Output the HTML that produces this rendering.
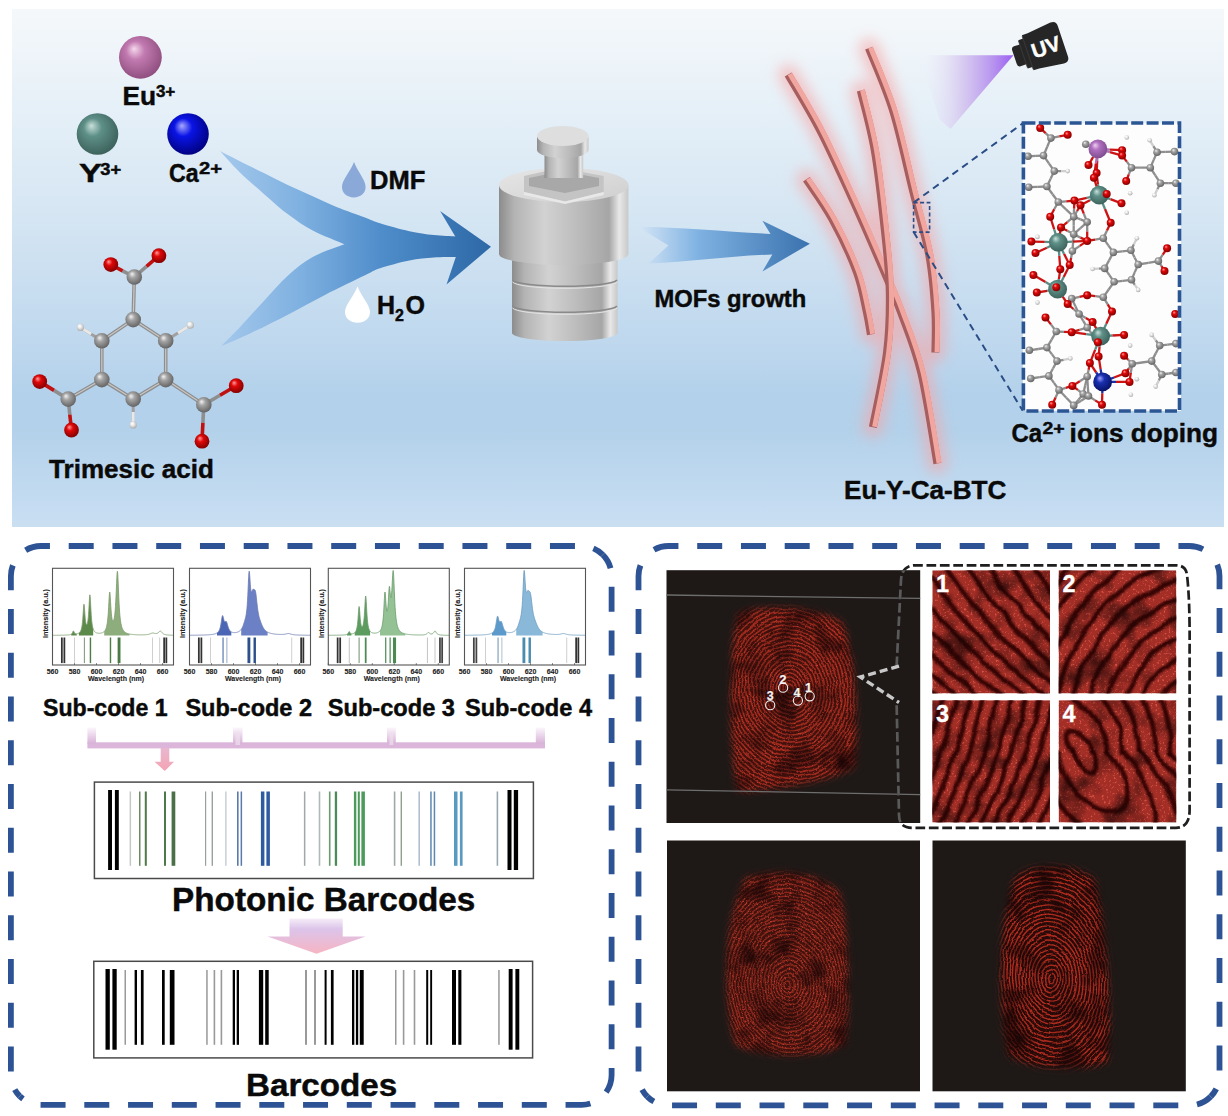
<!DOCTYPE html>
<html><head><meta charset="utf-8">
<style>
html,body{margin:0;padding:0;background:#fff;}
body{width:1228px;height:1116px;overflow:hidden;position:relative;}
svg{position:absolute;left:0;top:0;display:block;}
text{font-family:"Liberation Sans",sans-serif;font-weight:bold;fill:#0a0a0a;stroke:#0a0a0a;stroke-width:0.45px;}
</style></head>
<body>
<svg width="1228" height="1116" viewBox="0 0 1228 1116">
<defs>
<radialGradient id="gEu" cx="0.45" cy="0.42" r="0.62" fx="0.35" fy="0.3"><stop offset="0" stop-color="#f4d8ec"/><stop offset="0.35" stop-color="#c27ab0"/><stop offset="1" stop-color="#8c4c7c"/></radialGradient>
<radialGradient id="gY" cx="0.45" cy="0.42" r="0.62" fx="0.35" fy="0.3"><stop offset="0" stop-color="#c8e0da"/><stop offset="0.35" stop-color="#5e9088"/><stop offset="1" stop-color="#3a5e58"/></radialGradient>
<radialGradient id="gCa" cx="0.45" cy="0.42" r="0.62" fx="0.35" fy="0.3"><stop offset="0" stop-color="#a8a8ff"/><stop offset="0.35" stop-color="#0a14e6"/><stop offset="1" stop-color="#00007a"/></radialGradient>
<radialGradient id="gC" cx="0.45" cy="0.42" r="0.62" fx="0.35" fy="0.3"><stop offset="0" stop-color="#f2f2f2"/><stop offset="0.35" stop-color="#a4a4a4"/><stop offset="1" stop-color="#5e5e5e"/></radialGradient>
<radialGradient id="gO" cx="0.45" cy="0.42" r="0.62" fx="0.35" fy="0.3"><stop offset="0" stop-color="#ff9a9a"/><stop offset="0.35" stop-color="#e00808"/><stop offset="1" stop-color="#7a0000"/></radialGradient>
<radialGradient id="gH" cx="0.45" cy="0.42" r="0.62" fx="0.35" fy="0.3"><stop offset="0" stop-color="#ffffff"/><stop offset="0.35" stop-color="#eeeeee"/><stop offset="1" stop-color="#a8a8a8"/></radialGradient>
<radialGradient id="gEu2" cx="0.45" cy="0.42" r="0.62" fx="0.35" fy="0.3"><stop offset="0" stop-color="#f0d0f0"/><stop offset="0.35" stop-color="#b070c0"/><stop offset="1" stop-color="#7a4a8a"/></radialGradient>
<radialGradient id="gCa2" cx="0.45" cy="0.42" r="0.62" fx="0.35" fy="0.3"><stop offset="0" stop-color="#a0a0ff"/><stop offset="0.35" stop-color="#1830b0"/><stop offset="1" stop-color="#081060"/></radialGradient>
<linearGradient id="bgTop" x1="0" y1="0" x2="0" y2="1"><stop offset="0" stop-color="#f5f8fb"/><stop offset="0.03" stop-color="#f3f7fa"/><stop offset="0.235" stop-color="#e2eef7"/><stop offset="0.39" stop-color="#d6e6f3"/><stop offset="0.64" stop-color="#bfd8ee"/><stop offset="0.745" stop-color="#b3d1eb"/><stop offset="0.81" stop-color="#b3d1ea"/><stop offset="0.89" stop-color="#bcd7ee"/><stop offset="0.98" stop-color="#c7ddf2"/><stop offset="1" stop-color="#cadff0"/></linearGradient>
<linearGradient id="gArrow1" x1="221" y1="0" x2="491" y2="0" gradientUnits="userSpaceOnUse"><stop offset="0" stop-color="#a4c8ec"/><stop offset="0.3" stop-color="#7eb0e0"/><stop offset="0.6" stop-color="#4e8cca"/><stop offset="1" stop-color="#2e68a6"/></linearGradient>
<linearGradient id="gArrow2" x1="638" y1="0" x2="810" y2="0" gradientUnits="userSpaceOnUse"><stop offset="0" stop-color="#d6e6f6"/><stop offset="0.35" stop-color="#7fb2e2"/><stop offset="1" stop-color="#3a72ae"/></linearGradient>
<linearGradient id="gMetal" x1="0" y1="0" x2="1" y2="0"><stop offset="0" stop-color="#8c8c8c"/><stop offset="0.12" stop-color="#b4b4b4"/><stop offset="0.35" stop-color="#d2d2d2"/><stop offset="0.6" stop-color="#bdbdbd"/><stop offset="0.85" stop-color="#a6a6a6"/><stop offset="0.93" stop-color="#e8e8e8"/><stop offset="1" stop-color="#c8c8c8"/></linearGradient>
<linearGradient id="gMetalTop" x1="0" y1="0" x2="1" y2="1"><stop offset="0" stop-color="#e6e6e6"/><stop offset="1" stop-color="#cfcfcf"/></linearGradient>
<filter id="glow" x="-50%" y="-20%" width="200%" height="140%"><feGaussianBlur stdDeviation="7"/></filter>
<linearGradient id="gUV" x1="1013" y1="0" x2="922" y2="0" gradientUnits="userSpaceOnUse"><stop offset="0" stop-color="#9c60f2"/><stop offset="0.22" stop-color="#b48eee" stop-opacity="0.95"/><stop offset="0.55" stop-color="#d2c0ee" stop-opacity="0.8"/><stop offset="1" stop-color="#ece8f8" stop-opacity="0"/></linearGradient>
<linearGradient id="gStub" x1="0" y1="0" x2="0" y2="1"><stop offset="0" stop-color="#fbf6fb"/><stop offset="1" stop-color="#d8b2d8"/></linearGradient>
<linearGradient id="gStubMid" x1="0" y1="0" x2="1" y2="0"><stop offset="0" stop-color="#d8b8da"/><stop offset="0.5" stop-color="#f4eaf4"/><stop offset="1" stop-color="#d8b8da"/></linearGradient>
<linearGradient id="gDown" x1="0" y1="0" x2="0" y2="1"><stop offset="0" stop-color="#e8b8d0"/><stop offset="1" stop-color="#f5a3b3"/></linearGradient>
<linearGradient id="gDown2" x1="0" y1="0" x2="0" y2="1"><stop offset="0" stop-color="#f6eef8"/><stop offset="0.3" stop-color="#dcc4ea"/><stop offset="1" stop-color="#f7b4c2"/></linearGradient>
<filter id="dots" x="0" y="0" width="1" height="1" filterUnits="objectBoundingBox" color-interpolation-filters="sRGB"><feTurbulence type="fractalNoise" baseFrequency="0.75" numOctaves="2" seed="3"/><feColorMatrix type="matrix" values="0 0 0 0 0.92  0 0 0 0 0.3  0 0 0 0 0.25  0 0 0 6 -3.55"/></filter>
<filter id="dots2" x="0" y="0" width="1" height="1" filterUnits="objectBoundingBox" color-interpolation-filters="sRGB"><feTurbulence type="fractalNoise" baseFrequency="0.45" numOctaves="2" seed="5"/><feColorMatrix type="matrix" values="0 0 0 0 0.93  0 0 0 0 0.38  0 0 0 0 0.32  0 0 0 5 -2.9"/></filter>
<filter id="mottle" x="0" y="0" width="1" height="1" filterUnits="objectBoundingBox" color-interpolation-filters="sRGB"><feTurbulence type="fractalNoise" baseFrequency="0.035" numOctaves="3" seed="11"/><feColorMatrix type="matrix" values="0 0 0 0 0.1  0 0 0 0 0.02  0 0 0 0 0.02  0 0 0 2.2 -1.0"/></filter>
<filter id="blur4"><feGaussianBlur stdDeviation="3.5"/></filter>
<filter id="wavy2" x="-10%" y="-10%" width="120%" height="120%"><feTurbulence type="fractalNoise" baseFrequency="0.035" numOctaves="2" seed="21" result="t"/><feDisplacementMap in="SourceGraphic" in2="t" scale="8" xChannelSelector="R" yChannelSelector="G"/></filter>
<filter id="blur1"><feGaussianBlur stdDeviation="1.3"/></filter>
<filter id="blur06"><feGaussianBlur stdDeviation="0.5"/></filter>
<filter id="wavy" x="-10%" y="-10%" width="120%" height="120%"><feTurbulence type="fractalNoise" baseFrequency="0.05" numOctaves="2" seed="9" result="t"/><feDisplacementMap in="SourceGraphic" in2="t" scale="6" xChannelSelector="R" yChannelSelector="G"/></filter>
<clipPath id="clipA"><rect x="666.5" y="570.2" width="253.7" height="252.8"/></clipPath>
<mask id="maskA" maskUnits="userSpaceOnUse" x="666.5" y="570.2" width="253.7" height="252.8"><path d="M738 612 C 770 604, 815 606, 842 622 C 856 650, 858 720, 856 765 C 850 778, 760 793, 737 791 C 728 740, 728 650, 738 612 Z" fill="#fff" filter="url(#blur4)"/></mask>
<clipPath id="clipB"><rect x="667" y="840.5" width="253.0" height="250.8"/></clipPath>
<mask id="maskB" maskUnits="userSpaceOnUse" x="667" y="840.5" width="253.0" height="250.8"><path d="M745 878 C 775 866, 820 872, 840 892 C 850 930, 850 1010, 846 1045 C 820 1060, 760 1058, 735 1045 C 722 1000, 722 920, 745 878 Z" fill="#fff" filter="url(#blur4)"/></mask>
<clipPath id="clipC"><rect x="932.5" y="840.5" width="253.3" height="250.8"/></clipPath>
<mask id="maskC" maskUnits="userSpaceOnUse" x="932.5" y="840.5" width="253.3" height="250.8"><path d="M1015 878 C 1030 862, 1075 862, 1095 880 C 1108 930, 1112 1020, 1108 1062 C 1080 1072, 1030 1070, 1008 1055 C 997 1000, 998 920, 1015 878 Z" fill="#fff" filter="url(#blur4)"/></mask>
<clipPath id="tclip1"><rect x="932.3" y="570.3" width="117.7" height="123.1"/></clipPath>
<clipPath id="tclip2"><rect x="1058.6" y="570.3" width="117.7" height="123.1"/></clipPath>
<clipPath id="tclip3"><rect x="932.3" y="700.2" width="117.7" height="122.3"/></clipPath>
<clipPath id="tclip4"><rect x="1058.6" y="700.2" width="117.7" height="122.3"/></clipPath>
<clipPath id="brclip"><rect x="880" y="570.2" width="40.2" height="252.8"/></clipPath>
</defs>
<rect x="12" y="9" width="1212" height="518" fill="url(#bgTop)"/>
<circle cx="140.4" cy="57.3" r="21.4" fill="url(#gEu)"/>
<circle cx="97.5" cy="134" r="20.8" fill="url(#gY)"/>
<circle cx="188" cy="134" r="20.8" fill="url(#gCa)"/>
<text x="122.4" y="104.8" font-size="26.3">Eu</text><text x="155.9" y="97.1" font-size="17">3+</text>
<text x="79.05" y="182.4" font-size="25.5" textLength="22.9" lengthAdjust="spacingAndGlyphs">Y</text><text x="100.2" y="174.6" font-size="16.5" textLength="20.9" lengthAdjust="spacingAndGlyphs">3+</text>
<text x="169.1" y="181.7" font-size="25.5" textLength="29.6" lengthAdjust="spacingAndGlyphs">Ca</text><text x="199.1" y="174.4" font-size="16.5" textLength="23" lengthAdjust="spacingAndGlyphs">2+</text>
<line x1="133.2" y1="319.6" x2="101.8" y2="340.8" stroke="#8e8e8e" stroke-width="3.6"/>
<line x1="133.2" y1="319.6" x2="101.8" y2="340.8" stroke="#c8c8c8" stroke-width="1.2"/>
<line x1="101.8" y1="340.8" x2="101.8" y2="379.6" stroke="#8e8e8e" stroke-width="3.6"/>
<line x1="101.8" y1="340.8" x2="101.8" y2="379.6" stroke="#c8c8c8" stroke-width="1.2"/>
<line x1="101.8" y1="379.6" x2="133.2" y2="399.1" stroke="#8e8e8e" stroke-width="3.6"/>
<line x1="101.8" y1="379.6" x2="133.2" y2="399.1" stroke="#c8c8c8" stroke-width="1.2"/>
<line x1="133.2" y1="399.1" x2="165.7" y2="379.6" stroke="#8e8e8e" stroke-width="3.6"/>
<line x1="133.2" y1="399.1" x2="165.7" y2="379.6" stroke="#c8c8c8" stroke-width="1.2"/>
<line x1="165.7" y1="379.6" x2="165.7" y2="340.8" stroke="#8e8e8e" stroke-width="3.6"/>
<line x1="165.7" y1="379.6" x2="165.7" y2="340.8" stroke="#c8c8c8" stroke-width="1.2"/>
<line x1="165.7" y1="340.8" x2="133.2" y2="319.6" stroke="#8e8e8e" stroke-width="3.6"/>
<line x1="165.7" y1="340.8" x2="133.2" y2="319.6" stroke="#c8c8c8" stroke-width="1.2"/>
<line x1="133.2" y1="319.6" x2="134.3" y2="277" stroke="#8e8e8e" stroke-width="3.6"/>
<line x1="133.2" y1="319.6" x2="134.3" y2="277" stroke="#c8c8c8" stroke-width="1.2"/>
<line x1="101.8" y1="379.6" x2="68.2" y2="399.1" stroke="#8e8e8e" stroke-width="3.6"/>
<line x1="101.8" y1="379.6" x2="68.2" y2="399.1" stroke="#c8c8c8" stroke-width="1.2"/>
<line x1="165.7" y1="379.6" x2="203.8" y2="404.7" stroke="#8e8e8e" stroke-width="3.6"/>
<line x1="165.7" y1="379.6" x2="203.8" y2="404.7" stroke="#c8c8c8" stroke-width="1.2"/>
<line x1="134.3" y1="277" x2="122.6" y2="270.8" stroke="#8e8e8e" stroke-width="3.6"/>
<line x1="122.6" y1="270.8" x2="110.8" y2="264.6" stroke="#c01010" stroke-width="3.6"/>
<line x1="134.3" y1="277" x2="146.6" y2="266.4" stroke="#8e8e8e" stroke-width="3.6"/>
<line x1="146.6" y1="266.4" x2="158.9" y2="255.7" stroke="#c01010" stroke-width="3.6"/>
<line x1="68.2" y1="399.1" x2="54" y2="390.4" stroke="#8e8e8e" stroke-width="3.6"/>
<line x1="54" y1="390.4" x2="39.7" y2="381.6" stroke="#c01010" stroke-width="3.6"/>
<line x1="68.2" y1="399.1" x2="69.8" y2="414.6" stroke="#8e8e8e" stroke-width="3.6"/>
<line x1="69.8" y1="414.6" x2="71.5" y2="430" stroke="#c01010" stroke-width="3.6"/>
<line x1="203.8" y1="404.7" x2="220" y2="395.2" stroke="#8e8e8e" stroke-width="3.6"/>
<line x1="220" y1="395.2" x2="236.2" y2="385.7" stroke="#c01010" stroke-width="3.6"/>
<line x1="203.8" y1="404.7" x2="202.9" y2="422.9" stroke="#8e8e8e" stroke-width="3.6"/>
<line x1="202.9" y1="422.9" x2="202" y2="441.2" stroke="#c01010" stroke-width="3.6"/>
<line x1="101.8" y1="340.8" x2="80.5" y2="327.4" stroke="#a0a0a0" stroke-width="3"/>
<line x1="91.2" y1="334.1" x2="80.5" y2="327.4" stroke="#e8e8e8" stroke-width="3"/>
<line x1="165.7" y1="340.8" x2="190.3" y2="325.2" stroke="#a0a0a0" stroke-width="3"/>
<line x1="178" y1="333" x2="190.3" y2="325.2" stroke="#e8e8e8" stroke-width="3"/>
<line x1="133.2" y1="399.1" x2="133.2" y2="424.9" stroke="#a0a0a0" stroke-width="3"/>
<line x1="133.2" y1="412" x2="133.2" y2="424.9" stroke="#e8e8e8" stroke-width="3"/>
<circle cx="133.2" cy="319.6" r="7.8" fill="url(#gC)"/>
<circle cx="101.8" cy="340.8" r="7.8" fill="url(#gC)"/>
<circle cx="165.7" cy="340.8" r="7.8" fill="url(#gC)"/>
<circle cx="101.8" cy="379.6" r="7.8" fill="url(#gC)"/>
<circle cx="165.7" cy="379.6" r="7.8" fill="url(#gC)"/>
<circle cx="133.2" cy="399.1" r="7.8" fill="url(#gC)"/>
<circle cx="134.3" cy="277" r="7.8" fill="url(#gC)"/>
<circle cx="68.2" cy="399.1" r="7.8" fill="url(#gC)"/>
<circle cx="203.8" cy="404.7" r="7.8" fill="url(#gC)"/>
<circle cx="110.8" cy="264.6" r="7.4" fill="url(#gO)"/>
<circle cx="158.9" cy="255.7" r="7.4" fill="url(#gO)"/>
<circle cx="39.7" cy="381.6" r="7.4" fill="url(#gO)"/>
<circle cx="71.5" cy="430" r="7.4" fill="url(#gO)"/>
<circle cx="236.2" cy="385.7" r="7.4" fill="url(#gO)"/>
<circle cx="202" cy="441.2" r="7.4" fill="url(#gO)"/>
<circle cx="80.5" cy="327.4" r="3.6" fill="url(#gH)"/>
<circle cx="190.3" cy="325.2" r="3.6" fill="url(#gH)"/>
<circle cx="133.2" cy="424.9" r="3.6" fill="url(#gH)"/>
<text x="49.1" y="477.9" font-size="25.5" textLength="164.8" lengthAdjust="spacingAndGlyphs">Trimesic acid</text>
<path d="M220.0 151.0 C223.2 152.7 232.1 157.2 239.4 160.9 C246.7 164.6 255.7 169.0 263.9 173.1 C272.0 177.2 280.2 181.4 288.3 185.3 C296.4 189.2 304.6 192.6 312.7 196.3 C320.8 200.0 328.4 203.8 337.1 207.3 C345.8 210.8 357.9 214.8 365.0 217.5 C372.1 220.2 372.6 221.0 380.0 223.3 C387.4 225.6 400.3 229.2 409.3 231.2 C418.3 233.2 426.1 234.2 433.8 235.1 C441.5 236.0 451.7 236.3 455.3 236.5 L440.1 211.1 L491 246.8 L446.5 284.4 L455.8 257.1 C452.1 257.2 441.6 257.0 433.8 257.6 C426.1 258.2 418.3 258.7 409.3 260.5 C400.3 262.3 387.4 265.8 380.0 268.3 C372.6 270.8 374.2 270.9 365.0 275.3 C355.8 279.7 337.7 288.4 324.9 294.9 C312.1 301.4 300.5 308.1 288.3 314.4 C276.1 320.7 262.8 327.4 251.6 332.7 C240.4 338.0 226.2 343.9 221.1 346.2 C224.2 343.1 232.3 335.3 239.4 327.8 C246.5 320.3 255.7 309.8 263.9 301.0 C272.0 292.2 280.2 282.6 288.3 275.3 C296.4 268.0 303.3 262.2 312.7 257.0 C322.1 251.8 339.2 246.4 344.5 244.3 C339.2 242.0 322.1 235.4 312.7 230.5 C303.3 225.6 296.4 220.7 288.3 214.6 C280.2 208.5 272.0 201.0 263.9 193.9 C255.7 186.8 246.7 179.1 239.4 171.9 C232.1 164.8 223.2 154.5 220.0 151.0 Z" fill="url(#gArrow1)"/>
<path d="M354 162 C 358 172, 365.6 180, 365.6 187 C 365.6 193, 360.5 197.4, 353.8 197.4 C 347 197.4, 342 193, 342 187 C 342 180, 350 172, 354 162 Z" fill="#8aa8d8"/>
<text x="370" y="188.5" font-size="26" textLength="55.3" lengthAdjust="spacingAndGlyphs">DMF</text>
<path d="M357.5 286.6 C 361.5 297, 370 305, 370 312 C 370 318.5, 364.5 322.7, 357.5 322.7 C 350.5 322.7, 345 318.5, 345 312 C 345 305, 353.5 297, 357.5 286.6 Z" fill="#ffffff"/>
<text x="376.9" y="314.2" font-size="25">H</text><text x="394.9" y="320.7" font-size="16">2</text><text x="405.6" y="314.2" font-size="25">O</text>
<path d="M512 250 L512 333 A52.8 8 0 0 0 617.6 333 L617.6 250 Z" fill="url(#gMetal)"/>
<path d="M512.5 280 A52.5 7 0 0 0 617 280" fill="none" stroke="#8a8a8a" stroke-width="1.6"/>
<path d="M512.5 282 A52.5 7 0 0 0 617 282" fill="none" stroke="#e4e4e4" stroke-width="1"/>
<path d="M512.5 306 A52.5 7 0 0 0 617 306" fill="none" stroke="#8a8a8a" stroke-width="1.6"/>
<path d="M512.5 308 A52.5 7 0 0 0 617 308" fill="none" stroke="#e4e4e4" stroke-width="1"/>
<path d="M499 185 L499 254 A64.7 11 0 0 0 628.4 254 L628.4 185 Z" fill="url(#gMetal)"/>
<ellipse cx="563.7" cy="185" rx="64.7" ry="17" fill="url(#gMetalTop)"/>
<path d="M524 176 L560 168 L603.7 176 L603.7 192 L565 201.4 L524 192 Z" fill="#c4c4c4"/>
<path d="M529 178 L562 171 L599 178 L599 186 L565 193 L529 186 Z" fill="#a8a8a8"/>
<path d="M524 192 L565 201.4 L603.7 192 L603.7 195 L565 204 L524 195 Z" fill="#e8e8e8"/>
<rect x="544.5" y="145" width="38.7" height="33" fill="url(#gMetal)"/>
<path d="M537 137 L537 150 A25.8 8 0 0 0 588.6 150 L588.6 137 Z" fill="url(#gMetal)"/>
<ellipse cx="562.8" cy="136" rx="25.8" ry="10" fill="#dedede"/>
<path d="M637.9 226.7 C 680 227, 730 232, 770.5 233.9 L 762.4 220.8 L 809.9 243.7 L 762.4 271.5 L 772.3 254.5 C 730 256, 690 262, 648.7 263.4 L 668.4 245.5 Z" fill="url(#gArrow2)"/>
<text x="654.5" y="306.9" font-size="23.3" textLength="151.8" lengthAdjust="spacingAndGlyphs">MOFs growth</text>
<g filter="url(#glow)" opacity="0.6">
<path d="M788.2 74.4 C793.6 83.8 809.8 110.0 820.5 130.8 C831.2 151.6 842.6 177.2 852.7 199.4 C862.8 221.6 872.9 245.1 881.0 263.9 C889.1 282.7 894.4 294.2 901.1 312.3 C907.8 330.4 915.2 347.5 921.3 372.7 C927.3 397.9 934.7 448.4 937.4 463.5" fill="none" stroke="#f7a4a4" stroke-width="20" stroke-linecap="round"/>
<path d="M868.9 48.1 C872.9 58.5 885.7 86.7 893.1 110.6 C900.5 134.5 907.2 167.1 913.2 191.3 C919.2 215.5 925.7 235.6 929.4 255.8 C933.1 276.0 934.4 296.2 935.4 312.3 C936.4 328.4 935.4 345.9 935.4 352.6" fill="none" stroke="#f7a4a4" stroke-width="20" stroke-linecap="round"/>
<path d="M860.8 90.5 C863.1 100.6 870.9 127.5 874.9 151.0 C878.9 174.5 882.5 208.1 885.0 231.6 C887.5 255.1 889.5 271.9 889.8 292.1 C890.1 312.3 889.8 330.1 887.0 352.6 C884.2 375.1 875.2 414.8 872.9 427.2" fill="none" stroke="#f7a4a4" stroke-width="20" stroke-linecap="round"/>
<path d="M806.4 179.2 C810.8 185.9 824.2 204.1 832.6 219.5 C841.0 234.9 851.1 256.4 856.8 271.9 C862.5 287.4 864.5 301.9 866.9 312.3 C869.2 322.7 870.2 330.7 870.9 334.4" fill="none" stroke="#f7a4a4" stroke-width="20" stroke-linecap="round"/>
</g>
<path d="M788.2 74.4 C793.6 83.8 809.8 110.0 820.5 130.8 C831.2 151.6 842.6 177.2 852.7 199.4 C862.8 221.6 872.9 245.1 881.0 263.9 C889.1 282.7 894.4 294.2 901.1 312.3 C907.8 330.4 915.2 347.5 921.3 372.7 C927.3 397.9 934.7 448.4 937.4 463.5" fill="none" stroke="#a65e5e" stroke-width="8"/>
<path d="M788.2 74.4 C793.6 83.8 809.8 110.0 820.5 130.8 C831.2 151.6 842.6 177.2 852.7 199.4 C862.8 221.6 872.9 245.1 881.0 263.9 C889.1 282.7 894.4 294.2 901.1 312.3 C907.8 330.4 915.2 347.5 921.3 372.7 C927.3 397.9 934.7 448.4 937.4 463.5" fill="none" stroke="#f2a6a0" stroke-width="5" transform="translate(1.7,-0.5)"/>
<path d="M868.9 48.1 C872.9 58.5 885.7 86.7 893.1 110.6 C900.5 134.5 907.2 167.1 913.2 191.3 C919.2 215.5 925.7 235.6 929.4 255.8 C933.1 276.0 934.4 296.2 935.4 312.3 C936.4 328.4 935.4 345.9 935.4 352.6" fill="none" stroke="#a65e5e" stroke-width="8"/>
<path d="M868.9 48.1 C872.9 58.5 885.7 86.7 893.1 110.6 C900.5 134.5 907.2 167.1 913.2 191.3 C919.2 215.5 925.7 235.6 929.4 255.8 C933.1 276.0 934.4 296.2 935.4 312.3 C936.4 328.4 935.4 345.9 935.4 352.6" fill="none" stroke="#f2a6a0" stroke-width="5" transform="translate(1.7,-0.5)"/>
<path d="M860.8 90.5 C863.1 100.6 870.9 127.5 874.9 151.0 C878.9 174.5 882.5 208.1 885.0 231.6 C887.5 255.1 889.5 271.9 889.8 292.1 C890.1 312.3 889.8 330.1 887.0 352.6 C884.2 375.1 875.2 414.8 872.9 427.2" fill="none" stroke="#a65e5e" stroke-width="8"/>
<path d="M860.8 90.5 C863.1 100.6 870.9 127.5 874.9 151.0 C878.9 174.5 882.5 208.1 885.0 231.6 C887.5 255.1 889.5 271.9 889.8 292.1 C890.1 312.3 889.8 330.1 887.0 352.6 C884.2 375.1 875.2 414.8 872.9 427.2" fill="none" stroke="#f2a6a0" stroke-width="5" transform="translate(1.7,-0.5)"/>
<path d="M806.4 179.2 C810.8 185.9 824.2 204.1 832.6 219.5 C841.0 234.9 851.1 256.4 856.8 271.9 C862.5 287.4 864.5 301.9 866.9 312.3 C869.2 322.7 870.2 330.7 870.9 334.4" fill="none" stroke="#a65e5e" stroke-width="8"/>
<path d="M806.4 179.2 C810.8 185.9 824.2 204.1 832.6 219.5 C841.0 234.9 851.1 256.4 856.8 271.9 C862.5 287.4 864.5 301.9 866.9 312.3 C869.2 322.7 870.2 330.7 870.9 334.4" fill="none" stroke="#f2a6a0" stroke-width="5" transform="translate(1.7,-0.5)"/>
<rect x="913.6" y="202.6" width="16" height="29.5" fill="none" stroke="#2a4d86" stroke-width="1.6" stroke-dasharray="4 2.5"/>
<line x1="913.6" y1="202.6" x2="1022.8" y2="123.3" stroke="#2a4d86" stroke-width="2" stroke-dasharray="7 5"/>
<line x1="913.6" y1="232.1" x2="1022.8" y2="410.8" stroke="#2a4d86" stroke-width="2" stroke-dasharray="7 5"/>
<path d="M1013.5 55.3 L918 55.3 L940 120 L950.5 128.9 Z" fill="url(#gUV)"/>
<g transform="translate(1015.4,56.9) rotate(-18.4)"><path d="M2 -10.5 L8 -10.5 L8 -15 L13 -15 L13 -18.5 L19 -18.5 L44 -21.5 Q50 -22 50 -16 L50 16 Q50 22 44 21.5 L19 18.5 L13 18.5 L13 15 L8 15 L8 10.5 L2 10.5 Q-1 10.5 -1 7 L-1 -7 Q-1 -10.5 2 -10.5 Z" fill="#262626"/><path d="M8 -14 L8 14 M13 -17.5 L13 17.5" stroke="#3c3c3c" stroke-width="0.8"/><text x="32" y="7.6" font-size="21" style="fill:#fff;stroke:#fff" text-anchor="middle">UV</text></g>
<rect x="1022.8" y="123.3" width="158.2" height="287.5" fill="#fdfdfd"/>
<svg x="1022.8" y="123.3" width="158.2" height="287.5" viewBox="1022.8 123.3 158.2 287.5" overflow="hidden">
<line x1="1050.9" y1="138.1" x2="1047.2" y2="146.8" stroke="#8e8e8e" stroke-width="2.3"/>
<line x1="1047.2" y1="146.8" x2="1043.5" y2="155.6" stroke="#8e8e8e" stroke-width="2.3"/>
<line x1="1050.9" y1="138.1" x2="1059.3" y2="136.4" stroke="#8e8e8e" stroke-width="2.3"/>
<line x1="1059.3" y1="136.4" x2="1067.7" y2="134.8" stroke="#cc1414" stroke-width="2.3"/>
<line x1="1050.9" y1="138.1" x2="1045.6" y2="133.1" stroke="#8e8e8e" stroke-width="2.3"/>
<line x1="1045.6" y1="133.1" x2="1040.2" y2="128" stroke="#cc1414" stroke-width="2.3"/>
<line x1="1043.5" y1="155.6" x2="1048.9" y2="163.3" stroke="#8e8e8e" stroke-width="2.3"/>
<line x1="1048.9" y1="163.3" x2="1054.3" y2="171.1" stroke="#8e8e8e" stroke-width="2.3"/>
<line x1="1043.5" y1="155.6" x2="1035.8" y2="155.9" stroke="#8e8e8e" stroke-width="2.3"/>
<line x1="1035.8" y1="155.9" x2="1028" y2="156.3" stroke="#8e8e8e" stroke-width="2.3"/>
<line x1="1054.3" y1="171.1" x2="1050.6" y2="178.8" stroke="#8e8e8e" stroke-width="2.3"/>
<line x1="1050.6" y1="178.8" x2="1046.9" y2="186.5" stroke="#8e8e8e" stroke-width="2.3"/>
<line x1="1054.3" y1="171.1" x2="1061.0" y2="171.1" stroke="#8e8e8e" stroke-width="2.3"/>
<line x1="1061.0" y1="171.1" x2="1067.7" y2="171.1" stroke="#cfcfcf" stroke-width="2.3"/>
<line x1="1046.9" y1="186.5" x2="1052.6" y2="194.2" stroke="#8e8e8e" stroke-width="2.3"/>
<line x1="1052.6" y1="194.2" x2="1058.3" y2="202" stroke="#8e8e8e" stroke-width="2.3"/>
<line x1="1046.9" y1="186.5" x2="1037.8" y2="186.8" stroke="#8e8e8e" stroke-width="2.3"/>
<line x1="1037.8" y1="186.8" x2="1028.7" y2="187.2" stroke="#8e8e8e" stroke-width="2.3"/>
<line x1="1058.3" y1="202" x2="1066.0" y2="209.3" stroke="#8e8e8e" stroke-width="2.3"/>
<line x1="1066.0" y1="209.3" x2="1073.7" y2="216.7" stroke="#8e8e8e" stroke-width="2.3"/>
<line x1="1058.3" y1="202" x2="1066.3" y2="201.3" stroke="#8e8e8e" stroke-width="2.3"/>
<line x1="1066.3" y1="201.3" x2="1074.4" y2="200.6" stroke="#cc1414" stroke-width="2.3"/>
<line x1="1058.3" y1="202" x2="1054.2" y2="209.3" stroke="#8e8e8e" stroke-width="2.3"/>
<line x1="1054.2" y1="209.3" x2="1050.2" y2="216.7" stroke="#cc1414" stroke-width="2.3"/>
<line x1="1131.5" y1="167.7" x2="1140.9" y2="167.7" stroke="#8e8e8e" stroke-width="2.3"/>
<line x1="1140.9" y1="167.7" x2="1150.3" y2="167.7" stroke="#8e8e8e" stroke-width="2.3"/>
<line x1="1131.5" y1="167.7" x2="1126.8" y2="161.6" stroke="#8e8e8e" stroke-width="2.3"/>
<line x1="1126.8" y1="161.6" x2="1122.1" y2="155.6" stroke="#cc1414" stroke-width="2.3"/>
<line x1="1131.5" y1="167.7" x2="1128.8" y2="174.4" stroke="#8e8e8e" stroke-width="2.3"/>
<line x1="1128.8" y1="174.4" x2="1126.2" y2="181.1" stroke="#cc1414" stroke-width="2.3"/>
<line x1="1150.3" y1="167.7" x2="1153.7" y2="159.9" stroke="#8e8e8e" stroke-width="2.3"/>
<line x1="1153.7" y1="159.9" x2="1157.1" y2="152.2" stroke="#8e8e8e" stroke-width="2.3"/>
<line x1="1150.3" y1="167.7" x2="1155.3" y2="175.4" stroke="#8e8e8e" stroke-width="2.3"/>
<line x1="1155.3" y1="175.4" x2="1160.4" y2="183.2" stroke="#8e8e8e" stroke-width="2.3"/>
<line x1="1157.1" y1="152.2" x2="1165.8" y2="151.9" stroke="#8e8e8e" stroke-width="2.3"/>
<line x1="1165.8" y1="151.9" x2="1174.5" y2="151.6" stroke="#8e8e8e" stroke-width="2.3"/>
<line x1="1157.1" y1="152.2" x2="1153.4" y2="146.2" stroke="#8e8e8e" stroke-width="2.3"/>
<line x1="1153.4" y1="146.2" x2="1149.7" y2="140.2" stroke="#cfcfcf" stroke-width="2.3"/>
<line x1="1160.4" y1="183.2" x2="1168.2" y2="183.2" stroke="#8e8e8e" stroke-width="2.3"/>
<line x1="1168.2" y1="183.2" x2="1175.9" y2="183.2" stroke="#8e8e8e" stroke-width="2.3"/>
<line x1="1160.4" y1="183.2" x2="1157.4" y2="189.2" stroke="#8e8e8e" stroke-width="2.3"/>
<line x1="1157.4" y1="189.2" x2="1154.4" y2="195.2" stroke="#cfcfcf" stroke-width="2.3"/>
<line x1="1073.7" y1="216.7" x2="1080.5" y2="219.4" stroke="#8e8e8e" stroke-width="2.3"/>
<line x1="1080.5" y1="219.4" x2="1087.2" y2="222.1" stroke="#8e8e8e" stroke-width="2.3"/>
<line x1="1073.7" y1="216.7" x2="1073.7" y2="225.4" stroke="#8e8e8e" stroke-width="2.3"/>
<line x1="1073.7" y1="225.4" x2="1073.7" y2="234.2" stroke="#8e8e8e" stroke-width="2.3"/>
<line x1="1073.7" y1="216.7" x2="1074.1" y2="208.6" stroke="#8e8e8e" stroke-width="2.3"/>
<line x1="1074.1" y1="208.6" x2="1074.4" y2="200.6" stroke="#cc1414" stroke-width="2.3"/>
<line x1="1073.7" y1="216.7" x2="1077.1" y2="211.0" stroke="#8e8e8e" stroke-width="2.3"/>
<line x1="1077.1" y1="211.0" x2="1080.5" y2="205.3" stroke="#cc1414" stroke-width="2.3"/>
<line x1="1073.7" y1="216.7" x2="1067.3" y2="222.1" stroke="#8e8e8e" stroke-width="2.3"/>
<line x1="1067.3" y1="222.1" x2="1061" y2="227.5" stroke="#cc1414" stroke-width="2.3"/>
<line x1="1087.2" y1="222.1" x2="1080.5" y2="228.1" stroke="#8e8e8e" stroke-width="2.3"/>
<line x1="1080.5" y1="228.1" x2="1073.7" y2="234.2" stroke="#8e8e8e" stroke-width="2.3"/>
<line x1="1087.2" y1="222.1" x2="1083.8" y2="213.7" stroke="#8e8e8e" stroke-width="2.3"/>
<line x1="1083.8" y1="213.7" x2="1080.5" y2="205.3" stroke="#cc1414" stroke-width="2.3"/>
<line x1="1087.2" y1="222.1" x2="1087.2" y2="231.5" stroke="#8e8e8e" stroke-width="2.3"/>
<line x1="1087.2" y1="231.5" x2="1087.2" y2="240.9" stroke="#cc1414" stroke-width="2.3"/>
<line x1="1073.7" y1="234.2" x2="1073.1" y2="242.6" stroke="#8e8e8e" stroke-width="2.3"/>
<line x1="1073.1" y1="242.6" x2="1072.4" y2="251" stroke="#8e8e8e" stroke-width="2.3"/>
<line x1="1073.7" y1="234.2" x2="1067.3" y2="230.8" stroke="#8e8e8e" stroke-width="2.3"/>
<line x1="1067.3" y1="230.8" x2="1061" y2="227.5" stroke="#cc1414" stroke-width="2.3"/>
<line x1="1073.7" y1="234.2" x2="1080.5" y2="237.6" stroke="#8e8e8e" stroke-width="2.3"/>
<line x1="1080.5" y1="237.6" x2="1087.2" y2="240.9" stroke="#cc1414" stroke-width="2.3"/>
<line x1="1072.4" y1="251" x2="1079.8" y2="245.9" stroke="#8e8e8e" stroke-width="2.3"/>
<line x1="1079.8" y1="245.9" x2="1087.2" y2="240.9" stroke="#cc1414" stroke-width="2.3"/>
<line x1="1072.4" y1="251" x2="1071.1" y2="258.1" stroke="#8e8e8e" stroke-width="2.3"/>
<line x1="1071.1" y1="258.1" x2="1069.7" y2="265.1" stroke="#cc1414" stroke-width="2.3"/>
<line x1="1103.3" y1="238.2" x2="1108.3" y2="245.3" stroke="#8e8e8e" stroke-width="2.3"/>
<line x1="1108.3" y1="245.3" x2="1113.4" y2="252.4" stroke="#8e8e8e" stroke-width="2.3"/>
<line x1="1103.3" y1="238.2" x2="1107.0" y2="230.5" stroke="#8e8e8e" stroke-width="2.3"/>
<line x1="1107.0" y1="230.5" x2="1110.7" y2="222.8" stroke="#cc1414" stroke-width="2.3"/>
<line x1="1103.3" y1="238.2" x2="1095.2" y2="239.6" stroke="#8e8e8e" stroke-width="2.3"/>
<line x1="1095.2" y1="239.6" x2="1087.2" y2="240.9" stroke="#cc1414" stroke-width="2.3"/>
<line x1="1113.4" y1="252.4" x2="1122.2" y2="251.4" stroke="#8e8e8e" stroke-width="2.3"/>
<line x1="1122.2" y1="251.4" x2="1130.9" y2="250.3" stroke="#8e8e8e" stroke-width="2.3"/>
<line x1="1113.4" y1="252.4" x2="1109.1" y2="260.4" stroke="#8e8e8e" stroke-width="2.3"/>
<line x1="1109.1" y1="260.4" x2="1104.7" y2="268.4" stroke="#8e8e8e" stroke-width="2.3"/>
<line x1="1130.9" y1="250.3" x2="1134.6" y2="257.4" stroke="#8e8e8e" stroke-width="2.3"/>
<line x1="1134.6" y1="257.4" x2="1138.2" y2="264.5" stroke="#8e8e8e" stroke-width="2.3"/>
<line x1="1130.9" y1="250.3" x2="1133.9" y2="244.2" stroke="#8e8e8e" stroke-width="2.3"/>
<line x1="1133.9" y1="244.2" x2="1136.9" y2="238.2" stroke="#cfcfcf" stroke-width="2.3"/>
<line x1="1138.2" y1="264.5" x2="1148.3" y2="262.8" stroke="#8e8e8e" stroke-width="2.3"/>
<line x1="1148.3" y1="262.8" x2="1158.4" y2="261.1" stroke="#8e8e8e" stroke-width="2.3"/>
<line x1="1138.2" y1="264.5" x2="1134.8" y2="272.1" stroke="#8e8e8e" stroke-width="2.3"/>
<line x1="1134.8" y1="272.1" x2="1131.5" y2="279.8" stroke="#8e8e8e" stroke-width="2.3"/>
<line x1="1158.4" y1="261.1" x2="1162.8" y2="254.7" stroke="#8e8e8e" stroke-width="2.3"/>
<line x1="1162.8" y1="254.7" x2="1167.1" y2="248.3" stroke="#cc1414" stroke-width="2.3"/>
<line x1="1158.4" y1="261.1" x2="1161.5" y2="266.1" stroke="#8e8e8e" stroke-width="2.3"/>
<line x1="1161.5" y1="266.1" x2="1164.5" y2="271" stroke="#cc1414" stroke-width="2.3"/>
<line x1="1104.7" y1="268.4" x2="1109.4" y2="275.1" stroke="#8e8e8e" stroke-width="2.3"/>
<line x1="1109.4" y1="275.1" x2="1114.1" y2="281.8" stroke="#8e8e8e" stroke-width="2.3"/>
<line x1="1104.7" y1="268.4" x2="1098.7" y2="268.7" stroke="#8e8e8e" stroke-width="2.3"/>
<line x1="1098.7" y1="268.7" x2="1092.6" y2="269" stroke="#cfcfcf" stroke-width="2.3"/>
<line x1="1114.1" y1="281.8" x2="1122.8" y2="280.8" stroke="#8e8e8e" stroke-width="2.3"/>
<line x1="1122.8" y1="280.8" x2="1131.5" y2="279.8" stroke="#8e8e8e" stroke-width="2.3"/>
<line x1="1114.1" y1="281.8" x2="1108.7" y2="289.5" stroke="#8e8e8e" stroke-width="2.3"/>
<line x1="1108.7" y1="289.5" x2="1103.3" y2="297.2" stroke="#8e8e8e" stroke-width="2.3"/>
<line x1="1131.5" y1="279.8" x2="1134.8" y2="284.9" stroke="#8e8e8e" stroke-width="2.3"/>
<line x1="1134.8" y1="284.9" x2="1138.2" y2="289.9" stroke="#cfcfcf" stroke-width="2.3"/>
<line x1="1103.3" y1="297.2" x2="1095.2" y2="296.2" stroke="#8e8e8e" stroke-width="2.3"/>
<line x1="1095.2" y1="296.2" x2="1087.2" y2="295.2" stroke="#cc1414" stroke-width="2.3"/>
<line x1="1103.3" y1="297.2" x2="1107.7" y2="304.3" stroke="#8e8e8e" stroke-width="2.3"/>
<line x1="1107.7" y1="304.3" x2="1112" y2="311.4" stroke="#cc1414" stroke-width="2.3"/>
<line x1="1056.3" y1="331.5" x2="1051.6" y2="339.6" stroke="#8e8e8e" stroke-width="2.3"/>
<line x1="1051.6" y1="339.6" x2="1046.9" y2="347.6" stroke="#8e8e8e" stroke-width="2.3"/>
<line x1="1056.3" y1="331.5" x2="1050.9" y2="324.4" stroke="#8e8e8e" stroke-width="2.3"/>
<line x1="1050.9" y1="324.4" x2="1045.5" y2="317.4" stroke="#cc1414" stroke-width="2.3"/>
<line x1="1056.3" y1="331.5" x2="1064.0" y2="331.9" stroke="#8e8e8e" stroke-width="2.3"/>
<line x1="1064.0" y1="331.9" x2="1071.7" y2="332.2" stroke="#cc1414" stroke-width="2.3"/>
<line x1="1046.9" y1="347.6" x2="1038.2" y2="349.0" stroke="#8e8e8e" stroke-width="2.3"/>
<line x1="1038.2" y1="349.0" x2="1029.4" y2="350.3" stroke="#8e8e8e" stroke-width="2.3"/>
<line x1="1046.9" y1="347.6" x2="1052.0" y2="354.4" stroke="#8e8e8e" stroke-width="2.3"/>
<line x1="1052.0" y1="354.4" x2="1057" y2="361.1" stroke="#8e8e8e" stroke-width="2.3"/>
<line x1="1057" y1="361.1" x2="1053.0" y2="368.5" stroke="#8e8e8e" stroke-width="2.3"/>
<line x1="1053.0" y1="368.5" x2="1048.9" y2="375.9" stroke="#8e8e8e" stroke-width="2.3"/>
<line x1="1057" y1="361.1" x2="1063.7" y2="359.8" stroke="#8e8e8e" stroke-width="2.3"/>
<line x1="1063.7" y1="359.8" x2="1070.4" y2="358.4" stroke="#cfcfcf" stroke-width="2.3"/>
<line x1="1048.9" y1="375.9" x2="1039.8" y2="377.2" stroke="#8e8e8e" stroke-width="2.3"/>
<line x1="1039.8" y1="377.2" x2="1030.7" y2="378.5" stroke="#8e8e8e" stroke-width="2.3"/>
<line x1="1048.9" y1="375.9" x2="1054.0" y2="382.9" stroke="#8e8e8e" stroke-width="2.3"/>
<line x1="1054.0" y1="382.9" x2="1059" y2="390" stroke="#8e8e8e" stroke-width="2.3"/>
<line x1="1059" y1="390" x2="1066.3" y2="397.7" stroke="#8e8e8e" stroke-width="2.3"/>
<line x1="1066.3" y1="397.7" x2="1073.7" y2="405.4" stroke="#8e8e8e" stroke-width="2.3"/>
<line x1="1059" y1="390" x2="1065.7" y2="387.9" stroke="#8e8e8e" stroke-width="2.3"/>
<line x1="1065.7" y1="387.9" x2="1072.4" y2="385.9" stroke="#cc1414" stroke-width="2.3"/>
<line x1="1059" y1="390" x2="1055.6" y2="397.4" stroke="#8e8e8e" stroke-width="2.3"/>
<line x1="1055.6" y1="397.4" x2="1052.2" y2="404.7" stroke="#cc1414" stroke-width="2.3"/>
<line x1="1132.2" y1="363.8" x2="1142.0" y2="362.5" stroke="#8e8e8e" stroke-width="2.3"/>
<line x1="1142.0" y1="362.5" x2="1151.7" y2="361.1" stroke="#8e8e8e" stroke-width="2.3"/>
<line x1="1132.2" y1="363.8" x2="1128.2" y2="359.8" stroke="#8e8e8e" stroke-width="2.3"/>
<line x1="1128.2" y1="359.8" x2="1124.1" y2="355.7" stroke="#cc1414" stroke-width="2.3"/>
<line x1="1132.2" y1="363.8" x2="1128.8" y2="368.5" stroke="#8e8e8e" stroke-width="2.3"/>
<line x1="1128.8" y1="368.5" x2="1125.5" y2="373.2" stroke="#cc1414" stroke-width="2.3"/>
<line x1="1132.2" y1="363.8" x2="1130.8" y2="372.9" stroke="#8e8e8e" stroke-width="2.3"/>
<line x1="1130.8" y1="372.9" x2="1129.5" y2="381.9" stroke="#cc1414" stroke-width="2.3"/>
<line x1="1151.7" y1="361.1" x2="1155.7" y2="353.4" stroke="#8e8e8e" stroke-width="2.3"/>
<line x1="1155.7" y1="353.4" x2="1159.7" y2="345.6" stroke="#8e8e8e" stroke-width="2.3"/>
<line x1="1151.7" y1="361.1" x2="1156.8" y2="367.8" stroke="#8e8e8e" stroke-width="2.3"/>
<line x1="1156.8" y1="367.8" x2="1161.8" y2="374.5" stroke="#8e8e8e" stroke-width="2.3"/>
<line x1="1159.7" y1="345.6" x2="1167.8" y2="344.6" stroke="#8e8e8e" stroke-width="2.3"/>
<line x1="1167.8" y1="344.6" x2="1175.9" y2="343.6" stroke="#8e8e8e" stroke-width="2.3"/>
<line x1="1159.7" y1="345.6" x2="1155.7" y2="340.2" stroke="#8e8e8e" stroke-width="2.3"/>
<line x1="1155.7" y1="340.2" x2="1151.7" y2="334.9" stroke="#cfcfcf" stroke-width="2.3"/>
<line x1="1161.8" y1="374.5" x2="1168.8" y2="373.5" stroke="#8e8e8e" stroke-width="2.3"/>
<line x1="1168.8" y1="373.5" x2="1175.9" y2="372.5" stroke="#8e8e8e" stroke-width="2.3"/>
<line x1="1161.8" y1="374.5" x2="1158.8" y2="380.6" stroke="#8e8e8e" stroke-width="2.3"/>
<line x1="1158.8" y1="380.6" x2="1155.7" y2="386.6" stroke="#cfcfcf" stroke-width="2.3"/>
<line x1="1079.1" y1="314" x2="1083.2" y2="320.8" stroke="#8e8e8e" stroke-width="2.3"/>
<line x1="1083.2" y1="320.8" x2="1087.2" y2="327.5" stroke="#8e8e8e" stroke-width="2.3"/>
<line x1="1079.1" y1="314" x2="1075.4" y2="306.3" stroke="#8e8e8e" stroke-width="2.3"/>
<line x1="1075.4" y1="306.3" x2="1071.7" y2="298.6" stroke="#8e8e8e" stroke-width="2.3"/>
<line x1="1079.1" y1="314" x2="1073.4" y2="309.0" stroke="#8e8e8e" stroke-width="2.3"/>
<line x1="1073.4" y1="309.0" x2="1067.7" y2="304" stroke="#cc1414" stroke-width="2.3"/>
<line x1="1079.1" y1="314" x2="1085.8" y2="318.1" stroke="#8e8e8e" stroke-width="2.3"/>
<line x1="1085.8" y1="318.1" x2="1092.6" y2="322.1" stroke="#cc1414" stroke-width="2.3"/>
<line x1="1087.2" y1="327.5" x2="1089.9" y2="324.8" stroke="#8e8e8e" stroke-width="2.3"/>
<line x1="1089.9" y1="324.8" x2="1092.6" y2="322.1" stroke="#cc1414" stroke-width="2.3"/>
<line x1="1087.2" y1="327.5" x2="1079.5" y2="329.9" stroke="#8e8e8e" stroke-width="2.3"/>
<line x1="1079.5" y1="329.9" x2="1071.7" y2="332.2" stroke="#cc1414" stroke-width="2.3"/>
<line x1="1087.2" y1="327.5" x2="1092.6" y2="334.9" stroke="#8e8e8e" stroke-width="2.3"/>
<line x1="1092.6" y1="334.9" x2="1097.9" y2="342.3" stroke="#cc1414" stroke-width="2.3"/>
<line x1="1071.7" y1="298.6" x2="1079.5" y2="296.9" stroke="#8e8e8e" stroke-width="2.3"/>
<line x1="1079.5" y1="296.9" x2="1087.2" y2="295.2" stroke="#cc1414" stroke-width="2.3"/>
<line x1="1071.7" y1="298.6" x2="1069.7" y2="301.3" stroke="#8e8e8e" stroke-width="2.3"/>
<line x1="1069.7" y1="301.3" x2="1067.7" y2="304" stroke="#cc1414" stroke-width="2.3"/>
<line x1="1087.2" y1="376.5" x2="1085.2" y2="385.2" stroke="#8e8e8e" stroke-width="2.3"/>
<line x1="1085.2" y1="385.2" x2="1083.2" y2="394" stroke="#8e8e8e" stroke-width="2.3"/>
<line x1="1087.2" y1="376.5" x2="1087.8" y2="386.2" stroke="#8e8e8e" stroke-width="2.3"/>
<line x1="1087.8" y1="386.2" x2="1088.5" y2="396" stroke="#8e8e8e" stroke-width="2.3"/>
<line x1="1087.2" y1="376.5" x2="1088.6" y2="369.8" stroke="#8e8e8e" stroke-width="2.3"/>
<line x1="1088.6" y1="369.8" x2="1089.9" y2="363.1" stroke="#cc1414" stroke-width="2.3"/>
<line x1="1087.2" y1="376.5" x2="1079.8" y2="381.2" stroke="#8e8e8e" stroke-width="2.3"/>
<line x1="1079.8" y1="381.2" x2="1072.4" y2="385.9" stroke="#cc1414" stroke-width="2.3"/>
<line x1="1083.2" y1="394" x2="1085.8" y2="395.0" stroke="#8e8e8e" stroke-width="2.3"/>
<line x1="1085.8" y1="395.0" x2="1088.5" y2="396" stroke="#8e8e8e" stroke-width="2.3"/>
<line x1="1083.2" y1="394" x2="1078.5" y2="399.7" stroke="#8e8e8e" stroke-width="2.3"/>
<line x1="1078.5" y1="399.7" x2="1073.7" y2="405.4" stroke="#8e8e8e" stroke-width="2.3"/>
<line x1="1083.2" y1="394" x2="1077.8" y2="389.9" stroke="#8e8e8e" stroke-width="2.3"/>
<line x1="1077.8" y1="389.9" x2="1072.4" y2="385.9" stroke="#cc1414" stroke-width="2.3"/>
<line x1="1088.5" y1="396" x2="1081.1" y2="400.7" stroke="#8e8e8e" stroke-width="2.3"/>
<line x1="1081.1" y1="400.7" x2="1073.7" y2="405.4" stroke="#8e8e8e" stroke-width="2.3"/>
<line x1="1088.5" y1="396" x2="1095.2" y2="400.4" stroke="#8e8e8e" stroke-width="2.3"/>
<line x1="1095.2" y1="400.4" x2="1102" y2="404.7" stroke="#cc1414" stroke-width="2.3"/>
<line x1="1088.5" y1="165" x2="1093.2" y2="156.9" stroke="#cc1414" stroke-width="2.3"/>
<line x1="1093.2" y1="156.9" x2="1097.9" y2="148.9" stroke="#b070b4" stroke-width="2.3"/>
<line x1="1096.6" y1="173.1" x2="1095.2" y2="175.4" stroke="#cc1414" stroke-width="2.3"/>
<line x1="1095.2" y1="175.4" x2="1093.9" y2="177.8" stroke="#cc1414" stroke-width="2.3"/>
<line x1="1096.6" y1="173.1" x2="1097.2" y2="161.0" stroke="#cc1414" stroke-width="2.3"/>
<line x1="1097.2" y1="161.0" x2="1097.9" y2="148.9" stroke="#b070b4" stroke-width="2.3"/>
<line x1="1096.6" y1="173.1" x2="1097.9" y2="184.1" stroke="#cc1414" stroke-width="2.3"/>
<line x1="1097.9" y1="184.1" x2="1099.3" y2="195.2" stroke="#5c8c86" stroke-width="2.3"/>
<line x1="1093.9" y1="177.8" x2="1095.9" y2="163.4" stroke="#cc1414" stroke-width="2.3"/>
<line x1="1095.9" y1="163.4" x2="1097.9" y2="148.9" stroke="#b070b4" stroke-width="2.3"/>
<line x1="1093.9" y1="177.8" x2="1096.6" y2="186.5" stroke="#cc1414" stroke-width="2.3"/>
<line x1="1096.6" y1="186.5" x2="1099.3" y2="195.2" stroke="#5c8c86" stroke-width="2.3"/>
<line x1="1122.1" y1="150.2" x2="1122.1" y2="152.9" stroke="#cc1414" stroke-width="2.3"/>
<line x1="1122.1" y1="152.9" x2="1122.1" y2="155.6" stroke="#cc1414" stroke-width="2.3"/>
<line x1="1122.1" y1="150.2" x2="1110.0" y2="149.6" stroke="#cc1414" stroke-width="2.3"/>
<line x1="1110.0" y1="149.6" x2="1097.9" y2="148.9" stroke="#b070b4" stroke-width="2.3"/>
<line x1="1122.1" y1="155.6" x2="1110.0" y2="152.2" stroke="#cc1414" stroke-width="2.3"/>
<line x1="1110.0" y1="152.2" x2="1097.9" y2="148.9" stroke="#b070b4" stroke-width="2.3"/>
<line x1="1106.7" y1="193.9" x2="1103.0" y2="194.6" stroke="#cc1414" stroke-width="2.3"/>
<line x1="1103.0" y1="194.6" x2="1099.3" y2="195.2" stroke="#5c8c86" stroke-width="2.3"/>
<line x1="1074.4" y1="200.6" x2="1086.8" y2="197.9" stroke="#cc1414" stroke-width="2.3"/>
<line x1="1086.8" y1="197.9" x2="1099.3" y2="195.2" stroke="#5c8c86" stroke-width="2.3"/>
<line x1="1080.5" y1="205.3" x2="1089.9" y2="200.2" stroke="#cc1414" stroke-width="2.3"/>
<line x1="1089.9" y1="200.2" x2="1099.3" y2="195.2" stroke="#5c8c86" stroke-width="2.3"/>
<line x1="1121.5" y1="203.3" x2="1110.4" y2="199.2" stroke="#cc1414" stroke-width="2.3"/>
<line x1="1110.4" y1="199.2" x2="1099.3" y2="195.2" stroke="#5c8c86" stroke-width="2.3"/>
<line x1="1050.2" y1="216.7" x2="1054.2" y2="229.5" stroke="#cc1414" stroke-width="2.3"/>
<line x1="1054.2" y1="229.5" x2="1058.3" y2="242.3" stroke="#5c8c86" stroke-width="2.3"/>
<line x1="1110.7" y1="222.8" x2="1105.0" y2="209.0" stroke="#cc1414" stroke-width="2.3"/>
<line x1="1105.0" y1="209.0" x2="1099.3" y2="195.2" stroke="#5c8c86" stroke-width="2.3"/>
<line x1="1061" y1="227.5" x2="1059.7" y2="234.9" stroke="#cc1414" stroke-width="2.3"/>
<line x1="1059.7" y1="234.9" x2="1058.3" y2="242.3" stroke="#5c8c86" stroke-width="2.3"/>
<line x1="1087.2" y1="240.9" x2="1072.8" y2="241.6" stroke="#cc1414" stroke-width="2.3"/>
<line x1="1072.8" y1="241.6" x2="1058.3" y2="242.3" stroke="#5c8c86" stroke-width="2.3"/>
<line x1="1031.4" y1="241.6" x2="1044.8" y2="241.9" stroke="#cc1414" stroke-width="2.3"/>
<line x1="1044.8" y1="241.9" x2="1058.3" y2="242.3" stroke="#5c8c86" stroke-width="2.3"/>
<line x1="1035.5" y1="253" x2="1046.9" y2="247.7" stroke="#cc1414" stroke-width="2.3"/>
<line x1="1046.9" y1="247.7" x2="1058.3" y2="242.3" stroke="#5c8c86" stroke-width="2.3"/>
<line x1="1069.7" y1="265.1" x2="1064.0" y2="253.7" stroke="#cc1414" stroke-width="2.3"/>
<line x1="1064.0" y1="253.7" x2="1058.3" y2="242.3" stroke="#5c8c86" stroke-width="2.3"/>
<line x1="1069.7" y1="265.1" x2="1063.7" y2="277.1" stroke="#cc1414" stroke-width="2.3"/>
<line x1="1063.7" y1="277.1" x2="1057.6" y2="289.2" stroke="#5c8c86" stroke-width="2.3"/>
<line x1="1060.3" y1="269.2" x2="1059.3" y2="255.8" stroke="#cc1414" stroke-width="2.3"/>
<line x1="1059.3" y1="255.8" x2="1058.3" y2="242.3" stroke="#5c8c86" stroke-width="2.3"/>
<line x1="1060.3" y1="269.2" x2="1058.9" y2="279.2" stroke="#cc1414" stroke-width="2.3"/>
<line x1="1058.9" y1="279.2" x2="1057.6" y2="289.2" stroke="#5c8c86" stroke-width="2.3"/>
<line x1="1033.4" y1="275.1" x2="1045.5" y2="282.1" stroke="#cc1414" stroke-width="2.3"/>
<line x1="1045.5" y1="282.1" x2="1057.6" y2="289.2" stroke="#5c8c86" stroke-width="2.3"/>
<line x1="1036.8" y1="292.5" x2="1047.2" y2="290.9" stroke="#cc1414" stroke-width="2.3"/>
<line x1="1047.2" y1="290.9" x2="1057.6" y2="289.2" stroke="#5c8c86" stroke-width="2.3"/>
<line x1="1056.3" y1="287.2" x2="1056.9" y2="288.2" stroke="#cc1414" stroke-width="2.3"/>
<line x1="1056.9" y1="288.2" x2="1057.6" y2="289.2" stroke="#5c8c86" stroke-width="2.3"/>
<line x1="1067.7" y1="304" x2="1062.7" y2="296.6" stroke="#cc1414" stroke-width="2.3"/>
<line x1="1062.7" y1="296.6" x2="1057.6" y2="289.2" stroke="#5c8c86" stroke-width="2.3"/>
<line x1="1112" y1="311.4" x2="1106.3" y2="323.8" stroke="#cc1414" stroke-width="2.3"/>
<line x1="1106.3" y1="323.8" x2="1100.6" y2="336.2" stroke="#5c8c86" stroke-width="2.3"/>
<line x1="1092.6" y1="322.1" x2="1096.6" y2="329.1" stroke="#cc1414" stroke-width="2.3"/>
<line x1="1096.6" y1="329.1" x2="1100.6" y2="336.2" stroke="#5c8c86" stroke-width="2.3"/>
<line x1="1071.7" y1="332.2" x2="1086.2" y2="334.2" stroke="#cc1414" stroke-width="2.3"/>
<line x1="1086.2" y1="334.2" x2="1100.6" y2="336.2" stroke="#5c8c86" stroke-width="2.3"/>
<line x1="1124.1" y1="334.9" x2="1112.3" y2="335.5" stroke="#cc1414" stroke-width="2.3"/>
<line x1="1112.3" y1="335.5" x2="1100.6" y2="336.2" stroke="#5c8c86" stroke-width="2.3"/>
<line x1="1097.9" y1="342.3" x2="1099.2" y2="339.2" stroke="#cc1414" stroke-width="2.3"/>
<line x1="1099.2" y1="339.2" x2="1100.6" y2="336.2" stroke="#5c8c86" stroke-width="2.3"/>
<line x1="1098.6" y1="356.4" x2="1099.6" y2="346.3" stroke="#cc1414" stroke-width="2.3"/>
<line x1="1099.6" y1="346.3" x2="1100.6" y2="336.2" stroke="#5c8c86" stroke-width="2.3"/>
<line x1="1098.6" y1="356.4" x2="1100.6" y2="369.1" stroke="#cc1414" stroke-width="2.3"/>
<line x1="1100.6" y1="369.1" x2="1102.6" y2="381.9" stroke="#1e2ea0" stroke-width="2.3"/>
<line x1="1089.9" y1="363.1" x2="1095.2" y2="349.6" stroke="#cc1414" stroke-width="2.3"/>
<line x1="1095.2" y1="349.6" x2="1100.6" y2="336.2" stroke="#5c8c86" stroke-width="2.3"/>
<line x1="1089.9" y1="363.1" x2="1096.2" y2="372.5" stroke="#cc1414" stroke-width="2.3"/>
<line x1="1096.2" y1="372.5" x2="1102.6" y2="381.9" stroke="#1e2ea0" stroke-width="2.3"/>
<line x1="1125.5" y1="373.2" x2="1114.0" y2="377.5" stroke="#cc1414" stroke-width="2.3"/>
<line x1="1114.0" y1="377.5" x2="1102.6" y2="381.9" stroke="#1e2ea0" stroke-width="2.3"/>
<line x1="1129.5" y1="381.9" x2="1116.0" y2="381.9" stroke="#cc1414" stroke-width="2.3"/>
<line x1="1116.0" y1="381.9" x2="1102.6" y2="381.9" stroke="#1e2ea0" stroke-width="2.3"/>
<line x1="1102" y1="404.7" x2="1102.3" y2="393.3" stroke="#cc1414" stroke-width="2.3"/>
<line x1="1102.3" y1="393.3" x2="1102.6" y2="381.9" stroke="#1e2ea0" stroke-width="2.3"/>
<circle cx="1050.9" cy="138.1" r="3.8" fill="url(#gC)"/>
<circle cx="1043.5" cy="155.6" r="3.8" fill="url(#gC)"/>
<circle cx="1054.3" cy="171.1" r="3.8" fill="url(#gC)"/>
<circle cx="1046.9" cy="186.5" r="3.8" fill="url(#gC)"/>
<circle cx="1058.3" cy="202" r="3.8" fill="url(#gC)"/>
<circle cx="1028" cy="156.3" r="3.8" fill="url(#gC)"/>
<circle cx="1028.7" cy="187.2" r="3.8" fill="url(#gC)"/>
<circle cx="1131.5" cy="167.7" r="3.8" fill="url(#gC)"/>
<circle cx="1150.3" cy="167.7" r="3.8" fill="url(#gC)"/>
<circle cx="1157.1" cy="152.2" r="3.8" fill="url(#gC)"/>
<circle cx="1174.5" cy="151.6" r="3.8" fill="url(#gC)"/>
<circle cx="1160.4" cy="183.2" r="3.8" fill="url(#gC)"/>
<circle cx="1175.9" cy="183.2" r="3.8" fill="url(#gC)"/>
<circle cx="1073.7" cy="216.7" r="3.8" fill="url(#gC)"/>
<circle cx="1087.2" cy="222.1" r="3.8" fill="url(#gC)"/>
<circle cx="1073.7" cy="234.2" r="3.8" fill="url(#gC)"/>
<circle cx="1072.4" cy="251" r="3.8" fill="url(#gC)"/>
<circle cx="1103.3" cy="238.2" r="3.8" fill="url(#gC)"/>
<circle cx="1113.4" cy="252.4" r="3.8" fill="url(#gC)"/>
<circle cx="1130.9" cy="250.3" r="3.8" fill="url(#gC)"/>
<circle cx="1138.2" cy="264.5" r="3.8" fill="url(#gC)"/>
<circle cx="1158.4" cy="261.1" r="3.8" fill="url(#gC)"/>
<circle cx="1085.8" cy="144.2" r="3.8" fill="url(#gC)"/>
<circle cx="1104.7" cy="268.4" r="3.8" fill="url(#gC)"/>
<circle cx="1114.1" cy="281.8" r="3.8" fill="url(#gC)"/>
<circle cx="1131.5" cy="279.8" r="3.8" fill="url(#gC)"/>
<circle cx="1103.3" cy="297.2" r="3.8" fill="url(#gC)"/>
<circle cx="1056.3" cy="331.5" r="3.8" fill="url(#gC)"/>
<circle cx="1046.9" cy="347.6" r="3.8" fill="url(#gC)"/>
<circle cx="1029.4" cy="350.3" r="3.8" fill="url(#gC)"/>
<circle cx="1057" cy="361.1" r="3.8" fill="url(#gC)"/>
<circle cx="1048.9" cy="375.9" r="3.8" fill="url(#gC)"/>
<circle cx="1030.7" cy="378.5" r="3.8" fill="url(#gC)"/>
<circle cx="1059" cy="390" r="3.8" fill="url(#gC)"/>
<circle cx="1132.2" cy="363.8" r="3.8" fill="url(#gC)"/>
<circle cx="1151.7" cy="361.1" r="3.8" fill="url(#gC)"/>
<circle cx="1159.7" cy="345.6" r="3.8" fill="url(#gC)"/>
<circle cx="1175.9" cy="343.6" r="3.8" fill="url(#gC)"/>
<circle cx="1161.8" cy="374.5" r="3.8" fill="url(#gC)"/>
<circle cx="1175.9" cy="372.5" r="3.8" fill="url(#gC)"/>
<circle cx="1079.1" cy="314" r="3.8" fill="url(#gC)"/>
<circle cx="1087.2" cy="327.5" r="3.8" fill="url(#gC)"/>
<circle cx="1071.7" cy="298.6" r="3.8" fill="url(#gC)"/>
<circle cx="1087.2" cy="376.5" r="3.8" fill="url(#gC)"/>
<circle cx="1083.2" cy="394" r="3.8" fill="url(#gC)"/>
<circle cx="1088.5" cy="396" r="3.8" fill="url(#gC)"/>
<circle cx="1073.7" cy="405.4" r="3.8" fill="url(#gC)"/>
<circle cx="1067.7" cy="171.1" r="2.3" fill="url(#gH)"/>
<circle cx="1149.7" cy="140.2" r="2.3" fill="url(#gH)"/>
<circle cx="1126.8" cy="137.5" r="2.3" fill="url(#gH)"/>
<circle cx="1154.4" cy="195.2" r="2.3" fill="url(#gH)"/>
<circle cx="1136.9" cy="238.2" r="2.3" fill="url(#gH)"/>
<circle cx="1130.2" cy="193.2" r="2.3" fill="url(#gH)"/>
<circle cx="1126.8" cy="212.7" r="2.3" fill="url(#gH)"/>
<circle cx="1037.5" cy="236.9" r="2.3" fill="url(#gH)"/>
<circle cx="1037.5" cy="302.6" r="2.3" fill="url(#gH)"/>
<circle cx="1070.4" cy="358.4" r="2.3" fill="url(#gH)"/>
<circle cx="1130.2" cy="345.6" r="2.3" fill="url(#gH)"/>
<circle cx="1151.7" cy="334.9" r="2.3" fill="url(#gH)"/>
<circle cx="1155.7" cy="386.6" r="2.3" fill="url(#gH)"/>
<circle cx="1130.9" cy="394.7" r="2.3" fill="url(#gH)"/>
<circle cx="1136.9" cy="379.2" r="2.3" fill="url(#gH)"/>
<circle cx="1138.2" cy="289.9" r="2.3" fill="url(#gH)"/>
<circle cx="1092.6" cy="269" r="2.3" fill="url(#gH)"/>
<circle cx="1097.9" cy="148.9" r="9.4" fill="url(#gEu2)"/>
<circle cx="1099.3" cy="195.2" r="9.4" fill="url(#gY)"/>
<circle cx="1058.3" cy="242.3" r="9.4" fill="url(#gY)"/>
<circle cx="1057.6" cy="289.2" r="9.4" fill="url(#gY)"/>
<circle cx="1100.6" cy="336.2" r="9.4" fill="url(#gY)"/>
<circle cx="1102.6" cy="381.9" r="9.4" fill="url(#gCa2)"/>
<circle cx="1067.7" cy="134.8" r="4" fill="url(#gO)"/>
<circle cx="1088.5" cy="165" r="4" fill="url(#gO)"/>
<circle cx="1096.6" cy="173.1" r="4" fill="url(#gO)"/>
<circle cx="1093.9" cy="177.8" r="4" fill="url(#gO)"/>
<circle cx="1122.1" cy="150.2" r="4" fill="url(#gO)"/>
<circle cx="1122.1" cy="155.6" r="4" fill="url(#gO)"/>
<circle cx="1126.2" cy="181.1" r="4" fill="url(#gO)"/>
<circle cx="1106.7" cy="193.9" r="4" fill="url(#gO)"/>
<circle cx="1074.4" cy="200.6" r="4" fill="url(#gO)"/>
<circle cx="1080.5" cy="205.3" r="4" fill="url(#gO)"/>
<circle cx="1121.5" cy="203.3" r="4" fill="url(#gO)"/>
<circle cx="1050.2" cy="216.7" r="4" fill="url(#gO)"/>
<circle cx="1110.7" cy="222.8" r="4" fill="url(#gO)"/>
<circle cx="1061" cy="227.5" r="4" fill="url(#gO)"/>
<circle cx="1087.2" cy="240.9" r="4" fill="url(#gO)"/>
<circle cx="1031.4" cy="241.6" r="4" fill="url(#gO)"/>
<circle cx="1035.5" cy="253" r="4" fill="url(#gO)"/>
<circle cx="1069.7" cy="265.1" r="4" fill="url(#gO)"/>
<circle cx="1060.3" cy="269.2" r="4" fill="url(#gO)"/>
<circle cx="1167.1" cy="248.3" r="4" fill="url(#gO)"/>
<circle cx="1040.2" cy="128" r="4" fill="url(#gO)"/>
<circle cx="1033.4" cy="275.1" r="4" fill="url(#gO)"/>
<circle cx="1036.8" cy="292.5" r="4" fill="url(#gO)"/>
<circle cx="1056.3" cy="287.2" r="4" fill="url(#gO)"/>
<circle cx="1087.2" cy="295.2" r="4" fill="url(#gO)"/>
<circle cx="1067.7" cy="304" r="4" fill="url(#gO)"/>
<circle cx="1045.5" cy="317.4" r="4" fill="url(#gO)"/>
<circle cx="1112" cy="311.4" r="4" fill="url(#gO)"/>
<circle cx="1092.6" cy="322.1" r="4" fill="url(#gO)"/>
<circle cx="1071.7" cy="332.2" r="4" fill="url(#gO)"/>
<circle cx="1124.1" cy="334.9" r="4" fill="url(#gO)"/>
<circle cx="1097.9" cy="342.3" r="4" fill="url(#gO)"/>
<circle cx="1098.6" cy="356.4" r="4" fill="url(#gO)"/>
<circle cx="1089.9" cy="363.1" r="4" fill="url(#gO)"/>
<circle cx="1124.1" cy="355.7" r="4" fill="url(#gO)"/>
<circle cx="1125.5" cy="373.2" r="4" fill="url(#gO)"/>
<circle cx="1129.5" cy="381.9" r="4" fill="url(#gO)"/>
<circle cx="1072.4" cy="385.9" r="4" fill="url(#gO)"/>
<circle cx="1052.2" cy="404.7" r="4" fill="url(#gO)"/>
<circle cx="1102" cy="404.7" r="4" fill="url(#gO)"/>
<circle cx="1164.5" cy="271" r="4" fill="url(#gO)"/>
<circle cx="1175.2" cy="314" r="4" fill="url(#gO)"/>
</svg>
<rect x="1023.4" y="123" width="156.1" height="288" fill="none" stroke="#2c5594" stroke-width="3.6" stroke-dasharray="12 3.4"/>
<text x="1011.6" y="442.2" font-size="26" textLength="30.6" lengthAdjust="spacingAndGlyphs">Ca</text><text x="1042.4" y="434.3" font-size="17" textLength="22.2" lengthAdjust="spacingAndGlyphs">2+</text>
<text x="1069.6" y="442.2" font-size="26" textLength="148.5" lengthAdjust="spacingAndGlyphs">ions doping</text>
<text x="844" y="498.6" font-size="25.6" textLength="162.3" lengthAdjust="spacingAndGlyphs">Eu-Y-Ca-BTC</text>
<path d="M19.7 554.8 A30 30 0 0 1 40.9 546 L581.6 546 A30 30 0 0 1 602.8 554.8" fill="none" stroke="#2e5395" stroke-width="5.8" stroke-dasharray="25 18.75" stroke-dashoffset="36.24"/>
<path d="M602.8 554.8 A30 30 0 0 1 611.6 576 L611.6 1074.9 A30 30 0 0 1 602.8 1096.1" fill="none" stroke="#2e5395" stroke-width="5.8" stroke-dasharray="25 18.75" stroke-dashoffset="9.44"/>
<path d="M19.7 1096.1 A30 30 0 0 0 40.9 1104.9 L581.6 1104.9 A30 30 0 0 0 602.8 1096.1" fill="none" stroke="#2e5395" stroke-width="5.8" stroke-dasharray="25 18.75" stroke-dashoffset="20.64"/>
<path d="M19.7 554.8 A30 30 0 0 0 10.9 576 L10.9 1074.9 A30 30 0 0 0 19.7 1096.1" fill="none" stroke="#2e5395" stroke-width="5.8" stroke-dasharray="25 18.75" stroke-dashoffset="31.14"/>
<path d="M647.3 554.8 A30 30 0 0 1 668.5 546 L1189.5 546 A30 30 0 0 1 1210.7 554.8" fill="none" stroke="#2e5395" stroke-width="5.8" stroke-dasharray="25 18.75" stroke-dashoffset="35.34"/>
<path d="M1210.7 554.8 A30 30 0 0 1 1219.5 576 L1219.5 1075.4 A30 30 0 0 1 1210.7 1096.6" fill="none" stroke="#2e5395" stroke-width="5.8" stroke-dasharray="25 18.75" stroke-dashoffset="31.94"/>
<path d="M647.3 1096.6 A30 30 0 0 0 668.5 1105.4 L1189.5 1105.4 A30 30 0 0 0 1210.7 1096.6" fill="none" stroke="#2e5395" stroke-width="5.8" stroke-dasharray="25 18.75" stroke-dashoffset="16.74"/>
<path d="M647.3 554.8 A30 30 0 0 0 638.5 576 L638.5 1075.4 A30 30 0 0 0 647.3 1096.6" fill="none" stroke="#2e5395" stroke-width="5.8" stroke-dasharray="25 18.75" stroke-dashoffset="31.14"/>
<rect x="52.5" y="568.3" width="121" height="96.7" fill="#fff"/>
<polygon points="71.20,635.50 71.20,634.26 71.47,634.09 71.75,633.85 72.03,633.54 72.30,633.11 72.58,632.54 72.85,631.86 73.12,631.20 73.40,630.90 73.67,631.14 73.95,631.74 74.22,632.36 74.50,632.87 74.78,633.23 75.05,633.48 75.33,633.65 75.60,633.75 75.88,633.81 76.15,633.84 76.42,633.84 76.70,633.82 76.70,635.50" fill="#5d8a4c"/>
<polygon points="78.90,635.50 78.90,633.03 79.17,632.83 79.45,632.60 79.72,632.33 80.00,632.01 80.28,631.62 80.55,631.15 80.83,630.59 81.10,629.89 81.38,629.01 81.65,627.91 81.92,626.49 82.20,624.66 82.47,622.29 82.75,619.24 83.03,615.43 83.30,611.07 83.58,606.91 83.85,604.31 84.12,604.43 84.40,607.13 84.68,611.08 84.95,615.00 85.22,618.26 85.50,620.73 85.78,622.49 86.05,623.67 86.33,624.37 86.60,624.65 86.88,624.57 87.15,624.12 87.43,623.27 87.70,621.99 87.97,620.16 88.25,617.68 88.53,614.42 88.80,610.29 89.08,605.42 89.35,600.36 89.62,596.32 89.90,594.80 90.18,596.51 90.45,600.74 90.72,606.00 91.00,611.10 91.28,615.47 91.55,619.00 91.83,621.79 92.10,623.97 92.38,625.69 92.65,627.04 92.93,628.13 93.20,629.00 93.20,635.50" fill="#5b8a4a"/>
<polygon points="104.20,635.50 104.20,631.52 104.47,631.23 104.75,630.91 105.03,630.53 105.30,630.09 105.58,629.57 105.85,628.96 106.12,628.24 106.40,627.37 106.68,626.31 106.95,625.02 107.22,623.44 107.50,621.46 107.78,619.00 108.05,615.94 108.33,612.16 108.60,607.65 108.88,602.58 109.15,597.55 109.43,593.62 109.70,592.00 109.97,593.25 110.25,596.81 110.53,601.47 110.80,606.14 111.08,610.24 111.35,613.57 111.62,616.15 111.90,618.08 112.18,619.47 112.45,620.40 112.72,620.95 113.00,621.17 113.28,621.07 113.55,620.67 113.83,619.95 114.10,618.90 114.38,617.47 114.65,615.60 114.93,613.21 115.20,610.19 115.48,606.43 115.75,601.84 116.03,596.36 116.30,590.12 116.58,583.50 116.85,577.36 117.12,572.89 117.40,571.30 117.68,573.09 117.95,577.74 118.23,584.09 118.50,590.91 118.78,597.37 119.05,603.08 119.33,607.93 119.60,611.96 119.88,615.28 120.15,618.02 120.43,620.28 120.70,622.15 120.98,623.71 121.25,625.02 121.53,626.13 121.80,627.08 122.08,627.89 122.35,628.59 122.62,629.19 122.90,629.72 123.18,630.19 123.45,630.60 123.73,630.96 124.00,631.28 124.28,631.57 124.55,631.83 124.83,632.07 125.10,632.28 125.38,632.47 125.65,632.64 125.93,632.80 126.20,632.94 126.48,633.08 126.75,633.20 127.03,633.31 127.30,633.42 127.58,633.51 127.85,633.60 128.12,633.68 128.40,633.76 128.68,633.83 128.95,633.90 129.23,633.96 129.50,634.02 129.50,635.50" fill="#8ead7c"/>
<polyline points="52.50,635.33 52.77,635.33 53.05,635.33 53.33,635.32 53.60,635.32 53.88,635.32 54.15,635.32 54.42,635.31 54.70,635.31 54.98,635.31 55.25,635.30 55.52,635.30 55.80,635.30 56.08,635.29 56.35,635.29 56.62,635.29 56.90,635.28 57.17,635.28 57.45,635.28 57.73,635.27 58.00,635.27 58.27,635.27 58.55,635.26 58.83,635.26 59.10,635.25 59.38,635.25 59.65,635.24 59.92,635.24 60.20,635.24 60.48,635.23 60.75,635.23 61.02,635.22 61.30,635.21 61.58,635.21 61.85,635.20 62.12,635.20 62.40,635.19 62.67,635.18 62.95,635.18 63.23,635.17 63.50,635.16 63.77,635.15 64.05,635.14 64.33,635.13 64.60,635.13 64.88,635.12 65.15,635.10 65.42,635.09 65.70,635.08 65.97,635.07 66.25,635.06 66.53,635.04 66.80,635.03 67.08,635.01 67.35,634.99 67.62,634.97 67.90,634.95 68.17,634.93 68.45,634.90 68.72,634.87 69.00,634.84 69.28,634.81 69.55,634.76 69.83,634.71 70.10,634.66 70.38,634.59 70.65,634.50 70.92,634.40 71.20,634.26 71.47,634.09 71.75,633.85 72.03,633.54 72.30,633.11 72.58,632.54 72.85,631.86 73.12,631.20 73.40,630.90 73.67,631.14 73.95,631.74 74.22,632.36 74.50,632.87 74.78,633.23 75.05,633.48 75.33,633.65 75.60,633.75 75.88,633.81 76.15,633.84 76.42,633.84 76.70,633.82 76.97,633.78 77.25,633.73 77.53,633.66 77.80,633.57 78.08,633.47 78.35,633.34 78.62,633.20 78.90,633.03 79.17,632.83 79.45,632.60 79.72,632.33 80.00,632.01 80.28,631.62 80.55,631.15 80.83,630.59 81.10,629.89 81.38,629.01 81.65,627.91 81.92,626.49 82.20,624.66 82.47,622.29 82.75,619.24 83.03,615.43 83.30,611.07 83.58,606.91 83.85,604.31 84.12,604.43 84.40,607.13 84.68,611.08 84.95,615.00 85.22,618.26 85.50,620.73 85.78,622.49 86.05,623.67 86.33,624.37 86.60,624.65 86.88,624.57 87.15,624.12 87.43,623.27 87.70,621.99 87.97,620.16 88.25,617.68 88.53,614.42 88.80,610.29 89.08,605.42 89.35,600.36 89.62,596.32 89.90,594.80 90.18,596.51 90.45,600.74 90.72,606.00 91.00,611.10 91.28,615.47 91.55,619.00 91.83,621.79 92.10,623.97 92.38,625.69 92.65,627.04 92.93,628.13 93.20,629.00 93.47,629.72 93.75,630.30 94.03,630.79 94.30,631.19 94.58,631.53 94.85,631.82 95.12,632.07 95.40,632.28 95.68,632.46 95.95,632.61 96.22,632.74 96.50,632.85 96.78,632.94 97.05,633.02 97.33,633.09 97.60,633.15 97.88,633.19 98.15,633.23 98.43,633.25 98.70,633.27 98.97,633.28 99.25,633.28 99.53,633.27 99.80,633.26 100.08,633.23 100.35,633.20 100.62,633.16 100.90,633.12 101.18,633.06 101.45,632.99 101.72,632.92 102.00,632.83 102.28,632.73 102.55,632.61 102.83,632.49 103.10,632.34 103.38,632.17 103.65,631.98 103.93,631.77 104.20,631.52 104.47,631.23 104.75,630.91 105.03,630.53 105.30,630.09 105.58,629.57 105.85,628.96 106.12,628.24 106.40,627.37 106.68,626.31 106.95,625.02 107.22,623.44 107.50,621.46 107.78,619.00 108.05,615.94 108.33,612.16 108.60,607.65 108.88,602.58 109.15,597.55 109.43,593.62 109.70,592.00 109.97,593.25 110.25,596.81 110.53,601.47 110.80,606.14 111.08,610.24 111.35,613.57 111.62,616.15 111.90,618.08 112.18,619.47 112.45,620.40 112.72,620.95 113.00,621.17 113.28,621.07 113.55,620.67 113.83,619.95 114.10,618.90 114.38,617.47 114.65,615.60 114.93,613.21 115.20,610.19 115.48,606.43 115.75,601.84 116.03,596.36 116.30,590.12 116.58,583.50 116.85,577.36 117.12,572.89 117.40,571.30 117.68,573.09 117.95,577.74 118.23,584.09 118.50,590.91 118.78,597.37 119.05,603.08 119.33,607.93 119.60,611.96 119.88,615.28 120.15,618.02 120.43,620.28 120.70,622.15 120.98,623.71 121.25,625.02 121.53,626.13 121.80,627.08 122.08,627.89 122.35,628.59 122.62,629.19 122.90,629.72 123.18,630.19 123.45,630.60 123.73,630.96 124.00,631.28 124.28,631.57 124.55,631.83 124.83,632.07 125.10,632.28 125.38,632.47 125.65,632.64 125.93,632.80 126.20,632.94 126.48,633.08 126.75,633.20 127.03,633.31 127.30,633.42 127.58,633.51 127.85,633.60 128.12,633.68 128.40,633.76 128.68,633.83 128.95,633.90 129.23,633.96 129.50,634.02 129.78,634.07 130.05,634.13 130.32,634.17 130.60,634.22 130.88,634.26 131.15,634.30 131.43,634.34 131.70,634.38 131.98,634.41 132.25,634.44 132.53,634.47 132.80,634.50 133.07,634.53 133.35,634.55 133.62,634.57 133.90,634.60 134.18,634.62 134.45,634.64 134.73,634.66 135.00,634.68 135.28,634.69 135.55,634.71 135.82,634.72 136.10,634.74 136.38,634.75 136.65,634.77 136.93,634.78 137.20,634.79 137.48,634.80 137.75,634.81 138.03,634.82 138.30,634.83 138.57,634.83 138.85,634.84 139.12,634.85 139.40,634.85 139.68,634.86 139.95,634.86 140.23,634.86 140.50,634.87 140.78,634.87 141.05,634.87 141.32,634.87 141.60,634.87 141.88,634.87 142.15,634.87 142.43,634.86 142.70,634.86 142.98,634.86 143.25,634.85 143.53,634.84 143.80,634.83 144.07,634.82 144.35,634.81 144.62,634.80 144.90,634.78 145.18,634.77 145.45,634.75 145.73,634.73 146.00,634.71 146.28,634.68 146.55,634.65 146.82,634.62 147.10,634.58 147.38,634.54 147.65,634.50 147.93,634.45 148.20,634.39 148.48,634.33 148.75,634.26 149.03,634.18 149.30,634.10 149.57,634.01 149.85,633.91 150.12,633.81 150.40,633.70 150.68,633.59 150.95,633.47 151.23,633.36 151.50,633.25 151.78,633.16 152.05,633.08 152.32,633.03 152.60,633.00 152.88,633.00 153.15,633.01 153.43,633.05 153.70,633.11 153.98,633.18 154.25,633.25 154.53,633.32 154.80,633.38 155.07,633.43 155.35,633.48 155.62,633.51 155.90,633.52 156.18,633.51 156.45,633.49 156.73,633.44 157.00,633.37 157.28,633.27 157.55,633.15 157.82,632.99 158.10,632.79 158.38,632.56 158.65,632.30 158.93,632.01 159.20,631.71 159.48,631.43 159.75,631.19 160.03,631.04 160.30,631.00 160.57,631.08 160.85,631.28 161.12,631.55 161.40,631.88 161.68,632.22 161.95,632.55 162.23,632.86 162.50,633.14 162.78,633.39 163.05,633.61 163.32,633.80 163.60,633.96 163.88,634.11 164.15,634.23 164.43,634.34 164.70,634.43 164.98,634.51 165.25,634.59 165.53,634.65 165.80,634.71 166.07,634.76 166.35,634.80 166.62,634.85 166.90,634.88 167.18,634.92 167.45,634.95 167.73,634.97 168.00,635.00 168.28,635.02 168.55,635.04 168.82,635.06 169.10,635.08 169.38,635.10 169.65,635.11 169.93,635.13 170.20,635.14 170.48,635.15 170.75,635.17 171.03,635.18 171.30,635.19 171.57,635.20 171.85,635.21 172.12,635.22 172.40,635.22 172.68,635.23 172.95,635.24 173.23,635.25 173.50,635.25" fill="none" stroke="#7a9a6a" stroke-width="0.8"/>
<rect x="60.97" y="637.5" width="1.76" height="25.6" fill="#333"/>
<rect x="63.50" y="637.5" width="1.76" height="25.6" fill="#333"/>
<rect x="74.15" y="637.5" width="0.70" height="25.6" fill="#bbb"/>
<rect x="83.85" y="637.5" width="1.10" height="25.6" fill="#889c80"/>
<rect x="89.73" y="637.5" width="1.43" height="25.6" fill="#4e7c44"/>
<rect x="109.76" y="637.5" width="1.43" height="25.6" fill="#4e7c44"/>
<rect x="117.62" y="637.5" width="2.86" height="25.6" fill="#4a7a46"/>
<rect x="152.25" y="637.5" width="0.70" height="25.6" fill="#bbb"/>
<rect x="159.40" y="637.5" width="0.70" height="25.6" fill="#bbb"/>
<rect x="163.27" y="637.5" width="1.76" height="25.6" fill="#333"/>
<rect x="165.47" y="637.5" width="1.76" height="25.6" fill="#333"/>
<rect x="52.5" y="568.3" width="121" height="96.7" fill="none" stroke="#555" stroke-width="1.1"/>
<line x1="52.50" y1="665" x2="52.50" y2="663.2" stroke="#555" stroke-width="0.8"/>
<text x="52.50" y="674.3" font-size="7" text-anchor="middle" fill="#222" style="fill:#222;stroke:#222;stroke-width:0.1px">560</text>
<line x1="74.50" y1="665" x2="74.50" y2="663.2" stroke="#555" stroke-width="0.8"/>
<text x="74.50" y="674.3" font-size="7" text-anchor="middle" fill="#222" style="fill:#222;stroke:#222;stroke-width:0.1px">580</text>
<line x1="96.50" y1="665" x2="96.50" y2="663.2" stroke="#555" stroke-width="0.8"/>
<text x="96.50" y="674.3" font-size="7" text-anchor="middle" fill="#222" style="fill:#222;stroke:#222;stroke-width:0.1px">600</text>
<line x1="118.50" y1="665" x2="118.50" y2="663.2" stroke="#555" stroke-width="0.8"/>
<text x="118.50" y="674.3" font-size="7" text-anchor="middle" fill="#222" style="fill:#222;stroke:#222;stroke-width:0.1px">620</text>
<line x1="140.50" y1="665" x2="140.50" y2="663.2" stroke="#555" stroke-width="0.8"/>
<text x="140.50" y="674.3" font-size="7" text-anchor="middle" fill="#222" style="fill:#222;stroke:#222;stroke-width:0.1px">640</text>
<line x1="162.50" y1="665" x2="162.50" y2="663.2" stroke="#555" stroke-width="0.8"/>
<text x="162.50" y="674.3" font-size="7" text-anchor="middle" fill="#222" style="fill:#222;stroke:#222;stroke-width:0.1px">660</text>
<text x="116.00" y="681.2" font-size="7" text-anchor="middle" style="fill:#222;stroke:#222;stroke-width:0.1px">Wavelength (nm)</text>
<text transform="translate(47.90,613.5) rotate(-90)" x="0" y="0" font-size="7.2" text-anchor="middle" textLength="49" lengthAdjust="spacingAndGlyphs" style="fill:#222;stroke:#222;stroke-width:0.1px">Intensity (a.u.)</text>
<rect x="189.5" y="568.3" width="121" height="96.7" fill="#fff"/>
<polygon points="217.00,635.50 217.00,632.97 217.28,632.78 217.55,632.56 217.82,632.32 218.10,632.04 218.38,631.72 218.65,631.35 218.93,630.91 219.20,630.40 219.47,629.80 219.75,629.09 220.03,628.24 220.30,627.23 220.57,626.03 220.85,624.61 221.12,622.99 221.40,621.18 221.68,619.32 221.95,617.59 222.22,616.26 222.50,615.60 222.78,615.69 223.05,616.43 223.32,617.56 223.60,618.77 223.88,619.88 224.15,620.75 224.43,621.34 224.70,621.66 224.97,621.74 225.25,621.65 225.53,621.48 225.80,621.33 226.07,621.30 226.35,621.50 226.62,621.96 226.90,622.65 227.18,623.53 227.45,624.50 227.72,625.48 228.00,626.42 228.28,627.29 228.55,628.07 228.82,628.75 229.10,629.34 229.38,629.85 229.65,630.29 229.93,630.67 230.20,630.99 230.47,631.27 230.75,631.51 231.03,631.71 231.30,631.89 231.30,635.50" fill="#4a66b4"/>
<polygon points="241.20,635.50 241.20,629.41 241.47,629.03 241.75,628.60 242.03,628.12 242.30,627.59 242.57,627.00 242.85,626.36 243.12,625.65 243.40,624.89 243.68,624.07 243.95,623.21 244.22,622.31 244.50,621.39 244.78,620.45 245.05,619.50 245.32,618.51 245.60,617.44 245.88,616.23 246.15,614.80 246.43,613.07 246.70,610.92 246.97,608.23 247.25,604.86 247.53,600.69 247.80,595.64 248.07,589.78 248.35,583.45 248.62,577.45 248.90,572.99 249.18,571.18 249.45,572.32 249.72,575.69 250.00,580.01 250.28,584.19 250.55,587.61 250.82,590.03 251.10,591.46 251.38,592.04 251.65,591.96 251.93,591.45 252.20,590.73 252.48,590.03 252.75,589.50 253.03,589.23 253.30,589.19 253.57,589.30 253.85,589.46 254.12,589.57 254.40,589.64 254.68,589.72 254.95,589.95 255.23,590.50 255.50,591.50 255.78,593.01 256.05,595.01 256.32,597.36 256.60,599.91 256.88,602.49 257.15,604.98 257.43,607.29 257.70,609.38 257.98,611.24 258.25,612.87 258.52,614.30 258.80,615.57 259.07,616.69 259.35,617.70 259.62,618.63 259.90,619.50 260.18,620.33 260.45,621.12 260.73,621.90 261.00,622.65 261.27,623.38 261.55,624.08 261.82,624.76 262.10,625.40 262.38,626.01 262.65,626.58 262.93,627.12 263.20,627.63 263.48,628.10 263.75,628.53 264.02,628.94 264.30,629.31 264.57,629.65 264.85,629.97 265.12,630.27 265.40,630.54 265.68,630.80 265.95,631.03 266.23,631.25 266.50,631.45 266.77,631.64 267.05,631.82 267.32,631.98 267.60,632.13 267.60,635.50" fill="#6c80c6"/>
<polyline points="189.50,635.28 189.78,635.27 190.05,635.27 190.32,635.27 190.60,635.27 190.88,635.26 191.15,635.26 191.43,635.26 191.70,635.26 191.97,635.25 192.25,635.25 192.53,635.25 192.80,635.24 193.07,635.24 193.35,635.24 193.62,635.23 193.90,635.23 194.18,635.23 194.45,635.22 194.72,635.22 195.00,635.22 195.28,635.21 195.55,635.21 195.82,635.20 196.10,635.20 196.38,635.19 196.65,635.19 196.93,635.19 197.20,635.18 197.47,635.18 197.75,635.17 198.03,635.17 198.30,635.16 198.57,635.16 198.85,635.15 199.12,635.15 199.40,635.14 199.68,635.13 199.95,635.13 200.22,635.12 200.50,635.12 200.78,635.11 201.05,635.10 201.32,635.10 201.60,635.09 201.88,635.08 202.15,635.07 202.43,635.07 202.70,635.06 202.97,635.05 203.25,635.04 203.53,635.03 203.80,635.02 204.07,635.02 204.35,635.01 204.62,635.00 204.90,634.98 205.18,634.97 205.45,634.96 205.72,634.95 206.00,634.94 206.28,634.93 206.55,634.91 206.82,634.90 207.10,634.89 207.38,634.87 207.65,634.85 207.93,634.84 208.20,634.82 208.47,634.80 208.75,634.78 209.03,634.77 209.30,634.74 209.57,634.72 209.85,634.70 210.12,634.68 210.40,634.65 210.68,634.62 210.95,634.60 211.22,634.57 211.50,634.53 211.78,634.50 212.05,634.46 212.32,634.43 212.60,634.38 212.88,634.34 213.15,634.29 213.43,634.24 213.70,634.19 213.97,634.13 214.25,634.07 214.53,634.00 214.80,633.92 215.07,633.84 215.35,633.75 215.62,633.65 215.90,633.54 216.18,633.42 216.45,633.29 216.72,633.14 217.00,632.97 217.28,632.78 217.55,632.56 217.82,632.32 218.10,632.04 218.38,631.72 218.65,631.35 218.93,630.91 219.20,630.40 219.47,629.80 219.75,629.09 220.03,628.24 220.30,627.23 220.57,626.03 220.85,624.61 221.12,622.99 221.40,621.18 221.68,619.32 221.95,617.59 222.22,616.26 222.50,615.60 222.78,615.69 223.05,616.43 223.32,617.56 223.60,618.77 223.88,619.88 224.15,620.75 224.43,621.34 224.70,621.66 224.97,621.74 225.25,621.65 225.53,621.48 225.80,621.33 226.07,621.30 226.35,621.50 226.62,621.96 226.90,622.65 227.18,623.53 227.45,624.50 227.72,625.48 228.00,626.42 228.28,627.29 228.55,628.07 228.82,628.75 229.10,629.34 229.38,629.85 229.65,630.29 229.93,630.67 230.20,630.99 230.47,631.27 230.75,631.51 231.03,631.71 231.30,631.89 231.57,632.04 231.85,632.16 232.12,632.27 232.40,632.36 232.68,632.43 232.95,632.49 233.22,632.54 233.50,632.58 233.78,632.61 234.05,632.62 234.32,632.63 234.60,632.63 234.88,632.62 235.15,632.60 235.43,632.57 235.70,632.54 235.97,632.50 236.25,632.45 236.53,632.39 236.80,632.33 237.07,632.25 237.35,632.17 237.62,632.07 237.90,631.97 238.18,631.85 238.45,631.72 238.72,631.58 239.00,631.42 239.28,631.25 239.55,631.06 239.82,630.85 240.10,630.62 240.38,630.36 240.65,630.08 240.93,629.76 241.20,629.41 241.47,629.03 241.75,628.60 242.03,628.12 242.30,627.59 242.57,627.00 242.85,626.36 243.12,625.65 243.40,624.89 243.68,624.07 243.95,623.21 244.22,622.31 244.50,621.39 244.78,620.45 245.05,619.50 245.32,618.51 245.60,617.44 245.88,616.23 246.15,614.80 246.43,613.07 246.70,610.92 246.97,608.23 247.25,604.86 247.53,600.69 247.80,595.64 248.07,589.78 248.35,583.45 248.62,577.45 248.90,572.99 249.18,571.18 249.45,572.32 249.72,575.69 250.00,580.01 250.28,584.19 250.55,587.61 250.82,590.03 251.10,591.46 251.38,592.04 251.65,591.96 251.93,591.45 252.20,590.73 252.48,590.03 252.75,589.50 253.03,589.23 253.30,589.19 253.57,589.30 253.85,589.46 254.12,589.57 254.40,589.64 254.68,589.72 254.95,589.95 255.23,590.50 255.50,591.50 255.78,593.01 256.05,595.01 256.32,597.36 256.60,599.91 256.88,602.49 257.15,604.98 257.43,607.29 257.70,609.38 257.98,611.24 258.25,612.87 258.52,614.30 258.80,615.57 259.07,616.69 259.35,617.70 259.62,618.63 259.90,619.50 260.18,620.33 260.45,621.12 260.73,621.90 261.00,622.65 261.27,623.38 261.55,624.08 261.82,624.76 262.10,625.40 262.38,626.01 262.65,626.58 262.93,627.12 263.20,627.63 263.48,628.10 263.75,628.53 264.02,628.94 264.30,629.31 264.57,629.65 264.85,629.97 265.12,630.27 265.40,630.54 265.68,630.80 265.95,631.03 266.23,631.25 266.50,631.45 266.77,631.64 267.05,631.82 267.32,631.98 267.60,632.13 267.88,632.27 268.15,632.41 268.43,632.53 268.70,632.65 268.98,632.76 269.25,632.86 269.52,632.96 269.80,633.05 270.07,633.14 270.35,633.22 270.62,633.29 270.90,633.37 271.18,633.44 271.45,633.50 271.73,633.56 272.00,633.62 272.27,633.68 272.55,633.73 272.82,633.78 273.10,633.83 273.38,633.87 273.65,633.91 273.93,633.95 274.20,633.99 274.48,634.03 274.75,634.06 275.02,634.10 275.30,634.13 275.57,634.16 275.85,634.19 276.12,634.21 276.40,634.24 276.68,634.26 276.95,634.29 277.23,634.31 277.50,634.33 277.77,634.35 278.05,634.36 278.32,634.38 278.60,634.39 278.88,634.41 279.15,634.42 279.43,634.43 279.70,634.44 279.98,634.45 280.25,634.45 280.52,634.46 280.80,634.46 281.07,634.46 281.35,634.46 281.62,634.46 281.90,634.46 282.18,634.45 282.45,634.44 282.73,634.43 283.00,634.41 283.27,634.40 283.55,634.37 283.82,634.35 284.10,634.32 284.38,634.28 284.65,634.24 284.93,634.20 285.20,634.15 285.48,634.09 285.75,634.03 286.02,633.97 286.30,633.90 286.57,633.83 286.85,633.75 287.12,633.68 287.40,633.62 287.68,633.57 287.95,633.53 288.23,633.50 288.50,633.50 288.77,633.52 289.05,633.56 289.32,633.61 289.60,633.68 289.88,633.76 290.15,633.85 290.43,633.93 290.70,634.02 290.98,634.11 291.25,634.19 291.52,634.27 291.80,634.34 292.07,634.40 292.35,634.46 292.62,634.52 292.90,634.57 293.18,634.62 293.45,634.66 293.73,634.70 294.00,634.74 294.27,634.77 294.55,634.80 294.82,634.83 295.10,634.85 295.38,634.88 295.65,634.90 295.93,634.92 296.20,634.94 296.48,634.96 296.75,634.97 297.02,634.99 297.30,635.00 297.57,635.02 297.85,635.03 298.12,635.04 298.40,635.05 298.68,635.06 298.95,635.07 299.23,635.08 299.50,635.09 299.77,635.10 300.05,635.11 300.32,635.12 300.60,635.13 300.88,635.13 301.15,635.14 301.43,635.15 301.70,635.15 301.98,635.16 302.25,635.17 302.52,635.17 302.80,635.18 303.07,635.18 303.35,635.19 303.62,635.19 303.90,635.20 304.18,635.20 304.45,635.21 304.73,635.21 305.00,635.22 305.27,635.22 305.55,635.22 305.82,635.23 306.10,635.23 306.38,635.24 306.65,635.24 306.93,635.24 307.20,635.25 307.48,635.25 307.75,635.25 308.02,635.26 308.30,635.26 308.57,635.26 308.85,635.27 309.12,635.27 309.40,635.27 309.68,635.27 309.95,635.28 310.23,635.28 310.50,635.28" fill="none" stroke="#6a78b0" stroke-width="0.8"/>
<rect x="197.97" y="637.5" width="1.76" height="25.6" fill="#333"/>
<rect x="200.50" y="637.5" width="1.76" height="25.6" fill="#333"/>
<rect x="210.05" y="637.5" width="0.70" height="25.6" fill="#bbb"/>
<rect x="222.39" y="637.5" width="1.32" height="25.6" fill="#6a86b8"/>
<rect x="226.46" y="637.5" width="0.88" height="25.6" fill="#8aa0c0"/>
<rect x="247.47" y="637.5" width="2.86" height="25.6" fill="#2d4f8c"/>
<rect x="253.52" y="637.5" width="2.42" height="25.6" fill="#2d4f8c"/>
<rect x="291.45" y="637.5" width="0.70" height="25.6" fill="#bbb"/>
<rect x="300.27" y="637.5" width="1.76" height="25.6" fill="#333"/>
<rect x="302.47" y="637.5" width="1.76" height="25.6" fill="#333"/>
<rect x="189.5" y="568.3" width="121" height="96.7" fill="none" stroke="#555" stroke-width="1.1"/>
<line x1="189.50" y1="665" x2="189.50" y2="663.2" stroke="#555" stroke-width="0.8"/>
<text x="189.50" y="674.3" font-size="7" text-anchor="middle" fill="#222" style="fill:#222;stroke:#222;stroke-width:0.1px">560</text>
<line x1="211.50" y1="665" x2="211.50" y2="663.2" stroke="#555" stroke-width="0.8"/>
<text x="211.50" y="674.3" font-size="7" text-anchor="middle" fill="#222" style="fill:#222;stroke:#222;stroke-width:0.1px">580</text>
<line x1="233.50" y1="665" x2="233.50" y2="663.2" stroke="#555" stroke-width="0.8"/>
<text x="233.50" y="674.3" font-size="7" text-anchor="middle" fill="#222" style="fill:#222;stroke:#222;stroke-width:0.1px">600</text>
<line x1="255.50" y1="665" x2="255.50" y2="663.2" stroke="#555" stroke-width="0.8"/>
<text x="255.50" y="674.3" font-size="7" text-anchor="middle" fill="#222" style="fill:#222;stroke:#222;stroke-width:0.1px">620</text>
<line x1="277.50" y1="665" x2="277.50" y2="663.2" stroke="#555" stroke-width="0.8"/>
<text x="277.50" y="674.3" font-size="7" text-anchor="middle" fill="#222" style="fill:#222;stroke:#222;stroke-width:0.1px">640</text>
<line x1="299.50" y1="665" x2="299.50" y2="663.2" stroke="#555" stroke-width="0.8"/>
<text x="299.50" y="674.3" font-size="7" text-anchor="middle" fill="#222" style="fill:#222;stroke:#222;stroke-width:0.1px">660</text>
<text x="253.00" y="681.2" font-size="7" text-anchor="middle" style="fill:#222;stroke:#222;stroke-width:0.1px">Wavelength (nm)</text>
<text transform="translate(184.90,613.5) rotate(-90)" x="0" y="0" font-size="7.2" text-anchor="middle" textLength="49" lengthAdjust="spacingAndGlyphs" style="fill:#222;stroke:#222;stroke-width:0.1px">Intensity (a.u.)</text>
<rect x="328.3" y="568.3" width="121" height="96.7" fill="#fff"/>
<polygon points="347.00,635.50 347.00,634.35 347.28,634.20 347.55,634.00 347.82,633.73 348.10,633.37 348.38,632.89 348.65,632.31 348.93,631.76 349.20,631.50 349.48,631.69 349.75,632.18 350.03,632.69 350.30,633.11 350.57,633.40 350.85,633.59 351.12,633.72 351.40,633.79 351.40,635.50" fill="#5a9a5c"/>
<polygon points="354.70,635.50 354.70,632.71 354.98,632.44 355.25,632.13 355.53,631.75 355.80,631.29 356.07,630.72 356.35,630.02 356.62,629.14 356.90,628.02 357.18,626.58 357.45,624.71 357.73,622.29 358.00,619.19 358.28,615.44 358.55,611.37 358.82,607.95 359.10,606.50 359.38,607.71 359.65,610.88 359.93,614.69 360.20,618.18 360.48,620.98 360.75,623.09 361.03,624.61 361.30,625.66 361.58,626.33 361.85,626.69 362.12,626.78 362.40,626.61 362.68,626.19 362.95,625.50 363.23,624.48 363.50,623.06 363.78,621.16 364.05,618.64 364.33,615.38 364.60,611.28 364.88,606.47 365.15,601.50 365.43,597.52 365.70,596.00 365.98,597.64 366.25,601.74 366.53,606.84 366.80,611.79 367.08,616.03 367.35,619.46 367.62,622.16 367.90,624.28 368.18,625.94 368.45,627.25 368.73,628.30 369.00,629.14 369.28,629.83 369.55,630.39 369.83,630.86 370.10,631.24 370.10,635.50" fill="#5c9c5e"/>
<polygon points="380.00,635.50 380.00,630.92 380.28,630.57 380.55,630.16 380.83,629.69 381.10,629.13 381.38,628.47 381.65,627.68 381.93,626.72 382.20,625.54 382.48,624.10 382.75,622.29 383.03,620.01 383.30,617.12 383.58,613.50 383.85,609.04 384.12,603.85 384.40,598.46 384.68,594.03 384.95,592.00 385.23,593.05 385.50,596.47 385.78,600.79 386.05,604.81 386.33,607.97 386.60,610.10 386.88,611.23 387.15,611.42 387.43,610.67 387.70,608.97 387.98,606.25 388.25,602.49 388.53,597.81 388.80,592.76 389.08,588.46 389.35,586.30 389.62,586.93 389.90,589.64 390.18,592.99 390.45,595.79 390.73,597.44 391.00,597.72 391.28,596.63 391.55,594.18 391.83,590.45 392.10,585.67 392.38,580.29 392.65,575.17 392.93,571.52 393.20,570.50 393.48,572.63 393.75,577.45 394.03,583.83 394.30,590.62 394.58,597.03 394.85,602.69 395.12,607.49 395.40,611.50 395.68,614.81 395.95,617.54 396.23,619.80 396.50,621.68 396.78,623.25 397.05,624.58 397.33,625.70 397.60,626.66 397.88,627.49 398.15,628.21 398.43,628.83 398.70,629.38 398.98,629.86 399.25,630.28 399.53,630.66 399.80,630.99 400.08,631.30 400.35,631.57 400.62,631.81 400.90,632.04 401.18,632.24 401.45,632.42 401.73,632.59 402.00,632.75 402.28,632.89 402.55,633.02 402.83,633.14 403.10,633.25 403.38,633.36 403.65,633.45 403.93,633.54 404.20,633.63 404.48,633.70 404.75,633.78 405.03,633.84 405.30,633.91 405.30,635.50" fill="#94c294"/>
<polyline points="328.30,635.33 328.57,635.32 328.85,635.32 329.12,635.32 329.40,635.32 329.68,635.31 329.95,635.31 330.23,635.31 330.50,635.31 330.78,635.30 331.05,635.30 331.32,635.30 331.60,635.29 331.88,635.29 332.15,635.29 332.43,635.28 332.70,635.28 332.98,635.28 333.25,635.27 333.53,635.27 333.80,635.27 334.07,635.26 334.35,635.26 334.62,635.25 334.90,635.25 335.18,635.24 335.45,635.24 335.73,635.24 336.00,635.23 336.28,635.23 336.55,635.22 336.82,635.22 337.10,635.21 337.38,635.20 337.65,635.20 337.93,635.19 338.20,635.19 338.48,635.18 338.75,635.17 339.03,635.16 339.30,635.16 339.57,635.15 339.85,635.14 340.12,635.13 340.40,635.12 340.68,635.11 340.95,635.10 341.23,635.09 341.50,635.08 341.78,635.07 342.05,635.06 342.32,635.04 342.60,635.03 342.88,635.01 343.15,635.00 343.43,634.98 343.70,634.96 343.98,634.94 344.25,634.91 344.53,634.89 344.80,634.86 345.07,634.82 345.35,634.79 345.62,634.74 345.90,634.69 346.18,634.63 346.45,634.55 346.73,634.46 347.00,634.35 347.28,634.20 347.55,634.00 347.82,633.73 348.10,633.37 348.38,632.89 348.65,632.31 348.93,631.76 349.20,631.50 349.48,631.69 349.75,632.18 350.03,632.69 350.30,633.11 350.57,633.40 350.85,633.59 351.12,633.72 351.40,633.79 351.68,633.82 351.95,633.83 352.23,633.81 352.50,633.77 352.78,633.71 353.05,633.63 353.32,633.53 353.60,633.42 353.88,633.28 354.15,633.12 354.43,632.93 354.70,632.71 354.98,632.44 355.25,632.13 355.53,631.75 355.80,631.29 356.07,630.72 356.35,630.02 356.62,629.14 356.90,628.02 357.18,626.58 357.45,624.71 357.73,622.29 358.00,619.19 358.28,615.44 358.55,611.37 358.82,607.95 359.10,606.50 359.38,607.71 359.65,610.88 359.93,614.69 360.20,618.18 360.48,620.98 360.75,623.09 361.03,624.61 361.30,625.66 361.58,626.33 361.85,626.69 362.12,626.78 362.40,626.61 362.68,626.19 362.95,625.50 363.23,624.48 363.50,623.06 363.78,621.16 364.05,618.64 364.33,615.38 364.60,611.28 364.88,606.47 365.15,601.50 365.43,597.52 365.70,596.00 365.98,597.64 366.25,601.74 366.53,606.84 366.80,611.79 367.08,616.03 367.35,619.46 367.62,622.16 367.90,624.28 368.18,625.94 368.45,627.25 368.73,628.30 369.00,629.14 369.28,629.83 369.55,630.39 369.83,630.86 370.10,631.24 370.38,631.57 370.65,631.84 370.93,632.07 371.20,632.27 371.48,632.44 371.75,632.58 372.03,632.70 372.30,632.80 372.58,632.88 372.85,632.95 373.12,633.01 373.40,633.06 373.68,633.09 373.95,633.12 374.23,633.13 374.50,633.14 374.78,633.14 375.05,633.13 375.33,633.11 375.60,633.08 375.88,633.05 376.15,633.00 376.43,632.95 376.70,632.89 376.98,632.81 377.25,632.73 377.53,632.63 377.80,632.53 378.08,632.40 378.35,632.26 378.62,632.10 378.90,631.92 379.18,631.72 379.45,631.49 379.73,631.22 380.00,630.92 380.28,630.57 380.55,630.16 380.83,629.69 381.10,629.13 381.38,628.47 381.65,627.68 381.93,626.72 382.20,625.54 382.48,624.10 382.75,622.29 383.03,620.01 383.30,617.12 383.58,613.50 383.85,609.04 384.12,603.85 384.40,598.46 384.68,594.03 384.95,592.00 385.23,593.05 385.50,596.47 385.78,600.79 386.05,604.81 386.33,607.97 386.60,610.10 386.88,611.23 387.15,611.42 387.43,610.67 387.70,608.97 387.98,606.25 388.25,602.49 388.53,597.81 388.80,592.76 389.08,588.46 389.35,586.30 389.62,586.93 389.90,589.64 390.18,592.99 390.45,595.79 390.73,597.44 391.00,597.72 391.28,596.63 391.55,594.18 391.83,590.45 392.10,585.67 392.38,580.29 392.65,575.17 392.93,571.52 393.20,570.50 393.48,572.63 393.75,577.45 394.03,583.83 394.30,590.62 394.58,597.03 394.85,602.69 395.12,607.49 395.40,611.50 395.68,614.81 395.95,617.54 396.23,619.80 396.50,621.68 396.78,623.25 397.05,624.58 397.33,625.70 397.60,626.66 397.88,627.49 398.15,628.21 398.43,628.83 398.70,629.38 398.98,629.86 399.25,630.28 399.53,630.66 399.80,630.99 400.08,631.30 400.35,631.57 400.62,631.81 400.90,632.04 401.18,632.24 401.45,632.42 401.73,632.59 402.00,632.75 402.28,632.89 402.55,633.02 402.83,633.14 403.10,633.25 403.38,633.36 403.65,633.45 403.93,633.54 404.20,633.63 404.48,633.70 404.75,633.78 405.03,633.84 405.30,633.91 405.58,633.97 405.85,634.02 406.12,634.08 406.40,634.13 406.68,634.18 406.95,634.22 407.23,634.26 407.50,634.30 407.78,634.34 408.05,634.38 408.33,634.41 408.60,634.44 408.88,634.47 409.15,634.50 409.43,634.53 409.70,634.56 409.98,634.58 410.25,634.61 410.53,634.63 410.80,634.65 411.08,634.67 411.35,634.69 411.62,634.71 411.90,634.73 412.18,634.75 412.45,634.76 412.73,634.78 413.00,634.79 413.28,634.81 413.55,634.82 413.83,634.83 414.10,634.85 414.38,634.86 414.65,634.87 414.93,634.88 415.20,634.89 415.48,634.90 415.75,634.91 416.03,634.92 416.30,634.92 416.58,634.93 416.85,634.94 417.12,634.94 417.40,634.95 417.68,634.95 417.95,634.96 418.23,634.96 418.50,634.97 418.78,634.97 419.05,634.97 419.33,634.97 419.60,634.97 419.88,634.97 420.15,634.97 420.43,634.97 420.70,634.97 420.98,634.97 421.25,634.96 421.53,634.95 421.80,634.95 422.08,634.94 422.35,634.93 422.62,634.91 422.90,634.90 423.18,634.88 423.45,634.86 423.73,634.83 424.00,634.80 424.28,634.76 424.55,634.72 424.83,634.67 425.10,634.60 425.38,634.53 425.65,634.44 425.93,634.32 426.20,634.19 426.48,634.02 426.75,633.82 427.03,633.59 427.30,633.32 427.58,633.04 427.85,632.78 428.12,632.58 428.40,632.50 428.68,632.55 428.95,632.71 429.23,632.94 429.50,633.19 429.78,633.42 430.05,633.61 430.33,633.76 430.60,633.87 430.88,633.94 431.15,633.98 431.43,633.99 431.70,633.96 431.98,633.90 432.25,633.81 432.53,633.67 432.80,633.50 433.08,633.26 433.35,632.97 433.62,632.62 433.90,632.22 434.18,631.79 434.45,631.39 434.73,631.10 435.00,631.00 435.28,631.13 435.55,631.44 435.83,631.87 436.10,632.33 436.38,632.77 436.65,633.15 436.93,633.48 437.20,633.75 437.48,633.98 437.75,634.16 438.03,634.32 438.30,634.45 438.58,634.55 438.85,634.64 439.12,634.72 439.40,634.79 439.68,634.84 439.95,634.89 440.23,634.93 440.50,634.97 440.78,635.00 441.05,635.03 441.33,635.06 441.60,635.08 441.88,635.11 442.15,635.12 442.43,635.14 442.70,635.16 442.98,635.17 443.25,635.18 443.53,635.20 443.80,635.21 444.08,635.22 444.35,635.23 444.62,635.24 444.90,635.25 445.18,635.25 445.45,635.26 445.73,635.27 446.00,635.27 446.28,635.28 446.55,635.29 446.83,635.29 447.10,635.30 447.38,635.30 447.65,635.31 447.93,635.31 448.20,635.31 448.48,635.32 448.75,635.32 449.03,635.33 449.30,635.33" fill="none" stroke="#6a9a6a" stroke-width="0.8"/>
<rect x="336.77" y="637.5" width="1.76" height="25.6" fill="#333"/>
<rect x="339.30" y="637.5" width="1.76" height="25.6" fill="#333"/>
<rect x="348.85" y="637.5" width="0.70" height="25.6" fill="#aaa"/>
<rect x="358.55" y="637.5" width="1.10" height="25.6" fill="#7a9a78"/>
<rect x="364.82" y="637.5" width="1.76" height="25.6" fill="#4c8a54"/>
<rect x="385.12" y="637.5" width="1.21" height="25.6" fill="#4c8a54"/>
<rect x="389.52" y="637.5" width="1.21" height="25.6" fill="#4c8a54"/>
<rect x="392.98" y="637.5" width="3.08" height="25.6" fill="#4c8a54"/>
<rect x="426.95" y="637.5" width="0.70" height="25.6" fill="#aaa"/>
<rect x="434.45" y="637.5" width="1.10" height="25.6" fill="#ccc"/>
<rect x="439.07" y="637.5" width="1.76" height="25.6" fill="#444"/>
<rect x="441.27" y="637.5" width="1.76" height="25.6" fill="#444"/>
<rect x="328.3" y="568.3" width="121" height="96.7" fill="none" stroke="#555" stroke-width="1.1"/>
<line x1="328.30" y1="665" x2="328.30" y2="663.2" stroke="#555" stroke-width="0.8"/>
<text x="328.30" y="674.3" font-size="7" text-anchor="middle" fill="#222" style="fill:#222;stroke:#222;stroke-width:0.1px">560</text>
<line x1="350.30" y1="665" x2="350.30" y2="663.2" stroke="#555" stroke-width="0.8"/>
<text x="350.30" y="674.3" font-size="7" text-anchor="middle" fill="#222" style="fill:#222;stroke:#222;stroke-width:0.1px">580</text>
<line x1="372.30" y1="665" x2="372.30" y2="663.2" stroke="#555" stroke-width="0.8"/>
<text x="372.30" y="674.3" font-size="7" text-anchor="middle" fill="#222" style="fill:#222;stroke:#222;stroke-width:0.1px">600</text>
<line x1="394.30" y1="665" x2="394.30" y2="663.2" stroke="#555" stroke-width="0.8"/>
<text x="394.30" y="674.3" font-size="7" text-anchor="middle" fill="#222" style="fill:#222;stroke:#222;stroke-width:0.1px">620</text>
<line x1="416.30" y1="665" x2="416.30" y2="663.2" stroke="#555" stroke-width="0.8"/>
<text x="416.30" y="674.3" font-size="7" text-anchor="middle" fill="#222" style="fill:#222;stroke:#222;stroke-width:0.1px">640</text>
<line x1="438.30" y1="665" x2="438.30" y2="663.2" stroke="#555" stroke-width="0.8"/>
<text x="438.30" y="674.3" font-size="7" text-anchor="middle" fill="#222" style="fill:#222;stroke:#222;stroke-width:0.1px">660</text>
<text x="391.80" y="681.2" font-size="7" text-anchor="middle" style="fill:#222;stroke:#222;stroke-width:0.1px">Wavelength (nm)</text>
<text transform="translate(323.70,613.5) rotate(-90)" x="0" y="0" font-size="7.2" text-anchor="middle" textLength="49" lengthAdjust="spacingAndGlyphs" style="fill:#222;stroke:#222;stroke-width:0.1px">Intensity (a.u.)</text>
<rect x="464.5" y="568.3" width="121" height="96.7" fill="#fff"/>
<polygon points="492.00,635.50 492.00,633.02 492.27,632.84 492.55,632.63 492.82,632.39 493.10,632.12 493.38,631.81 493.65,631.45 493.93,631.03 494.20,630.54 494.48,629.95 494.75,629.26 495.02,628.44 495.30,627.46 495.57,626.30 495.85,624.93 496.12,623.36 496.40,621.62 496.68,619.81 496.95,618.14 497.23,616.85 497.50,616.20 497.77,616.28 498.05,616.97 498.32,618.03 498.60,619.18 498.88,620.22 499.15,621.03 499.43,621.57 499.70,621.83 499.98,621.87 500.25,621.75 500.52,621.54 500.80,621.36 501.07,621.32 501.35,621.50 501.62,621.95 501.90,622.64 502.18,623.51 502.45,624.48 502.73,625.47 503.00,626.42 503.27,627.29 503.55,628.07 503.82,628.75 504.10,629.35 504.38,629.86 504.65,630.30 504.93,630.68 505.20,631.01 505.48,631.28 505.75,631.52 506.02,631.73 506.30,631.90 506.30,635.50" fill="#5c9acb"/>
<polygon points="516.20,635.50 516.20,629.44 516.48,629.05 516.75,628.62 517.02,628.15 517.30,627.62 517.58,627.03 517.85,626.39 518.12,625.68 518.40,624.92 518.67,624.10 518.95,623.23 519.23,622.33 519.50,621.41 519.77,620.46 520.05,619.50 520.33,618.49 520.60,617.41 520.88,616.18 521.15,614.73 521.42,612.97 521.70,610.78 521.98,608.04 522.25,604.61 522.52,600.36 522.80,595.22 523.08,589.25 523.35,582.81 523.62,576.71 523.90,572.20 524.17,570.39 524.45,571.61 524.73,575.11 525.00,579.60 525.27,583.96 525.55,587.54 525.83,590.11 526.10,591.69 526.38,592.41 526.65,592.46 526.92,592.08 527.20,591.49 527.48,590.91 527.75,590.50 528.02,590.35 528.30,590.43 528.58,590.67 528.85,590.95 529.12,591.20 529.40,591.39 529.67,591.59 529.95,591.91 530.23,592.50 530.50,593.50 530.77,594.96 531.05,596.85 531.33,599.06 531.60,601.43 531.88,603.83 532.15,606.14 532.42,608.27 532.70,610.19 532.98,611.90 533.25,613.40 533.52,614.71 533.80,615.86 534.08,616.89 534.35,617.82 534.62,618.68 534.90,619.50 535.17,620.28 535.45,621.05 535.73,621.80 536.00,622.53 536.27,623.25 536.55,623.95 536.83,624.63 537.10,625.28 537.38,625.89 537.65,626.47 537.92,627.02 538.20,627.53 538.48,628.01 538.75,628.45 539.02,628.86 539.30,629.24 539.58,629.59 539.85,629.92 540.12,630.22 540.40,630.50 540.67,630.76 540.95,631.00 541.23,631.22 541.50,631.42 541.77,631.61 542.05,631.79 542.33,631.96 542.60,632.11 542.60,635.50" fill="#8ab8d8"/>
<polyline points="464.50,635.28 464.77,635.28 465.05,635.27 465.32,635.27 465.60,635.27 465.88,635.27 466.15,635.26 466.43,635.26 466.70,635.26 466.98,635.26 467.25,635.25 467.52,635.25 467.80,635.25 468.07,635.24 468.35,635.24 468.62,635.24 468.90,635.23 469.18,635.23 469.45,635.23 469.73,635.22 470.00,635.22 470.27,635.21 470.55,635.21 470.82,635.21 471.10,635.20 471.38,635.20 471.65,635.19 471.93,635.19 472.20,635.19 472.48,635.18 472.75,635.18 473.02,635.17 473.30,635.17 473.57,635.16 473.85,635.16 474.12,635.15 474.40,635.14 474.68,635.14 474.95,635.13 475.23,635.13 475.50,635.12 475.77,635.11 476.05,635.11 476.32,635.10 476.60,635.09 476.88,635.09 477.15,635.08 477.43,635.07 477.70,635.06 477.98,635.06 478.25,635.05 478.52,635.04 478.80,635.03 479.07,635.02 479.35,635.01 479.62,635.00 479.90,634.99 480.18,634.98 480.45,634.97 480.73,634.96 481.00,634.95 481.27,634.93 481.55,634.92 481.82,634.91 482.10,634.89 482.38,634.88 482.65,634.86 482.93,634.85 483.20,634.83 483.48,634.81 483.75,634.80 484.02,634.78 484.30,634.76 484.57,634.74 484.85,634.71 485.12,634.69 485.40,634.66 485.68,634.64 485.95,634.61 486.23,634.58 486.50,634.55 486.77,634.52 487.05,634.48 487.32,634.44 487.60,634.40 487.88,634.36 488.15,634.32 488.43,634.27 488.70,634.21 488.98,634.15 489.25,634.09 489.52,634.02 489.80,633.95 490.07,633.87 490.35,633.78 490.62,633.69 490.90,633.58 491.18,633.46 491.45,633.33 491.73,633.19 492.00,633.02 492.27,632.84 492.55,632.63 492.82,632.39 493.10,632.12 493.38,631.81 493.65,631.45 493.93,631.03 494.20,630.54 494.48,629.95 494.75,629.26 495.02,628.44 495.30,627.46 495.57,626.30 495.85,624.93 496.12,623.36 496.40,621.62 496.68,619.81 496.95,618.14 497.23,616.85 497.50,616.20 497.77,616.28 498.05,616.97 498.32,618.03 498.60,619.18 498.88,620.22 499.15,621.03 499.43,621.57 499.70,621.83 499.98,621.87 500.25,621.75 500.52,621.54 500.80,621.36 501.07,621.32 501.35,621.50 501.62,621.95 501.90,622.64 502.18,623.51 502.45,624.48 502.73,625.47 503.00,626.42 503.27,627.29 503.55,628.07 503.82,628.75 504.10,629.35 504.38,629.86 504.65,630.30 504.93,630.68 505.20,631.01 505.48,631.28 505.75,631.52 506.02,631.73 506.30,631.90 506.57,632.05 506.85,632.18 507.12,632.28 507.40,632.37 507.68,632.45 507.95,632.51 508.23,632.56 508.50,632.60 508.77,632.62 509.05,632.64 509.32,632.65 509.60,632.65 509.88,632.64 510.15,632.62 510.43,632.59 510.70,632.56 510.98,632.52 511.25,632.47 511.52,632.41 511.80,632.35 512.08,632.27 512.35,632.19 512.62,632.09 512.90,631.99 513.17,631.87 513.45,631.74 513.73,631.60 514.00,631.45 514.27,631.27 514.55,631.08 514.83,630.87 515.10,630.64 515.38,630.39 515.65,630.10 515.92,629.79 516.20,629.44 516.48,629.05 516.75,628.62 517.02,628.15 517.30,627.62 517.58,627.03 517.85,626.39 518.12,625.68 518.40,624.92 518.67,624.10 518.95,623.23 519.23,622.33 519.50,621.41 519.77,620.46 520.05,619.50 520.33,618.49 520.60,617.41 520.88,616.18 521.15,614.73 521.42,612.97 521.70,610.78 521.98,608.04 522.25,604.61 522.52,600.36 522.80,595.22 523.08,589.25 523.35,582.81 523.62,576.71 523.90,572.20 524.17,570.39 524.45,571.61 524.73,575.11 525.00,579.60 525.27,583.96 525.55,587.54 525.83,590.11 526.10,591.69 526.38,592.41 526.65,592.46 526.92,592.08 527.20,591.49 527.48,590.91 527.75,590.50 528.02,590.35 528.30,590.43 528.58,590.67 528.85,590.95 529.12,591.20 529.40,591.39 529.67,591.59 529.95,591.91 530.23,592.50 530.50,593.50 530.77,594.96 531.05,596.85 531.33,599.06 531.60,601.43 531.88,603.83 532.15,606.14 532.42,608.27 532.70,610.19 532.98,611.90 533.25,613.40 533.52,614.71 533.80,615.86 534.08,616.89 534.35,617.82 534.62,618.68 534.90,619.50 535.17,620.28 535.45,621.05 535.73,621.80 536.00,622.53 536.27,623.25 536.55,623.95 536.83,624.63 537.10,625.28 537.38,625.89 537.65,626.47 537.92,627.02 538.20,627.53 538.48,628.01 538.75,628.45 539.02,628.86 539.30,629.24 539.58,629.59 539.85,629.92 540.12,630.22 540.40,630.50 540.67,630.76 540.95,631.00 541.23,631.22 541.50,631.42 541.77,631.61 542.05,631.79 542.33,631.96 542.60,632.11 542.88,632.26 543.15,632.39 543.42,632.52 543.70,632.64 543.98,632.75 544.25,632.85 544.52,632.95 544.80,633.04 545.08,633.13 545.35,633.21 545.62,633.29 545.90,633.36 546.17,633.43 546.45,633.50 546.73,633.56 547.00,633.62 547.27,633.68 547.55,633.73 547.83,633.78 548.10,633.83 548.38,633.87 548.65,633.91 548.92,633.96 549.20,633.99 549.48,634.03 549.75,634.07 550.02,634.10 550.30,634.13 550.58,634.16 550.85,634.19 551.12,634.22 551.40,634.24 551.67,634.27 551.95,634.29 552.23,634.31 552.50,634.33 552.77,634.35 553.05,634.37 553.33,634.38 553.60,634.40 553.88,634.41 554.15,634.42 554.42,634.43 554.70,634.44 554.98,634.45 555.25,634.46 555.52,634.46 555.80,634.46 556.08,634.47 556.35,634.47 556.62,634.46 556.90,634.46 557.17,634.45 557.45,634.44 557.73,634.43 558.00,634.42 558.27,634.40 558.55,634.38 558.83,634.35 559.10,634.32 559.38,634.29 559.65,634.25 559.92,634.20 560.20,634.15 560.48,634.10 560.75,634.04 561.02,633.97 561.30,633.90 561.58,633.83 561.85,633.75 562.12,633.68 562.40,633.62 562.67,633.57 562.95,633.53 563.23,633.50 563.50,633.50 563.77,633.52 564.05,633.56 564.33,633.61 564.60,633.68 564.88,633.76 565.15,633.85 565.42,633.93 565.70,634.02 565.98,634.11 566.25,634.19 566.52,634.27 566.80,634.34 567.08,634.40 567.35,634.47 567.62,634.52 567.90,634.57 568.17,634.62 568.45,634.66 568.73,634.70 569.00,634.74 569.27,634.77 569.55,634.80 569.83,634.83 570.10,634.86 570.38,634.88 570.65,634.90 570.92,634.92 571.20,634.94 571.48,634.96 571.75,634.97 572.02,634.99 572.30,635.00 572.58,635.02 572.85,635.03 573.12,635.04 573.40,635.05 573.67,635.07 573.95,635.08 574.23,635.09 574.50,635.10 574.77,635.10 575.05,635.11 575.33,635.12 575.60,635.13 575.88,635.14 576.15,635.14 576.42,635.15 576.70,635.16 576.98,635.16 577.25,635.17 577.52,635.17 577.80,635.18 578.08,635.18 578.35,635.19 578.62,635.20 578.90,635.20 579.17,635.20 579.45,635.21 579.73,635.21 580.00,635.22 580.27,635.22 580.55,635.23 580.83,635.23 581.10,635.23 581.38,635.24 581.65,635.24 581.92,635.24 582.20,635.25 582.48,635.25 582.75,635.25 583.02,635.26 583.30,635.26 583.58,635.26 583.85,635.27 584.12,635.27 584.40,635.27 584.67,635.28 584.95,635.28 585.23,635.28 585.50,635.28" fill="none" stroke="#6a9ac0" stroke-width="0.8"/>
<rect x="472.97" y="637.5" width="1.76" height="25.6" fill="#444"/>
<rect x="475.50" y="637.5" width="1.76" height="25.6" fill="#444"/>
<rect x="485.05" y="637.5" width="0.70" height="25.6" fill="#bbb"/>
<rect x="497.50" y="637.5" width="1.10" height="25.6" fill="#7a9ab8"/>
<rect x="501.46" y="637.5" width="0.88" height="25.6" fill="#a0b8c8"/>
<rect x="522.47" y="637.5" width="2.86" height="25.6" fill="#4a8cb0"/>
<rect x="528.52" y="637.5" width="2.42" height="25.6" fill="#4a8cb0"/>
<rect x="566.45" y="637.5" width="0.70" height="25.6" fill="#bbb"/>
<rect x="575.27" y="637.5" width="1.76" height="25.6" fill="#333"/>
<rect x="577.47" y="637.5" width="1.76" height="25.6" fill="#333"/>
<rect x="464.5" y="568.3" width="121" height="96.7" fill="none" stroke="#555" stroke-width="1.1"/>
<line x1="464.50" y1="665" x2="464.50" y2="663.2" stroke="#555" stroke-width="0.8"/>
<text x="464.50" y="674.3" font-size="7" text-anchor="middle" fill="#222" style="fill:#222;stroke:#222;stroke-width:0.1px">560</text>
<line x1="486.50" y1="665" x2="486.50" y2="663.2" stroke="#555" stroke-width="0.8"/>
<text x="486.50" y="674.3" font-size="7" text-anchor="middle" fill="#222" style="fill:#222;stroke:#222;stroke-width:0.1px">580</text>
<line x1="508.50" y1="665" x2="508.50" y2="663.2" stroke="#555" stroke-width="0.8"/>
<text x="508.50" y="674.3" font-size="7" text-anchor="middle" fill="#222" style="fill:#222;stroke:#222;stroke-width:0.1px">600</text>
<line x1="530.50" y1="665" x2="530.50" y2="663.2" stroke="#555" stroke-width="0.8"/>
<text x="530.50" y="674.3" font-size="7" text-anchor="middle" fill="#222" style="fill:#222;stroke:#222;stroke-width:0.1px">620</text>
<line x1="552.50" y1="665" x2="552.50" y2="663.2" stroke="#555" stroke-width="0.8"/>
<text x="552.50" y="674.3" font-size="7" text-anchor="middle" fill="#222" style="fill:#222;stroke:#222;stroke-width:0.1px">640</text>
<line x1="574.50" y1="665" x2="574.50" y2="663.2" stroke="#555" stroke-width="0.8"/>
<text x="574.50" y="674.3" font-size="7" text-anchor="middle" fill="#222" style="fill:#222;stroke:#222;stroke-width:0.1px">660</text>
<text x="528.00" y="681.2" font-size="7" text-anchor="middle" style="fill:#222;stroke:#222;stroke-width:0.1px">Wavelength (nm)</text>
<text transform="translate(459.90,613.5) rotate(-90)" x="0" y="0" font-size="7.2" text-anchor="middle" textLength="49" lengthAdjust="spacingAndGlyphs" style="fill:#222;stroke:#222;stroke-width:0.1px">Intensity (a.u.)</text>
<text x="43" y="716.3" font-size="23" textLength="124.5" lengthAdjust="spacingAndGlyphs">Sub-code 1</text>
<text x="185.4" y="716.3" font-size="23" textLength="126.6" lengthAdjust="spacingAndGlyphs">Sub-code 2</text>
<text x="327.8" y="716.3" font-size="23" textLength="127.2" lengthAdjust="spacingAndGlyphs">Sub-code 3</text>
<text x="465" y="716.3" font-size="23" textLength="127" lengthAdjust="spacingAndGlyphs">Sub-code 4</text>
<rect x="87.4" y="742.3" width="457.6" height="6.1" fill="#dbb6da"/>
<rect x="87.4" y="727.6" width="8.6" height="16" fill="url(#gStub)"/>
<rect x="535.8" y="727.6" width="9.2" height="16" fill="url(#gStub)"/>
<rect x="233" y="727.6" width="9.5" height="16" fill="url(#gStub)"/>
<rect x="235.5" y="733" width="4.5" height="12" fill="#eee0ee" opacity="0.7"/>
<rect x="387" y="727.6" width="8.8" height="16" fill="url(#gStub)"/>
<rect x="389.5" y="733" width="3.8" height="12" fill="#eee0ee" opacity="0.7"/>
<path d="M160.7 748 L169.3 748 L169.3 761.8 L174 761.8 L164.8 771 L154.6 761.8 L160.7 761.8 Z" fill="url(#gDown)"/>
<rect x="94.4" y="782.1" width="439.0" height="96.4" fill="#fff" stroke="#4a4a4a" stroke-width="1.5"/>
<rect x="108.1" y="790" width="3.9" height="80.0" fill="#000"/>
<rect x="114.9" y="790" width="3.9" height="80.0" fill="#000"/>
<rect x="129.6" y="791.5" width="1.5" height="74.3" fill="#c4c8c4"/>
<rect x="139" y="791.5" width="1.5" height="74.3" fill="#6a8a60"/>
<rect x="144.8" y="791.5" width="2.0" height="74.3" fill="#4e7a48"/>
<rect x="164" y="791.5" width="2.0" height="74.3" fill="#4e7a48"/>
<rect x="171.6" y="791.5" width="3.7" height="74.3" fill="#4a7048"/>
<rect x="205" y="791.5" width="1.2" height="74.3" fill="#9aa0a0"/>
<rect x="211.6" y="791.5" width="1.4" height="74.3" fill="#9aa0a0"/>
<rect x="225.3" y="791.5" width="1.2" height="74.3" fill="#b8c4d0"/>
<rect x="237" y="791.5" width="1.6" height="74.3" fill="#5a7aa8"/>
<rect x="240.6" y="791.5" width="1.5" height="74.3" fill="#5a7aa8"/>
<rect x="260.9" y="791.5" width="3.5" height="74.3" fill="#2e5aa0"/>
<rect x="266.4" y="791.5" width="3.5" height="74.3" fill="#2e5aa0"/>
<rect x="303.9" y="791.5" width="1.5" height="74.3" fill="#a0a8a8"/>
<rect x="318.7" y="791.5" width="1.6" height="74.3" fill="#b0b8b8"/>
<rect x="328.9" y="791.5" width="1.6" height="74.3" fill="#6a9a70"/>
<rect x="334.8" y="791.5" width="2.3" height="74.3" fill="#4c8a58"/>
<rect x="353.9" y="791.5" width="2.4" height="74.3" fill="#4c9a5c"/>
<rect x="357.8" y="791.5" width="2.0" height="74.3" fill="#4c9a5c"/>
<rect x="361.4" y="791.5" width="3.5" height="74.3" fill="#4c9a5c"/>
<rect x="393.8" y="791.5" width="1.6" height="74.3" fill="#a0a8a8"/>
<rect x="400.6" y="791.5" width="1.4" height="74.3" fill="#90a090"/>
<rect x="418.4" y="791.5" width="1.6" height="74.3" fill="#b0c0d0"/>
<rect x="430.2" y="791.5" width="1.5" height="74.3" fill="#5a88b0"/>
<rect x="433.7" y="791.5" width="1.5" height="74.3" fill="#5a88b0"/>
<rect x="454" y="791.5" width="3.5" height="74.3" fill="#5a9ac0"/>
<rect x="459.9" y="791.5" width="2.7" height="74.3" fill="#5a9ac0"/>
<rect x="496.6" y="791.5" width="1.6" height="74.3" fill="#98a8b0"/>
<rect x="507.5" y="790" width="4.0" height="80.0" fill="#000"/>
<rect x="513.8" y="790" width="4.3" height="80.0" fill="#000"/>
<text x="172.1" y="911.3" font-size="32.8" textLength="303.2" lengthAdjust="spacingAndGlyphs">Photonic Barcodes</text>
<path d="M289.5 918.4 L342.7 918.4 L342.7 936.6 L365.6 936.6 L316.5 953.8 L267.5 936.6 L289.5 936.6 Z" fill="url(#gDown2)"/>
<rect x="93.8" y="961.3" width="438.8" height="96.6" fill="#fff" stroke="#4a4a4a" stroke-width="1.5"/>
<rect x="105.5" y="969" width="4.3" height="80.7" fill="#000"/>
<rect x="112.4" y="969" width="4.3" height="80.7" fill="#000"/>
<rect x="124.5" y="970" width="1.5" height="74.8" fill="#999"/>
<rect x="134.6" y="970" width="2.4" height="74.8" fill="#000"/>
<rect x="140.9" y="970" width="2.7" height="74.8" fill="#000"/>
<rect x="162" y="970" width="2.7" height="74.8" fill="#000"/>
<rect x="169.8" y="970" width="4.7" height="74.8" fill="#000"/>
<rect x="206.2" y="970" width="1.5" height="74.8" fill="#999"/>
<rect x="213.6" y="970" width="1.6" height="74.8" fill="#999"/>
<rect x="220.6" y="970" width="1.6" height="74.8" fill="#999"/>
<rect x="232.7" y="970" width="2.3" height="74.8" fill="#000"/>
<rect x="236.7" y="970" width="2.3" height="74.8" fill="#000"/>
<rect x="258.9" y="970" width="4.3" height="74.8" fill="#000"/>
<rect x="265.2" y="970" width="3.5" height="74.8" fill="#000"/>
<rect x="305" y="970" width="2.0" height="74.8" fill="#999"/>
<rect x="314" y="970" width="2.0" height="74.8" fill="#999"/>
<rect x="324.6" y="970" width="2.0" height="74.8" fill="#000"/>
<rect x="330.9" y="970" width="2.7" height="74.8" fill="#000"/>
<rect x="352" y="970" width="2.3" height="74.8" fill="#000"/>
<rect x="355.9" y="970" width="2.3" height="74.8" fill="#000"/>
<rect x="359.8" y="970" width="3.9" height="74.8" fill="#000"/>
<rect x="395" y="970" width="1.5" height="74.8" fill="#999"/>
<rect x="402.8" y="970" width="1.6" height="74.8" fill="#999"/>
<rect x="413.7" y="970" width="1.6" height="74.8" fill="#999"/>
<rect x="426.2" y="970" width="2.0" height="74.8" fill="#000"/>
<rect x="430.2" y="970" width="1.9" height="74.8" fill="#000"/>
<rect x="452" y="970" width="4.0" height="74.8" fill="#000"/>
<rect x="458.3" y="970" width="3.1" height="74.8" fill="#000"/>
<rect x="498.2" y="970" width="1.5" height="74.8" fill="#999"/>
<rect x="508.7" y="969" width="3.9" height="80.7" fill="#000"/>
<rect x="515.4" y="969" width="3.9" height="80.7" fill="#000"/>
<text x="246" y="1095.5" font-size="32" textLength="151.2" lengthAdjust="spacingAndGlyphs">Barcodes</text>
<rect x="666.5" y="570.2" width="253.7" height="252.8" fill="#1e1917"/>
<g clip-path="url(#clipA)"><g mask="url(#maskA)">
<rect x="666.5" y="570.2" width="253.7" height="252.8" fill="#44120d"/>
<g filter="url(#wavy)"><g filter="url(#blur06)">
<ellipse cx="790" cy="690" rx="3.4" ry="4.1" transform="rotate(-8 790 690)" fill="none" stroke="#a02a1e" stroke-width="1.5"/>
<ellipse cx="790" cy="690" rx="6.8" ry="8.2" transform="rotate(-8 790 690)" fill="none" stroke="#a02a1e" stroke-width="1.5"/>
<ellipse cx="790" cy="690" rx="10.2" ry="12.2" transform="rotate(-8 790 690)" fill="none" stroke="#a02a1e" stroke-width="1.5"/>
<ellipse cx="790" cy="690" rx="13.6" ry="16.3" transform="rotate(-8 790 690)" fill="none" stroke="#a02a1e" stroke-width="1.5"/>
<ellipse cx="790" cy="690" rx="17.0" ry="20.4" transform="rotate(-8 790 690)" fill="none" stroke="#a02a1e" stroke-width="1.5"/>
<ellipse cx="790" cy="690" rx="20.4" ry="24.5" transform="rotate(-8 790 690)" fill="none" stroke="#a02a1e" stroke-width="1.5"/>
<ellipse cx="790" cy="690" rx="23.8" ry="28.6" transform="rotate(-8 790 690)" fill="none" stroke="#a02a1e" stroke-width="1.5"/>
<ellipse cx="790" cy="690" rx="27.2" ry="32.6" transform="rotate(-8 790 690)" fill="none" stroke="#a02a1e" stroke-width="1.5"/>
<ellipse cx="790" cy="690" rx="30.6" ry="36.7" transform="rotate(-8 790 690)" fill="none" stroke="#a02a1e" stroke-width="1.5"/>
<ellipse cx="790" cy="690" rx="34.0" ry="40.8" transform="rotate(-8 790 690)" fill="none" stroke="#a02a1e" stroke-width="1.5"/>
<ellipse cx="790" cy="690" rx="37.4" ry="44.9" transform="rotate(-8 790 690)" fill="none" stroke="#a02a1e" stroke-width="1.5"/>
<ellipse cx="790" cy="690" rx="40.8" ry="49.0" transform="rotate(-8 790 690)" fill="none" stroke="#a02a1e" stroke-width="1.5"/>
<ellipse cx="790" cy="690" rx="44.2" ry="53.0" transform="rotate(-8 790 690)" fill="none" stroke="#a02a1e" stroke-width="1.5"/>
<ellipse cx="790" cy="690" rx="47.6" ry="57.1" transform="rotate(-8 790 690)" fill="none" stroke="#a02a1e" stroke-width="1.5"/>
<ellipse cx="790" cy="690" rx="51.0" ry="61.2" transform="rotate(-8 790 690)" fill="none" stroke="#a02a1e" stroke-width="1.5"/>
<ellipse cx="790" cy="690" rx="54.4" ry="65.3" transform="rotate(-8 790 690)" fill="none" stroke="#a02a1e" stroke-width="1.5"/>
<ellipse cx="790" cy="690" rx="57.8" ry="69.4" transform="rotate(-8 790 690)" fill="none" stroke="#a02a1e" stroke-width="1.5"/>
<ellipse cx="790" cy="690" rx="61.2" ry="73.4" transform="rotate(-8 790 690)" fill="none" stroke="#a02a1e" stroke-width="1.5"/>
<ellipse cx="790" cy="690" rx="64.6" ry="77.5" transform="rotate(-8 790 690)" fill="none" stroke="#a02a1e" stroke-width="1.5"/>
<ellipse cx="790" cy="690" rx="68.0" ry="81.6" transform="rotate(-8 790 690)" fill="none" stroke="#a02a1e" stroke-width="1.5"/>
<ellipse cx="790" cy="690" rx="71.4" ry="85.7" transform="rotate(-8 790 690)" fill="none" stroke="#a02a1e" stroke-width="1.5"/>
<ellipse cx="790" cy="690" rx="74.8" ry="89.8" transform="rotate(-8 790 690)" fill="none" stroke="#a02a1e" stroke-width="1.5"/>
<ellipse cx="790" cy="690" rx="78.2" ry="93.8" transform="rotate(-8 790 690)" fill="none" stroke="#a02a1e" stroke-width="1.5"/>
<ellipse cx="790" cy="690" rx="81.6" ry="97.9" transform="rotate(-8 790 690)" fill="none" stroke="#a02a1e" stroke-width="1.5"/>
<ellipse cx="790" cy="690" rx="85.0" ry="102.0" transform="rotate(-8 790 690)" fill="none" stroke="#a02a1e" stroke-width="1.5"/>
<ellipse cx="790" cy="690" rx="88.4" ry="106.1" transform="rotate(-8 790 690)" fill="none" stroke="#a02a1e" stroke-width="1.5"/>
<ellipse cx="790" cy="690" rx="91.8" ry="110.2" transform="rotate(-8 790 690)" fill="none" stroke="#a02a1e" stroke-width="1.5"/>
<ellipse cx="790" cy="690" rx="95.2" ry="114.2" transform="rotate(-8 790 690)" fill="none" stroke="#a02a1e" stroke-width="1.5"/>
<ellipse cx="790" cy="690" rx="98.6" ry="118.3" transform="rotate(-8 790 690)" fill="none" stroke="#a02a1e" stroke-width="1.5"/>
<ellipse cx="790" cy="690" rx="102.0" ry="122.4" transform="rotate(-8 790 690)" fill="none" stroke="#a02a1e" stroke-width="1.5"/>
<ellipse cx="790" cy="690" rx="105.4" ry="126.5" transform="rotate(-8 790 690)" fill="none" stroke="#a02a1e" stroke-width="1.5"/>
<ellipse cx="790" cy="690" rx="108.8" ry="130.6" transform="rotate(-8 790 690)" fill="none" stroke="#a02a1e" stroke-width="1.5"/>
<ellipse cx="790" cy="690" rx="112.2" ry="134.6" transform="rotate(-8 790 690)" fill="none" stroke="#a02a1e" stroke-width="1.5"/>
<ellipse cx="790" cy="690" rx="115.6" ry="138.7" transform="rotate(-8 790 690)" fill="none" stroke="#a02a1e" stroke-width="1.5"/>
<ellipse cx="790" cy="690" rx="119.0" ry="142.8" transform="rotate(-8 790 690)" fill="none" stroke="#a02a1e" stroke-width="1.5"/>
<ellipse cx="790" cy="690" rx="122.4" ry="146.9" transform="rotate(-8 790 690)" fill="none" stroke="#a02a1e" stroke-width="1.5"/>
<ellipse cx="790" cy="690" rx="125.8" ry="151.0" transform="rotate(-8 790 690)" fill="none" stroke="#a02a1e" stroke-width="1.5"/>
<ellipse cx="790" cy="690" rx="129.2" ry="155.0" transform="rotate(-8 790 690)" fill="none" stroke="#a02a1e" stroke-width="1.5"/>
<ellipse cx="790" cy="690" rx="132.6" ry="159.1" transform="rotate(-8 790 690)" fill="none" stroke="#a02a1e" stroke-width="1.5"/>
<ellipse cx="790" cy="690" rx="136.0" ry="163.2" transform="rotate(-8 790 690)" fill="none" stroke="#a02a1e" stroke-width="1.5"/>
<ellipse cx="790" cy="690" rx="139.4" ry="167.3" transform="rotate(-8 790 690)" fill="none" stroke="#a02a1e" stroke-width="1.5"/>
<ellipse cx="790" cy="690" rx="142.8" ry="171.4" transform="rotate(-8 790 690)" fill="none" stroke="#a02a1e" stroke-width="1.5"/>
<ellipse cx="790" cy="690" rx="146.2" ry="175.4" transform="rotate(-8 790 690)" fill="none" stroke="#a02a1e" stroke-width="1.5"/>
<ellipse cx="790" cy="690" rx="149.6" ry="179.5" transform="rotate(-8 790 690)" fill="none" stroke="#a02a1e" stroke-width="1.5"/>
<ellipse cx="790" cy="690" rx="153.0" ry="183.6" transform="rotate(-8 790 690)" fill="none" stroke="#a02a1e" stroke-width="1.5"/>
<ellipse cx="790" cy="690" rx="156.4" ry="187.7" transform="rotate(-8 790 690)" fill="none" stroke="#a02a1e" stroke-width="1.5"/>
<ellipse cx="790" cy="690" rx="159.8" ry="191.8" transform="rotate(-8 790 690)" fill="none" stroke="#a02a1e" stroke-width="1.5"/>
</g></g>
<rect x="666.5" y="570.2" width="253.7" height="252.8" filter="url(#dots)" opacity="0.5"/>
<rect x="666.5" y="570.2" width="253.7" height="252.8" filter="url(#mottle)"/>
</g></g>
<line x1="666.5" y1="595" x2="920.2" y2="598.4" stroke="#6e6e6e" stroke-width="1.3"/>
<line x1="666.5" y1="789.8" x2="920.2" y2="794.7" stroke="#6e6e6e" stroke-width="1.3"/>
<rect x="667" y="840.5" width="253.0" height="250.8" fill="#1e1917"/>
<g clip-path="url(#clipB)"><g mask="url(#maskB)">
<rect x="667" y="840.5" width="253.0" height="250.8" fill="#40120d"/>
<g filter="url(#wavy)"><g filter="url(#blur06)">
<ellipse cx="789" cy="984" rx="3.1" ry="4.0" transform="rotate(-5 789 984)" fill="none" stroke="#8c281c" stroke-width="1.35"/>
<ellipse cx="789" cy="984" rx="6.2" ry="8.1" transform="rotate(-5 789 984)" fill="none" stroke="#8c281c" stroke-width="1.35"/>
<ellipse cx="789" cy="984" rx="9.3" ry="12.1" transform="rotate(-5 789 984)" fill="none" stroke="#8c281c" stroke-width="1.35"/>
<ellipse cx="789" cy="984" rx="12.4" ry="16.1" transform="rotate(-5 789 984)" fill="none" stroke="#8c281c" stroke-width="1.35"/>
<ellipse cx="789" cy="984" rx="15.5" ry="20.2" transform="rotate(-5 789 984)" fill="none" stroke="#8c281c" stroke-width="1.35"/>
<ellipse cx="789" cy="984" rx="18.6" ry="24.2" transform="rotate(-5 789 984)" fill="none" stroke="#8c281c" stroke-width="1.35"/>
<ellipse cx="789" cy="984" rx="21.7" ry="28.2" transform="rotate(-5 789 984)" fill="none" stroke="#8c281c" stroke-width="1.35"/>
<ellipse cx="789" cy="984" rx="24.8" ry="32.2" transform="rotate(-5 789 984)" fill="none" stroke="#8c281c" stroke-width="1.35"/>
<ellipse cx="789" cy="984" rx="27.9" ry="36.3" transform="rotate(-5 789 984)" fill="none" stroke="#8c281c" stroke-width="1.35"/>
<ellipse cx="789" cy="984" rx="31.0" ry="40.3" transform="rotate(-5 789 984)" fill="none" stroke="#8c281c" stroke-width="1.35"/>
<ellipse cx="789" cy="984" rx="34.1" ry="44.3" transform="rotate(-5 789 984)" fill="none" stroke="#8c281c" stroke-width="1.35"/>
<ellipse cx="789" cy="984" rx="37.2" ry="48.4" transform="rotate(-5 789 984)" fill="none" stroke="#8c281c" stroke-width="1.35"/>
<ellipse cx="789" cy="984" rx="40.3" ry="52.4" transform="rotate(-5 789 984)" fill="none" stroke="#8c281c" stroke-width="1.35"/>
<ellipse cx="789" cy="984" rx="43.4" ry="56.4" transform="rotate(-5 789 984)" fill="none" stroke="#8c281c" stroke-width="1.35"/>
<ellipse cx="789" cy="984" rx="46.5" ry="60.5" transform="rotate(-5 789 984)" fill="none" stroke="#8c281c" stroke-width="1.35"/>
<ellipse cx="789" cy="984" rx="49.6" ry="64.5" transform="rotate(-5 789 984)" fill="none" stroke="#8c281c" stroke-width="1.35"/>
<ellipse cx="789" cy="984" rx="52.7" ry="68.5" transform="rotate(-5 789 984)" fill="none" stroke="#8c281c" stroke-width="1.35"/>
<ellipse cx="789" cy="984" rx="55.8" ry="72.5" transform="rotate(-5 789 984)" fill="none" stroke="#8c281c" stroke-width="1.35"/>
<ellipse cx="789" cy="984" rx="58.9" ry="76.6" transform="rotate(-5 789 984)" fill="none" stroke="#8c281c" stroke-width="1.35"/>
<ellipse cx="789" cy="984" rx="62.0" ry="80.6" transform="rotate(-5 789 984)" fill="none" stroke="#8c281c" stroke-width="1.35"/>
<ellipse cx="789" cy="984" rx="65.1" ry="84.6" transform="rotate(-5 789 984)" fill="none" stroke="#8c281c" stroke-width="1.35"/>
<ellipse cx="789" cy="984" rx="68.2" ry="88.7" transform="rotate(-5 789 984)" fill="none" stroke="#8c281c" stroke-width="1.35"/>
<ellipse cx="789" cy="984" rx="71.3" ry="92.7" transform="rotate(-5 789 984)" fill="none" stroke="#8c281c" stroke-width="1.35"/>
<ellipse cx="789" cy="984" rx="74.4" ry="96.7" transform="rotate(-5 789 984)" fill="none" stroke="#8c281c" stroke-width="1.35"/>
<ellipse cx="789" cy="984" rx="77.5" ry="100.8" transform="rotate(-5 789 984)" fill="none" stroke="#8c281c" stroke-width="1.35"/>
<ellipse cx="789" cy="984" rx="80.6" ry="104.8" transform="rotate(-5 789 984)" fill="none" stroke="#8c281c" stroke-width="1.35"/>
<ellipse cx="789" cy="984" rx="83.7" ry="108.8" transform="rotate(-5 789 984)" fill="none" stroke="#8c281c" stroke-width="1.35"/>
<ellipse cx="789" cy="984" rx="86.8" ry="112.8" transform="rotate(-5 789 984)" fill="none" stroke="#8c281c" stroke-width="1.35"/>
<ellipse cx="789" cy="984" rx="89.9" ry="116.9" transform="rotate(-5 789 984)" fill="none" stroke="#8c281c" stroke-width="1.35"/>
<ellipse cx="789" cy="984" rx="93.0" ry="120.9" transform="rotate(-5 789 984)" fill="none" stroke="#8c281c" stroke-width="1.35"/>
<ellipse cx="789" cy="984" rx="96.1" ry="124.9" transform="rotate(-5 789 984)" fill="none" stroke="#8c281c" stroke-width="1.35"/>
<ellipse cx="789" cy="984" rx="99.2" ry="129.0" transform="rotate(-5 789 984)" fill="none" stroke="#8c281c" stroke-width="1.35"/>
<ellipse cx="789" cy="984" rx="102.3" ry="133.0" transform="rotate(-5 789 984)" fill="none" stroke="#8c281c" stroke-width="1.35"/>
<ellipse cx="789" cy="984" rx="105.4" ry="137.0" transform="rotate(-5 789 984)" fill="none" stroke="#8c281c" stroke-width="1.35"/>
<ellipse cx="789" cy="984" rx="108.5" ry="141.1" transform="rotate(-5 789 984)" fill="none" stroke="#8c281c" stroke-width="1.35"/>
<ellipse cx="789" cy="984" rx="111.6" ry="145.1" transform="rotate(-5 789 984)" fill="none" stroke="#8c281c" stroke-width="1.35"/>
<ellipse cx="789" cy="984" rx="114.7" ry="149.1" transform="rotate(-5 789 984)" fill="none" stroke="#8c281c" stroke-width="1.35"/>
<ellipse cx="789" cy="984" rx="117.8" ry="153.1" transform="rotate(-5 789 984)" fill="none" stroke="#8c281c" stroke-width="1.35"/>
<ellipse cx="789" cy="984" rx="120.9" ry="157.2" transform="rotate(-5 789 984)" fill="none" stroke="#8c281c" stroke-width="1.35"/>
<ellipse cx="789" cy="984" rx="124.0" ry="161.2" transform="rotate(-5 789 984)" fill="none" stroke="#8c281c" stroke-width="1.35"/>
<ellipse cx="789" cy="984" rx="127.1" ry="165.2" transform="rotate(-5 789 984)" fill="none" stroke="#8c281c" stroke-width="1.35"/>
<ellipse cx="789" cy="984" rx="130.2" ry="169.3" transform="rotate(-5 789 984)" fill="none" stroke="#8c281c" stroke-width="1.35"/>
<ellipse cx="789" cy="984" rx="133.3" ry="173.3" transform="rotate(-5 789 984)" fill="none" stroke="#8c281c" stroke-width="1.35"/>
<ellipse cx="789" cy="984" rx="136.4" ry="177.3" transform="rotate(-5 789 984)" fill="none" stroke="#8c281c" stroke-width="1.35"/>
<ellipse cx="789" cy="984" rx="139.5" ry="181.3" transform="rotate(-5 789 984)" fill="none" stroke="#8c281c" stroke-width="1.35"/>
<ellipse cx="789" cy="984" rx="142.6" ry="185.4" transform="rotate(-5 789 984)" fill="none" stroke="#8c281c" stroke-width="1.35"/>
<ellipse cx="789" cy="984" rx="145.7" ry="189.4" transform="rotate(-5 789 984)" fill="none" stroke="#8c281c" stroke-width="1.35"/>
</g></g>
<rect x="667" y="840.5" width="253.0" height="250.8" filter="url(#dots)" opacity="0.6"/>
<rect x="667" y="840.5" width="253.0" height="250.8" filter="url(#mottle)"/>
</g></g>
<rect x="932.5" y="840.5" width="253.3" height="250.8" fill="#1e1917"/>
<g clip-path="url(#clipC)"><g mask="url(#maskC)">
<rect x="932.5" y="840.5" width="253.3" height="250.8" fill="#280a08"/>
<g filter="url(#wavy)"><g filter="url(#blur06)">
<ellipse cx="1051" cy="978" rx="3.2" ry="4.6" transform="rotate(-5 1051 978)" fill="none" stroke="#b02c1e" stroke-width="1.35"/>
<ellipse cx="1051" cy="978" rx="6.4" ry="9.3" transform="rotate(-5 1051 978)" fill="none" stroke="#b02c1e" stroke-width="1.35"/>
<ellipse cx="1051" cy="978" rx="9.6" ry="13.9" transform="rotate(-5 1051 978)" fill="none" stroke="#b02c1e" stroke-width="1.35"/>
<ellipse cx="1051" cy="978" rx="12.8" ry="18.6" transform="rotate(-5 1051 978)" fill="none" stroke="#b02c1e" stroke-width="1.35"/>
<ellipse cx="1051" cy="978" rx="16.0" ry="23.2" transform="rotate(-5 1051 978)" fill="none" stroke="#b02c1e" stroke-width="1.35"/>
<ellipse cx="1051" cy="978" rx="19.2" ry="27.8" transform="rotate(-5 1051 978)" fill="none" stroke="#b02c1e" stroke-width="1.35"/>
<ellipse cx="1051" cy="978" rx="22.4" ry="32.5" transform="rotate(-5 1051 978)" fill="none" stroke="#b02c1e" stroke-width="1.35"/>
<ellipse cx="1051" cy="978" rx="25.6" ry="37.1" transform="rotate(-5 1051 978)" fill="none" stroke="#b02c1e" stroke-width="1.35"/>
<ellipse cx="1051" cy="978" rx="28.8" ry="41.8" transform="rotate(-5 1051 978)" fill="none" stroke="#b02c1e" stroke-width="1.35"/>
<ellipse cx="1051" cy="978" rx="32.0" ry="46.4" transform="rotate(-5 1051 978)" fill="none" stroke="#b02c1e" stroke-width="1.35"/>
<ellipse cx="1051" cy="978" rx="35.2" ry="51.0" transform="rotate(-5 1051 978)" fill="none" stroke="#b02c1e" stroke-width="1.35"/>
<ellipse cx="1051" cy="978" rx="38.4" ry="55.7" transform="rotate(-5 1051 978)" fill="none" stroke="#b02c1e" stroke-width="1.35"/>
<ellipse cx="1051" cy="978" rx="41.6" ry="60.3" transform="rotate(-5 1051 978)" fill="none" stroke="#b02c1e" stroke-width="1.35"/>
<ellipse cx="1051" cy="978" rx="44.8" ry="65.0" transform="rotate(-5 1051 978)" fill="none" stroke="#b02c1e" stroke-width="1.35"/>
<ellipse cx="1051" cy="978" rx="48.0" ry="69.6" transform="rotate(-5 1051 978)" fill="none" stroke="#b02c1e" stroke-width="1.35"/>
<ellipse cx="1051" cy="978" rx="51.2" ry="74.2" transform="rotate(-5 1051 978)" fill="none" stroke="#b02c1e" stroke-width="1.35"/>
<ellipse cx="1051" cy="978" rx="54.4" ry="78.9" transform="rotate(-5 1051 978)" fill="none" stroke="#b02c1e" stroke-width="1.35"/>
<ellipse cx="1051" cy="978" rx="57.6" ry="83.5" transform="rotate(-5 1051 978)" fill="none" stroke="#b02c1e" stroke-width="1.35"/>
<ellipse cx="1051" cy="978" rx="60.8" ry="88.2" transform="rotate(-5 1051 978)" fill="none" stroke="#b02c1e" stroke-width="1.35"/>
<ellipse cx="1051" cy="978" rx="64.0" ry="92.8" transform="rotate(-5 1051 978)" fill="none" stroke="#b02c1e" stroke-width="1.35"/>
<ellipse cx="1051" cy="978" rx="67.2" ry="97.4" transform="rotate(-5 1051 978)" fill="none" stroke="#b02c1e" stroke-width="1.35"/>
<ellipse cx="1051" cy="978" rx="70.4" ry="102.1" transform="rotate(-5 1051 978)" fill="none" stroke="#b02c1e" stroke-width="1.35"/>
<ellipse cx="1051" cy="978" rx="73.6" ry="106.7" transform="rotate(-5 1051 978)" fill="none" stroke="#b02c1e" stroke-width="1.35"/>
<ellipse cx="1051" cy="978" rx="76.8" ry="111.4" transform="rotate(-5 1051 978)" fill="none" stroke="#b02c1e" stroke-width="1.35"/>
<ellipse cx="1051" cy="978" rx="80.0" ry="116.0" transform="rotate(-5 1051 978)" fill="none" stroke="#b02c1e" stroke-width="1.35"/>
<ellipse cx="1051" cy="978" rx="83.2" ry="120.6" transform="rotate(-5 1051 978)" fill="none" stroke="#b02c1e" stroke-width="1.35"/>
<ellipse cx="1051" cy="978" rx="86.4" ry="125.3" transform="rotate(-5 1051 978)" fill="none" stroke="#b02c1e" stroke-width="1.35"/>
<ellipse cx="1051" cy="978" rx="89.6" ry="129.9" transform="rotate(-5 1051 978)" fill="none" stroke="#b02c1e" stroke-width="1.35"/>
<ellipse cx="1051" cy="978" rx="92.8" ry="134.6" transform="rotate(-5 1051 978)" fill="none" stroke="#b02c1e" stroke-width="1.35"/>
<ellipse cx="1051" cy="978" rx="96.0" ry="139.2" transform="rotate(-5 1051 978)" fill="none" stroke="#b02c1e" stroke-width="1.35"/>
<ellipse cx="1051" cy="978" rx="99.2" ry="143.8" transform="rotate(-5 1051 978)" fill="none" stroke="#b02c1e" stroke-width="1.35"/>
<ellipse cx="1051" cy="978" rx="102.4" ry="148.5" transform="rotate(-5 1051 978)" fill="none" stroke="#b02c1e" stroke-width="1.35"/>
<ellipse cx="1051" cy="978" rx="105.6" ry="153.1" transform="rotate(-5 1051 978)" fill="none" stroke="#b02c1e" stroke-width="1.35"/>
<ellipse cx="1051" cy="978" rx="108.8" ry="157.8" transform="rotate(-5 1051 978)" fill="none" stroke="#b02c1e" stroke-width="1.35"/>
<ellipse cx="1051" cy="978" rx="112.0" ry="162.4" transform="rotate(-5 1051 978)" fill="none" stroke="#b02c1e" stroke-width="1.35"/>
<ellipse cx="1051" cy="978" rx="115.2" ry="167.0" transform="rotate(-5 1051 978)" fill="none" stroke="#b02c1e" stroke-width="1.35"/>
<ellipse cx="1051" cy="978" rx="118.4" ry="171.7" transform="rotate(-5 1051 978)" fill="none" stroke="#b02c1e" stroke-width="1.35"/>
<ellipse cx="1051" cy="978" rx="121.6" ry="176.3" transform="rotate(-5 1051 978)" fill="none" stroke="#b02c1e" stroke-width="1.35"/>
<ellipse cx="1051" cy="978" rx="124.8" ry="181.0" transform="rotate(-5 1051 978)" fill="none" stroke="#b02c1e" stroke-width="1.35"/>
<ellipse cx="1051" cy="978" rx="128.0" ry="185.6" transform="rotate(-5 1051 978)" fill="none" stroke="#b02c1e" stroke-width="1.35"/>
<ellipse cx="1051" cy="978" rx="131.2" ry="190.2" transform="rotate(-5 1051 978)" fill="none" stroke="#b02c1e" stroke-width="1.35"/>
<ellipse cx="1051" cy="978" rx="134.4" ry="194.9" transform="rotate(-5 1051 978)" fill="none" stroke="#b02c1e" stroke-width="1.35"/>
<ellipse cx="1051" cy="978" rx="137.6" ry="199.5" transform="rotate(-5 1051 978)" fill="none" stroke="#b02c1e" stroke-width="1.35"/>
<ellipse cx="1051" cy="978" rx="140.8" ry="204.2" transform="rotate(-5 1051 978)" fill="none" stroke="#b02c1e" stroke-width="1.35"/>
<ellipse cx="1051" cy="978" rx="144.0" ry="208.8" transform="rotate(-5 1051 978)" fill="none" stroke="#b02c1e" stroke-width="1.35"/>
<ellipse cx="1051" cy="978" rx="147.2" ry="213.4" transform="rotate(-5 1051 978)" fill="none" stroke="#b02c1e" stroke-width="1.35"/>
<ellipse cx="1051" cy="978" rx="150.4" ry="218.1" transform="rotate(-5 1051 978)" fill="none" stroke="#b02c1e" stroke-width="1.35"/>
</g></g>
<rect x="932.5" y="840.5" width="253.3" height="250.8" filter="url(#dots)" opacity="0.3"/>
<rect x="932.5" y="840.5" width="253.3" height="250.8" filter="url(#mottle)"/>
</g></g>
<circle cx="783.1" cy="687.7" r="4.6" fill="none" stroke="#f0f0f0" stroke-width="1.1"/>
<text x="783.1" y="683.7" font-size="12.5" text-anchor="middle" style="fill:#f4f4f4;stroke:#f4f4f4;stroke-width:0.2px">2</text>
<circle cx="770.2" cy="705.2" r="4.6" fill="none" stroke="#f0f0f0" stroke-width="1.1"/>
<text x="770.2" y="699.8" font-size="12.5" text-anchor="middle" style="fill:#f4f4f4;stroke:#f4f4f4;stroke-width:0.2px">3</text>
<circle cx="797.9" cy="700.6" r="4.6" fill="none" stroke="#f0f0f0" stroke-width="1.1"/>
<text x="797.1" y="696.6" font-size="12.5" text-anchor="middle" style="fill:#f4f4f4;stroke:#f4f4f4;stroke-width:0.2px">4</text>
<circle cx="809.7" cy="696.3" r="4.6" fill="none" stroke="#f0f0f0" stroke-width="1.1"/>
<text x="808.4" y="691.7" font-size="12.5" text-anchor="middle" style="fill:#f4f4f4;stroke:#f4f4f4;stroke-width:0.2px">1</text>
<g clip-path="url(#tclip1)">
<rect x="932.3" y="570.3" width="117.7" height="123.1" fill="#a22e26"/>
<rect x="932.3" y="570.3" width="117.7" height="123.1" filter="url(#dots2)" opacity="0.75"/>
<g filter="url(#wavy2)"><g filter="url(#blur1)">
<path d="M676.6 560.3 L686.5 574.6 L696.7 588.9 L707.7 603.2 L719.6 617.5 L732.6 631.8 L746.8 646.2 L762.1 660.5 L778.3 674.8 L795.2 689.1 L812.5 703.4" fill="none" stroke="#2a0606" stroke-width="5" stroke-linecap="round" opacity="0.92"/>
<path d="M698.6 560.3 L708.5 574.6 L718.7 588.9 L729.7 603.2 L741.6 617.5 L754.6 631.8 L768.8 646.2 L784.1 660.5 L800.3 674.8 L817.2 689.1 L834.5 703.4" fill="none" stroke="#2a0606" stroke-width="5" stroke-linecap="round" opacity="0.92"/>
<path d="M720.6 560.3 L730.5 574.6 L740.7 588.9 L751.7 603.2 L763.6 617.5 L776.6 631.8 L790.8 646.2 L806.1 660.5 L822.3 674.8 L839.2 689.1 L856.5 703.4" fill="none" stroke="#2a0606" stroke-width="5" stroke-linecap="round" opacity="0.92"/>
<path d="M742.6 560.3 L752.5 574.6 L762.7 588.9 L773.7 603.2 L785.6 617.5 L798.6 631.8 L812.8 646.2 L828.1 660.5 L844.3 674.8 L861.2 689.1 L878.5 703.4" fill="none" stroke="#2a0606" stroke-width="5" stroke-linecap="round" opacity="0.92"/>
<path d="M764.6 560.3 L774.5 574.6 L784.7 588.9 L795.7 603.2 L807.6 617.5 L820.6 631.8 L834.8 646.2 L850.1 660.5 L866.3 674.8 L883.2 689.1 L900.5 703.4" fill="none" stroke="#2a0606" stroke-width="5" stroke-linecap="round" opacity="0.92"/>
<path d="M786.6 560.3 L796.5 574.6 L806.7 588.9 L817.7 603.2 L829.6 617.5 L842.6 631.8 L856.8 646.2 L872.1 660.5 L888.3 674.8 L905.2 689.1 L922.5 703.4" fill="none" stroke="#2a0606" stroke-width="5" stroke-linecap="round" opacity="0.92"/>
<path d="M808.6 560.3 L818.5 574.6 L828.7 588.9 L839.7 603.2 L851.6 617.5 L864.6 631.8 L878.8 646.2 L894.1 660.5 L910.3 674.8 L927.2 689.1 L944.5 703.4" fill="none" stroke="#2a0606" stroke-width="5" stroke-linecap="round" opacity="0.92"/>
<path d="M830.6 560.3 L840.5 574.6 L850.7 588.9 L861.7 603.2 L873.6 617.5 L886.6 631.8 L900.8 646.2 L916.1 660.5 L932.3 674.8 L949.2 689.1 L966.5 703.4" fill="none" stroke="#2a0606" stroke-width="5" stroke-linecap="round" opacity="0.92"/>
<path d="M852.6 560.3 L862.5 574.6 L872.7 588.9 L883.7 603.2 L895.6 617.5 L908.6 631.8 L922.8 646.2 L938.1 660.5 L954.3 674.8 L971.2 689.1 L988.5 703.4" fill="none" stroke="#2a0606" stroke-width="5" stroke-linecap="round" opacity="0.92"/>
<path d="M874.6 560.3 L884.5 574.6 L894.7 588.9 L905.7 603.2 L917.6 617.5 L930.6 631.8 L944.8 646.2 L960.1 660.5 L976.3 674.8 L993.2 689.1 L1010.5 703.4" fill="none" stroke="#2a0606" stroke-width="5" stroke-linecap="round" opacity="0.92"/>
<path d="M896.6 560.3 L906.5 574.6 L916.7 588.9 L927.7 603.2 L939.6 617.5 L952.6 631.8 L966.8 646.2 L982.1 660.5 L998.3 674.8 L1015.2 689.1 L1032.5 703.4" fill="none" stroke="#2a0606" stroke-width="5" stroke-linecap="round" opacity="0.92"/>
<path d="M918.6 560.3 L928.5 574.6 L938.7 588.9 L949.7 603.2 L961.6 617.5 L974.6 631.8 L988.8 646.2 L1004.1 660.5 L1020.3 674.8 L1037.2 689.1 L1054.5 703.4" fill="none" stroke="#2a0606" stroke-width="5" stroke-linecap="round" opacity="0.92"/>
<path d="M940.6 560.3 L950.5 574.6 L960.7 588.9 L971.7 603.2 L983.6 617.5 L996.6 631.8 L1010.8 646.2 L1026.1 660.5 L1042.3 674.8 L1059.2 689.1 L1076.5 703.4" fill="none" stroke="#2a0606" stroke-width="5" stroke-linecap="round" opacity="0.92"/>
<path d="M962.6 560.3 L972.5 574.6 L982.7 588.9 L993.7 603.2 L1005.6 617.5 L1018.6 631.8 L1032.8 646.2 L1048.1 660.5 L1064.3 674.8 L1081.2 689.1 L1098.5 703.4" fill="none" stroke="#2a0606" stroke-width="5" stroke-linecap="round" opacity="0.92"/>
<path d="M984.6 560.3 L994.5 574.6 L1004.7 588.9 L1015.7 603.2 L1027.6 617.5 L1040.6 631.8 L1054.8 646.2 L1070.1 660.5 L1086.3 674.8 L1103.2 689.1 L1120.5 703.4" fill="none" stroke="#2a0606" stroke-width="5" stroke-linecap="round" opacity="0.92"/>
<path d="M1006.6 560.3 L1016.5 574.6 L1026.7 588.9 L1037.7 603.2 L1049.6 617.5 L1062.6 631.8 L1076.8 646.2 L1092.1 660.5 L1108.3 674.8 L1125.2 689.1 L1142.5 703.4" fill="none" stroke="#2a0606" stroke-width="5" stroke-linecap="round" opacity="0.92"/>
<path d="M1028.6 560.3 L1038.5 574.6 L1048.7 588.9 L1059.7 603.2 L1071.6 617.5 L1084.6 631.8 L1098.8 646.2 L1114.1 660.5 L1130.3 674.8 L1147.2 689.1 L1164.5 703.4" fill="none" stroke="#2a0606" stroke-width="5" stroke-linecap="round" opacity="0.92"/>
<path d="M1050.6 560.3 L1060.5 574.6 L1070.7 588.9 L1081.7 603.2 L1093.6 617.5 L1106.6 631.8 L1120.8 646.2 L1136.1 660.5 L1152.3 674.8 L1169.2 689.1 L1186.5 703.4" fill="none" stroke="#2a0606" stroke-width="5" stroke-linecap="round" opacity="0.92"/>
<path d="M1072.6 560.3 L1082.5 574.6 L1092.7 588.9 L1103.7 603.2 L1115.6 617.5 L1128.6 631.8 L1142.8 646.2 L1158.1 660.5 L1174.3 674.8 L1191.2 689.1 L1208.5 703.4" fill="none" stroke="#2a0606" stroke-width="5" stroke-linecap="round" opacity="0.92"/>
<path d="M1094.6 560.3 L1104.5 574.6 L1114.7 588.9 L1125.7 603.2 L1137.6 617.5 L1150.6 631.8 L1164.8 646.2 L1180.1 660.5 L1196.3 674.8 L1213.2 689.1 L1230.5 703.4" fill="none" stroke="#2a0606" stroke-width="5" stroke-linecap="round" opacity="0.92"/>
<path d="M1116.6 560.3 L1126.5 574.6 L1136.7 588.9 L1147.7 603.2 L1159.6 617.5 L1172.6 631.8 L1186.8 646.2 L1202.1 660.5 L1218.3 674.8 L1235.2 689.1 L1252.5 703.4" fill="none" stroke="#2a0606" stroke-width="5" stroke-linecap="round" opacity="0.92"/>
<path d="M1138.6 560.3 L1148.5 574.6 L1158.7 588.9 L1169.7 603.2 L1181.6 617.5 L1194.6 631.8 L1208.8 646.2 L1224.1 660.5 L1240.3 674.8 L1257.2 689.1 L1274.5 703.4" fill="none" stroke="#2a0606" stroke-width="5" stroke-linecap="round" opacity="0.92"/>
<path d="M1160.6 560.3 L1170.5 574.6 L1180.7 588.9 L1191.7 603.2 L1203.6 617.5 L1216.6 631.8 L1230.8 646.2 L1246.1 660.5 L1262.3 674.8 L1279.2 689.1 L1296.5 703.4" fill="none" stroke="#2a0606" stroke-width="5" stroke-linecap="round" opacity="0.92"/>
<path d="M1182.6 560.3 L1192.5 574.6 L1202.7 588.9 L1213.7 603.2 L1225.6 617.5 L1238.6 631.8 L1252.8 646.2 L1268.1 660.5 L1284.3 674.8 L1301.2 689.1 L1318.5 703.4" fill="none" stroke="#2a0606" stroke-width="5" stroke-linecap="round" opacity="0.92"/>
<path d="M1204.6 560.3 L1214.5 574.6 L1224.7 588.9 L1235.7 603.2 L1247.6 617.5 L1260.6 631.8 L1274.8 646.2 L1290.1 660.5 L1306.3 674.8 L1323.2 689.1 L1340.5 703.4" fill="none" stroke="#2a0606" stroke-width="5" stroke-linecap="round" opacity="0.92"/>
<path d="M1226.6 560.3 L1236.5 574.6 L1246.7 588.9 L1257.7 603.2 L1269.6 617.5 L1282.6 631.8 L1296.8 646.2 L1312.1 660.5 L1328.3 674.8 L1345.2 689.1 L1362.5 703.4" fill="none" stroke="#2a0606" stroke-width="5" stroke-linecap="round" opacity="0.92"/>
<path d="M1248.6 560.3 L1258.5 574.6 L1268.7 588.9 L1279.7 603.2 L1291.6 617.5 L1304.6 631.8 L1318.8 646.2 L1334.1 660.5 L1350.3 674.8 L1367.2 689.1 L1384.5 703.4" fill="none" stroke="#2a0606" stroke-width="5" stroke-linecap="round" opacity="0.92"/>
<path d="M1270.6 560.3 L1280.5 574.6 L1290.7 588.9 L1301.7 603.2 L1313.6 617.5 L1326.6 631.8 L1340.8 646.2 L1356.1 660.5 L1372.3 674.8 L1389.2 689.1 L1406.5 703.4" fill="none" stroke="#2a0606" stroke-width="5" stroke-linecap="round" opacity="0.92"/>
</g></g>
<rect x="932.3" y="570.3" width="117.7" height="123.1" filter="url(#mottle)" opacity="0.8"/>
</g>
<text x="936.0999999999999" y="592.0" font-size="23.5" style="fill:#fff;stroke:#fff;stroke-width:0.3px">1</text>
<g clip-path="url(#tclip2)">
<rect x="1058.6" y="570.3" width="117.7" height="123.1" fill="#a22e26"/>
<rect x="1058.6" y="570.3" width="117.7" height="123.1" filter="url(#dots2)" opacity="0.75"/>
<g filter="url(#wavy2)"><g filter="url(#blur1)">
<path d="M1195.0 745 A20.0 23.0 0 1 1 1235.0 745" fill="none" stroke="#2a0606" stroke-width="5" stroke-linecap="round" opacity="0.92"/>
<path d="M1235.0 745 A20.0 23.0 0 1 1 1195.0 745" fill="none" stroke="#2a0606" stroke-width="5" stroke-linecap="round" opacity="0.92"/>
<path d="M1179.0 745 A36.0 41.4 0 1 1 1251.0 745" fill="none" stroke="#2a0606" stroke-width="5" stroke-linecap="round" opacity="0.92"/>
<path d="M1251.0 745 A36.0 41.4 0 1 1 1179.0 745" fill="none" stroke="#2a0606" stroke-width="5" stroke-linecap="round" opacity="0.92"/>
<path d="M1163.0 745 A52.0 59.8 0 1 1 1267.0 745" fill="none" stroke="#2a0606" stroke-width="5" stroke-linecap="round" opacity="0.92"/>
<path d="M1267.0 745 A52.0 59.8 0 1 1 1163.0 745" fill="none" stroke="#2a0606" stroke-width="5" stroke-linecap="round" opacity="0.92"/>
<path d="M1147.0 745 A68.0 78.2 0 1 1 1283.0 745" fill="none" stroke="#2a0606" stroke-width="5" stroke-linecap="round" opacity="0.92"/>
<path d="M1283.0 745 A68.0 78.2 0 1 1 1147.0 745" fill="none" stroke="#2a0606" stroke-width="5" stroke-linecap="round" opacity="0.92"/>
<path d="M1131.0 745 A84.0 96.6 0 1 1 1299.0 745" fill="none" stroke="#2a0606" stroke-width="5" stroke-linecap="round" opacity="0.92"/>
<path d="M1299.0 745 A84.0 96.6 0 1 1 1131.0 745" fill="none" stroke="#2a0606" stroke-width="5" stroke-linecap="round" opacity="0.92"/>
<path d="M1115.0 745 A100.0 115.0 0 1 1 1315.0 745" fill="none" stroke="#2a0606" stroke-width="5" stroke-linecap="round" opacity="0.92"/>
<path d="M1315.0 745 A100.0 115.0 0 1 1 1115.0 745" fill="none" stroke="#2a0606" stroke-width="5" stroke-linecap="round" opacity="0.92"/>
<path d="M1099.0 745 A116.0 133.4 0 1 1 1331.0 745" fill="none" stroke="#2a0606" stroke-width="5" stroke-linecap="round" opacity="0.92"/>
<path d="M1331.0 745 A116.0 133.4 0 1 1 1099.0 745" fill="none" stroke="#2a0606" stroke-width="5" stroke-linecap="round" opacity="0.92"/>
<path d="M1083.0 745 A132.0 151.8 0 1 1 1347.0 745" fill="none" stroke="#2a0606" stroke-width="5" stroke-linecap="round" opacity="0.92"/>
<path d="M1347.0 745 A132.0 151.8 0 1 1 1083.0 745" fill="none" stroke="#2a0606" stroke-width="5" stroke-linecap="round" opacity="0.92"/>
<path d="M1067.0 745 A148.0 170.2 0 1 1 1363.0 745" fill="none" stroke="#2a0606" stroke-width="5" stroke-linecap="round" opacity="0.92"/>
<path d="M1363.0 745 A148.0 170.2 0 1 1 1067.0 745" fill="none" stroke="#2a0606" stroke-width="5" stroke-linecap="round" opacity="0.92"/>
<path d="M1051.0 745 A164.0 188.6 0 1 1 1379.0 745" fill="none" stroke="#2a0606" stroke-width="5" stroke-linecap="round" opacity="0.92"/>
<path d="M1379.0 745 A164.0 188.6 0 1 1 1051.0 745" fill="none" stroke="#2a0606" stroke-width="5" stroke-linecap="round" opacity="0.92"/>
<path d="M1035.0 745 A180.0 207.0 0 1 1 1395.0 745" fill="none" stroke="#2a0606" stroke-width="5" stroke-linecap="round" opacity="0.92"/>
<path d="M1395.0 745 A180.0 207.0 0 1 1 1035.0 745" fill="none" stroke="#2a0606" stroke-width="5" stroke-linecap="round" opacity="0.92"/>
<path d="M1019.0 745 A196.0 225.4 0 1 1 1411.0 745" fill="none" stroke="#2a0606" stroke-width="5" stroke-linecap="round" opacity="0.92"/>
<path d="M1411.0 745 A196.0 225.4 0 1 1 1019.0 745" fill="none" stroke="#2a0606" stroke-width="5" stroke-linecap="round" opacity="0.92"/>
<path d="M1003.0 745 A212.0 243.8 0 1 1 1427.0 745" fill="none" stroke="#2a0606" stroke-width="5" stroke-linecap="round" opacity="0.92"/>
<path d="M1427.0 745 A212.0 243.8 0 1 1 1003.0 745" fill="none" stroke="#2a0606" stroke-width="5" stroke-linecap="round" opacity="0.92"/>
<path d="M987.0 745 A228.0 262.2 0 1 1 1443.0 745" fill="none" stroke="#2a0606" stroke-width="5" stroke-linecap="round" opacity="0.92"/>
<path d="M1443.0 745 A228.0 262.2 0 1 1 987.0 745" fill="none" stroke="#2a0606" stroke-width="5" stroke-linecap="round" opacity="0.92"/>
<path d="M971.0 745 A244.0 280.6 0 1 1 1459.0 745" fill="none" stroke="#2a0606" stroke-width="5" stroke-linecap="round" opacity="0.92"/>
<path d="M1459.0 745 A244.0 280.6 0 1 1 971.0 745" fill="none" stroke="#2a0606" stroke-width="5" stroke-linecap="round" opacity="0.92"/>
</g></g>
<rect x="1058.6" y="570.3" width="117.7" height="123.1" filter="url(#mottle)" opacity="0.8"/>
</g>
<text x="1062.3999999999999" y="592.0" font-size="23.5" style="fill:#fff;stroke:#fff;stroke-width:0.3px">2</text>
<g clip-path="url(#tclip3)">
<rect x="932.3" y="700.2" width="117.7" height="122.3" fill="#a22e26"/>
<rect x="932.3" y="700.2" width="117.7" height="122.3" filter="url(#dots2)" opacity="0.75"/>
<g filter="url(#wavy2)"><g filter="url(#blur1)">
<path d="M691.2 690.2 L688.1 704.4 L684.8 718.7 L681.1 732.9 L677.0 747.1 L672.3 761.4 L667.0 775.6 L661.2 789.8 L654.9 804.0 L648.2 818.3 L641.4 832.5" fill="none" stroke="#2a0606" stroke-width="5" stroke-linecap="round" opacity="0.92"/>
<path d="M705.2 690.2 L702.1 704.4 L698.8 718.7 L695.1 732.9 L691.0 747.1 L686.3 761.4 L681.0 775.6 L675.2 789.8 L668.9 804.0 L662.2 818.3 L655.4 832.5" fill="none" stroke="#2a0606" stroke-width="5" stroke-linecap="round" opacity="0.92"/>
<path d="M719.2 690.2 L716.1 704.4 L712.8 718.7 L709.1 732.9 L705.0 747.1 L700.3 761.4 L695.0 775.6 L689.2 789.8 L682.9 804.0 L676.2 818.3 L669.4 832.5" fill="none" stroke="#2a0606" stroke-width="5" stroke-linecap="round" opacity="0.92"/>
<path d="M733.2 690.2 L730.1 704.4 L726.8 718.7 L723.1 732.9 L719.0 747.1 L714.3 761.4 L709.0 775.6 L703.2 789.8 L696.9 804.0 L690.2 818.3 L683.4 832.5" fill="none" stroke="#2a0606" stroke-width="5" stroke-linecap="round" opacity="0.92"/>
<path d="M747.2 690.2 L744.1 704.4 L740.8 718.7 L737.1 732.9 L733.0 747.1 L728.3 761.4 L723.0 775.6 L717.2 789.8 L710.9 804.0 L704.2 818.3 L697.4 832.5" fill="none" stroke="#2a0606" stroke-width="5" stroke-linecap="round" opacity="0.92"/>
<path d="M761.2 690.2 L758.1 704.4 L754.8 718.7 L751.1 732.9 L747.0 747.1 L742.3 761.4 L737.0 775.6 L731.2 789.8 L724.9 804.0 L718.2 818.3 L711.4 832.5" fill="none" stroke="#2a0606" stroke-width="5" stroke-linecap="round" opacity="0.92"/>
<path d="M775.2 690.2 L772.1 704.4 L768.8 718.7 L765.1 732.9 L761.0 747.1 L756.3 761.4 L751.0 775.6 L745.2 789.8 L738.9 804.0 L732.2 818.3 L725.4 832.5" fill="none" stroke="#2a0606" stroke-width="5" stroke-linecap="round" opacity="0.92"/>
<path d="M789.2 690.2 L786.1 704.4 L782.8 718.7 L779.1 732.9 L775.0 747.1 L770.3 761.4 L765.0 775.6 L759.2 789.8 L752.9 804.0 L746.2 818.3 L739.4 832.5" fill="none" stroke="#2a0606" stroke-width="5" stroke-linecap="round" opacity="0.92"/>
<path d="M803.2 690.2 L800.1 704.4 L796.8 718.7 L793.1 732.9 L789.0 747.1 L784.3 761.4 L779.0 775.6 L773.2 789.8 L766.9 804.0 L760.2 818.3 L753.4 832.5" fill="none" stroke="#2a0606" stroke-width="5" stroke-linecap="round" opacity="0.92"/>
<path d="M817.2 690.2 L814.1 704.4 L810.8 718.7 L807.1 732.9 L803.0 747.1 L798.3 761.4 L793.0 775.6 L787.2 789.8 L780.9 804.0 L774.2 818.3 L767.4 832.5" fill="none" stroke="#2a0606" stroke-width="5" stroke-linecap="round" opacity="0.92"/>
<path d="M831.2 690.2 L828.1 704.4 L824.8 718.7 L821.1 732.9 L817.0 747.1 L812.3 761.4 L807.0 775.6 L801.2 789.8 L794.9 804.0 L788.2 818.3 L781.4 832.5" fill="none" stroke="#2a0606" stroke-width="5" stroke-linecap="round" opacity="0.92"/>
<path d="M845.2 690.2 L842.1 704.4 L838.8 718.7 L835.1 732.9 L831.0 747.1 L826.3 761.4 L821.0 775.6 L815.2 789.8 L808.9 804.0 L802.2 818.3 L795.4 832.5" fill="none" stroke="#2a0606" stroke-width="5" stroke-linecap="round" opacity="0.92"/>
<path d="M859.2 690.2 L856.1 704.4 L852.8 718.7 L849.1 732.9 L845.0 747.1 L840.3 761.4 L835.0 775.6 L829.2 789.8 L822.9 804.0 L816.2 818.3 L809.4 832.5" fill="none" stroke="#2a0606" stroke-width="5" stroke-linecap="round" opacity="0.92"/>
<path d="M873.2 690.2 L870.1 704.4 L866.8 718.7 L863.1 732.9 L859.0 747.1 L854.3 761.4 L849.0 775.6 L843.2 789.8 L836.9 804.0 L830.2 818.3 L823.4 832.5" fill="none" stroke="#2a0606" stroke-width="5" stroke-linecap="round" opacity="0.92"/>
<path d="M887.2 690.2 L884.1 704.4 L880.8 718.7 L877.1 732.9 L873.0 747.1 L868.3 761.4 L863.0 775.6 L857.2 789.8 L850.9 804.0 L844.2 818.3 L837.4 832.5" fill="none" stroke="#2a0606" stroke-width="5" stroke-linecap="round" opacity="0.92"/>
<path d="M901.2 690.2 L898.1 704.4 L894.8 718.7 L891.1 732.9 L887.0 747.1 L882.3 761.4 L877.0 775.6 L871.2 789.8 L864.9 804.0 L858.2 818.3 L851.4 832.5" fill="none" stroke="#2a0606" stroke-width="5" stroke-linecap="round" opacity="0.92"/>
<path d="M915.2 690.2 L912.1 704.4 L908.8 718.7 L905.1 732.9 L901.0 747.1 L896.3 761.4 L891.0 775.6 L885.2 789.8 L878.9 804.0 L872.2 818.3 L865.4 832.5" fill="none" stroke="#2a0606" stroke-width="5" stroke-linecap="round" opacity="0.92"/>
<path d="M929.2 690.2 L926.1 704.4 L922.8 718.7 L919.1 732.9 L915.0 747.1 L910.3 761.4 L905.0 775.6 L899.2 789.8 L892.9 804.0 L886.2 818.3 L879.4 832.5" fill="none" stroke="#2a0606" stroke-width="5" stroke-linecap="round" opacity="0.92"/>
<path d="M943.2 690.2 L940.1 704.4 L936.8 718.7 L933.1 732.9 L929.0 747.1 L924.3 761.4 L919.0 775.6 L913.2 789.8 L906.9 804.0 L900.2 818.3 L893.4 832.5" fill="none" stroke="#2a0606" stroke-width="5" stroke-linecap="round" opacity="0.92"/>
<path d="M957.2 690.2 L954.1 704.4 L950.8 718.7 L947.1 732.9 L943.0 747.1 L938.3 761.4 L933.0 775.6 L927.2 789.8 L920.9 804.0 L914.2 818.3 L907.4 832.5" fill="none" stroke="#2a0606" stroke-width="5" stroke-linecap="round" opacity="0.92"/>
<path d="M971.2 690.2 L968.1 704.4 L964.8 718.7 L961.1 732.9 L957.0 747.1 L952.3 761.4 L947.0 775.6 L941.2 789.8 L934.9 804.0 L928.2 818.3 L921.4 832.5" fill="none" stroke="#2a0606" stroke-width="5" stroke-linecap="round" opacity="0.92"/>
<path d="M985.2 690.2 L982.1 704.4 L978.8 718.7 L975.1 732.9 L971.0 747.1 L966.3 761.4 L961.0 775.6 L955.2 789.8 L948.9 804.0 L942.2 818.3 L935.4 832.5" fill="none" stroke="#2a0606" stroke-width="5" stroke-linecap="round" opacity="0.92"/>
<path d="M999.2 690.2 L996.1 704.4 L992.8 718.7 L989.1 732.9 L985.0 747.1 L980.3 761.4 L975.0 775.6 L969.2 789.8 L962.9 804.0 L956.2 818.3 L949.4 832.5" fill="none" stroke="#2a0606" stroke-width="5" stroke-linecap="round" opacity="0.92"/>
<path d="M1013.2 690.2 L1010.1 704.4 L1006.8 718.7 L1003.1 732.9 L999.0 747.1 L994.3 761.4 L989.0 775.6 L983.2 789.8 L976.9 804.0 L970.2 818.3 L963.4 832.5" fill="none" stroke="#2a0606" stroke-width="5" stroke-linecap="round" opacity="0.92"/>
<path d="M1027.2 690.2 L1024.1 704.4 L1020.8 718.7 L1017.1 732.9 L1013.0 747.1 L1008.3 761.4 L1003.0 775.6 L997.2 789.8 L990.9 804.0 L984.2 818.3 L977.4 832.5" fill="none" stroke="#2a0606" stroke-width="5" stroke-linecap="round" opacity="0.92"/>
<path d="M1041.2 690.2 L1038.1 704.4 L1034.8 718.7 L1031.1 732.9 L1027.0 747.1 L1022.3 761.4 L1017.0 775.6 L1011.2 789.8 L1004.9 804.0 L998.2 818.3 L991.4 832.5" fill="none" stroke="#2a0606" stroke-width="5" stroke-linecap="round" opacity="0.92"/>
<path d="M1055.2 690.2 L1052.1 704.4 L1048.8 718.7 L1045.1 732.9 L1041.0 747.1 L1036.3 761.4 L1031.0 775.6 L1025.2 789.8 L1018.9 804.0 L1012.2 818.3 L1005.4 832.5" fill="none" stroke="#2a0606" stroke-width="5" stroke-linecap="round" opacity="0.92"/>
<path d="M1069.2 690.2 L1066.1 704.4 L1062.8 718.7 L1059.1 732.9 L1055.0 747.1 L1050.3 761.4 L1045.0 775.6 L1039.2 789.8 L1032.9 804.0 L1026.2 818.3 L1019.4 832.5" fill="none" stroke="#2a0606" stroke-width="5" stroke-linecap="round" opacity="0.92"/>
<path d="M1083.2 690.2 L1080.1 704.4 L1076.8 718.7 L1073.1 732.9 L1069.0 747.1 L1064.3 761.4 L1059.0 775.6 L1053.2 789.8 L1046.9 804.0 L1040.2 818.3 L1033.4 832.5" fill="none" stroke="#2a0606" stroke-width="5" stroke-linecap="round" opacity="0.92"/>
<path d="M1097.2 690.2 L1094.1 704.4 L1090.8 718.7 L1087.1 732.9 L1083.0 747.1 L1078.3 761.4 L1073.0 775.6 L1067.2 789.8 L1060.9 804.0 L1054.2 818.3 L1047.4 832.5" fill="none" stroke="#2a0606" stroke-width="5" stroke-linecap="round" opacity="0.92"/>
<path d="M1111.2 690.2 L1108.1 704.4 L1104.8 718.7 L1101.1 732.9 L1097.0 747.1 L1092.3 761.4 L1087.0 775.6 L1081.2 789.8 L1074.9 804.0 L1068.2 818.3 L1061.4 832.5" fill="none" stroke="#2a0606" stroke-width="5" stroke-linecap="round" opacity="0.92"/>
<path d="M1125.2 690.2 L1122.1 704.4 L1118.8 718.7 L1115.1 732.9 L1111.0 747.1 L1106.3 761.4 L1101.0 775.6 L1095.2 789.8 L1088.9 804.0 L1082.2 818.3 L1075.4 832.5" fill="none" stroke="#2a0606" stroke-width="5" stroke-linecap="round" opacity="0.92"/>
<path d="M1139.2 690.2 L1136.1 704.4 L1132.8 718.7 L1129.1 732.9 L1125.0 747.1 L1120.3 761.4 L1115.0 775.6 L1109.2 789.8 L1102.9 804.0 L1096.2 818.3 L1089.4 832.5" fill="none" stroke="#2a0606" stroke-width="5" stroke-linecap="round" opacity="0.92"/>
<path d="M1153.2 690.2 L1150.1 704.4 L1146.8 718.7 L1143.1 732.9 L1139.0 747.1 L1134.3 761.4 L1129.0 775.6 L1123.2 789.8 L1116.9 804.0 L1110.2 818.3 L1103.4 832.5" fill="none" stroke="#2a0606" stroke-width="5" stroke-linecap="round" opacity="0.92"/>
<path d="M1167.2 690.2 L1164.1 704.4 L1160.8 718.7 L1157.1 732.9 L1153.0 747.1 L1148.3 761.4 L1143.0 775.6 L1137.2 789.8 L1130.9 804.0 L1124.2 818.3 L1117.4 832.5" fill="none" stroke="#2a0606" stroke-width="5" stroke-linecap="round" opacity="0.92"/>
<path d="M1181.2 690.2 L1178.1 704.4 L1174.8 718.7 L1171.1 732.9 L1167.0 747.1 L1162.3 761.4 L1157.0 775.6 L1151.2 789.8 L1144.9 804.0 L1138.2 818.3 L1131.4 832.5" fill="none" stroke="#2a0606" stroke-width="5" stroke-linecap="round" opacity="0.92"/>
<path d="M1195.2 690.2 L1192.1 704.4 L1188.8 718.7 L1185.1 732.9 L1181.0 747.1 L1176.3 761.4 L1171.0 775.6 L1165.2 789.8 L1158.9 804.0 L1152.2 818.3 L1145.4 832.5" fill="none" stroke="#2a0606" stroke-width="5" stroke-linecap="round" opacity="0.92"/>
<path d="M1209.2 690.2 L1206.1 704.4 L1202.8 718.7 L1199.1 732.9 L1195.0 747.1 L1190.3 761.4 L1185.0 775.6 L1179.2 789.8 L1172.9 804.0 L1166.2 818.3 L1159.4 832.5" fill="none" stroke="#2a0606" stroke-width="5" stroke-linecap="round" opacity="0.92"/>
<path d="M1223.2 690.2 L1220.1 704.4 L1216.8 718.7 L1213.1 732.9 L1209.0 747.1 L1204.3 761.4 L1199.0 775.6 L1193.2 789.8 L1186.9 804.0 L1180.2 818.3 L1173.4 832.5" fill="none" stroke="#2a0606" stroke-width="5" stroke-linecap="round" opacity="0.92"/>
<path d="M1237.2 690.2 L1234.1 704.4 L1230.8 718.7 L1227.1 732.9 L1223.0 747.1 L1218.3 761.4 L1213.0 775.6 L1207.2 789.8 L1200.9 804.0 L1194.2 818.3 L1187.4 832.5" fill="none" stroke="#2a0606" stroke-width="5" stroke-linecap="round" opacity="0.92"/>
<path d="M1251.2 690.2 L1248.1 704.4 L1244.8 718.7 L1241.1 732.9 L1237.0 747.1 L1232.3 761.4 L1227.0 775.6 L1221.2 789.8 L1214.9 804.0 L1208.2 818.3 L1201.4 832.5" fill="none" stroke="#2a0606" stroke-width="5" stroke-linecap="round" opacity="0.92"/>
<path d="M1265.2 690.2 L1262.1 704.4 L1258.8 718.7 L1255.1 732.9 L1251.0 747.1 L1246.3 761.4 L1241.0 775.6 L1235.2 789.8 L1228.9 804.0 L1222.2 818.3 L1215.4 832.5" fill="none" stroke="#2a0606" stroke-width="5" stroke-linecap="round" opacity="0.92"/>
<path d="M1279.2 690.2 L1276.1 704.4 L1272.8 718.7 L1269.1 732.9 L1265.0 747.1 L1260.3 761.4 L1255.0 775.6 L1249.2 789.8 L1242.9 804.0 L1236.2 818.3 L1229.4 832.5" fill="none" stroke="#2a0606" stroke-width="5" stroke-linecap="round" opacity="0.92"/>
<path d="M1293.2 690.2 L1290.1 704.4 L1286.8 718.7 L1283.1 732.9 L1279.0 747.1 L1274.3 761.4 L1269.0 775.6 L1263.2 789.8 L1256.9 804.0 L1250.2 818.3 L1243.4 832.5" fill="none" stroke="#2a0606" stroke-width="5" stroke-linecap="round" opacity="0.92"/>
</g></g>
<rect x="932.3" y="700.2" width="117.7" height="122.3" filter="url(#mottle)" opacity="0.8"/>
</g>
<text x="936.0999999999999" y="721.9000000000001" font-size="23.5" style="fill:#fff;stroke:#fff;stroke-width:0.3px">3</text>
<g clip-path="url(#tclip4)">
<rect x="1058.6" y="700.2" width="117.7" height="122.3" fill="#a22e26"/>
<rect x="1058.6" y="700.2" width="117.7" height="122.3" filter="url(#dots2)" opacity="0.75"/>
<g filter="url(#wavy2)"><g filter="url(#blur1)">
<path d="M1073.0 752 A9.0 16.2 -40 1 1 1091.0 752" fill="none" stroke="#2a0606" stroke-width="5" stroke-linecap="round" opacity="0.92"/>
<path d="M1091.0 752 A9.0 16.2 -40 1 1 1073.0 752" fill="none" stroke="#2a0606" stroke-width="5" stroke-linecap="round" opacity="0.92"/>
<path d="M1057.0 752 A25.0 45.0 -40 1 1 1107.0 752" fill="none" stroke="#2a0606" stroke-width="5" stroke-linecap="round" opacity="0.92"/>
<path d="M1107.0 752 A25.0 45.0 -40 1 1 1057.0 752" fill="none" stroke="#2a0606" stroke-width="5" stroke-linecap="round" opacity="0.92"/>
<path d="M1041.0 752 A41.0 73.8 -40 1 1 1123.0 752" fill="none" stroke="#2a0606" stroke-width="5" stroke-linecap="round" opacity="0.92"/>
<path d="M1123.0 752 A41.0 73.8 -40 1 1 1041.0 752" fill="none" stroke="#2a0606" stroke-width="5" stroke-linecap="round" opacity="0.92"/>
<path d="M1025.0 752 A57.0 102.6 -40 1 1 1139.0 752" fill="none" stroke="#2a0606" stroke-width="5" stroke-linecap="round" opacity="0.92"/>
<path d="M1139.0 752 A57.0 102.6 -40 1 1 1025.0 752" fill="none" stroke="#2a0606" stroke-width="5" stroke-linecap="round" opacity="0.92"/>
<path d="M1009.0 752 A73.0 131.4 -40 1 1 1155.0 752" fill="none" stroke="#2a0606" stroke-width="5" stroke-linecap="round" opacity="0.92"/>
<path d="M1155.0 752 A73.0 131.4 -40 1 1 1009.0 752" fill="none" stroke="#2a0606" stroke-width="5" stroke-linecap="round" opacity="0.92"/>
<path d="M993.0 752 A89.0 160.2 -40 1 1 1171.0 752" fill="none" stroke="#2a0606" stroke-width="5" stroke-linecap="round" opacity="0.92"/>
<path d="M1171.0 752 A89.0 160.2 -40 1 1 993.0 752" fill="none" stroke="#2a0606" stroke-width="5" stroke-linecap="round" opacity="0.92"/>
<path d="M977.0 752 A105.0 189.0 -40 1 1 1187.0 752" fill="none" stroke="#2a0606" stroke-width="5" stroke-linecap="round" opacity="0.92"/>
<path d="M1187.0 752 A105.0 189.0 -40 1 1 977.0 752" fill="none" stroke="#2a0606" stroke-width="5" stroke-linecap="round" opacity="0.92"/>
<path d="M961.0 752 A121.0 217.8 -40 1 1 1203.0 752" fill="none" stroke="#2a0606" stroke-width="5" stroke-linecap="round" opacity="0.92"/>
<path d="M1203.0 752 A121.0 217.8 -40 1 1 961.0 752" fill="none" stroke="#2a0606" stroke-width="5" stroke-linecap="round" opacity="0.92"/>
<path d="M945.0 752 A137.0 246.6 -40 1 1 1219.0 752" fill="none" stroke="#2a0606" stroke-width="5" stroke-linecap="round" opacity="0.92"/>
<path d="M1219.0 752 A137.0 246.6 -40 1 1 945.0 752" fill="none" stroke="#2a0606" stroke-width="5" stroke-linecap="round" opacity="0.92"/>
<path d="M929.0 752 A153.0 275.4 -40 1 1 1235.0 752" fill="none" stroke="#2a0606" stroke-width="5" stroke-linecap="round" opacity="0.92"/>
<path d="M1235.0 752 A153.0 275.4 -40 1 1 929.0 752" fill="none" stroke="#2a0606" stroke-width="5" stroke-linecap="round" opacity="0.92"/>
<path d="M913.0 752 A169.0 304.2 -40 1 1 1251.0 752" fill="none" stroke="#2a0606" stroke-width="5" stroke-linecap="round" opacity="0.92"/>
<path d="M1251.0 752 A169.0 304.2 -40 1 1 913.0 752" fill="none" stroke="#2a0606" stroke-width="5" stroke-linecap="round" opacity="0.92"/>
<path d="M897.0 752 A185.0 333.0 -40 1 1 1267.0 752" fill="none" stroke="#2a0606" stroke-width="5" stroke-linecap="round" opacity="0.92"/>
<path d="M1267.0 752 A185.0 333.0 -40 1 1 897.0 752" fill="none" stroke="#2a0606" stroke-width="5" stroke-linecap="round" opacity="0.92"/>
<path d="M881.0 752 A201.0 361.8 -40 1 1 1283.0 752" fill="none" stroke="#2a0606" stroke-width="5" stroke-linecap="round" opacity="0.92"/>
<path d="M1283.0 752 A201.0 361.8 -40 1 1 881.0 752" fill="none" stroke="#2a0606" stroke-width="5" stroke-linecap="round" opacity="0.92"/>
<path d="M865.0 752 A217.0 390.6 -40 1 1 1299.0 752" fill="none" stroke="#2a0606" stroke-width="5" stroke-linecap="round" opacity="0.92"/>
<path d="M1299.0 752 A217.0 390.6 -40 1 1 865.0 752" fill="none" stroke="#2a0606" stroke-width="5" stroke-linecap="round" opacity="0.92"/>
</g></g>
<rect x="1058.6" y="700.2" width="117.7" height="122.3" filter="url(#mottle)" opacity="0.8"/>
</g>
<text x="1062.3999999999999" y="721.9000000000001" font-size="23.5" style="fill:#fff;stroke:#fff;stroke-width:0.3px">4</text>
<path d="M896.6 666.2 L901 580 Q 902 565.3 915 565.3 L1176 565.3 Q 1186 565.3 1187 575 Q 1190 600 1189.6 650 L1189.6 810 Q 1189.6 827.8 1176 827.8 L912 827.8 Q 899 827.8 899 815 L896.6 702.5" fill="none" stroke="#1e1e1e" stroke-width="2.7" stroke-dasharray="9.7 3.7"/>
<path d="M896.6 666.2 L901 580 Q 902 565.3 915 565.3 L1176 565.3 Q 1186 565.3 1187 575 Q 1190 600 1189.6 650 L1189.6 810 Q 1189.6 827.8 1176 827.8 L912 827.8 Q 899 827.8 899 815 L896.6 702.5" fill="none" stroke="#5a5a5a" stroke-width="2.7" stroke-dasharray="9.7 3.7" clip-path="url(#brclip)"/>
<path d="M899 666.2 L860.3 677 L899 702.5" fill="none" stroke="#c8c8c8" stroke-width="3.4" stroke-dasharray="8 4"/>
</svg>
</body></html>
